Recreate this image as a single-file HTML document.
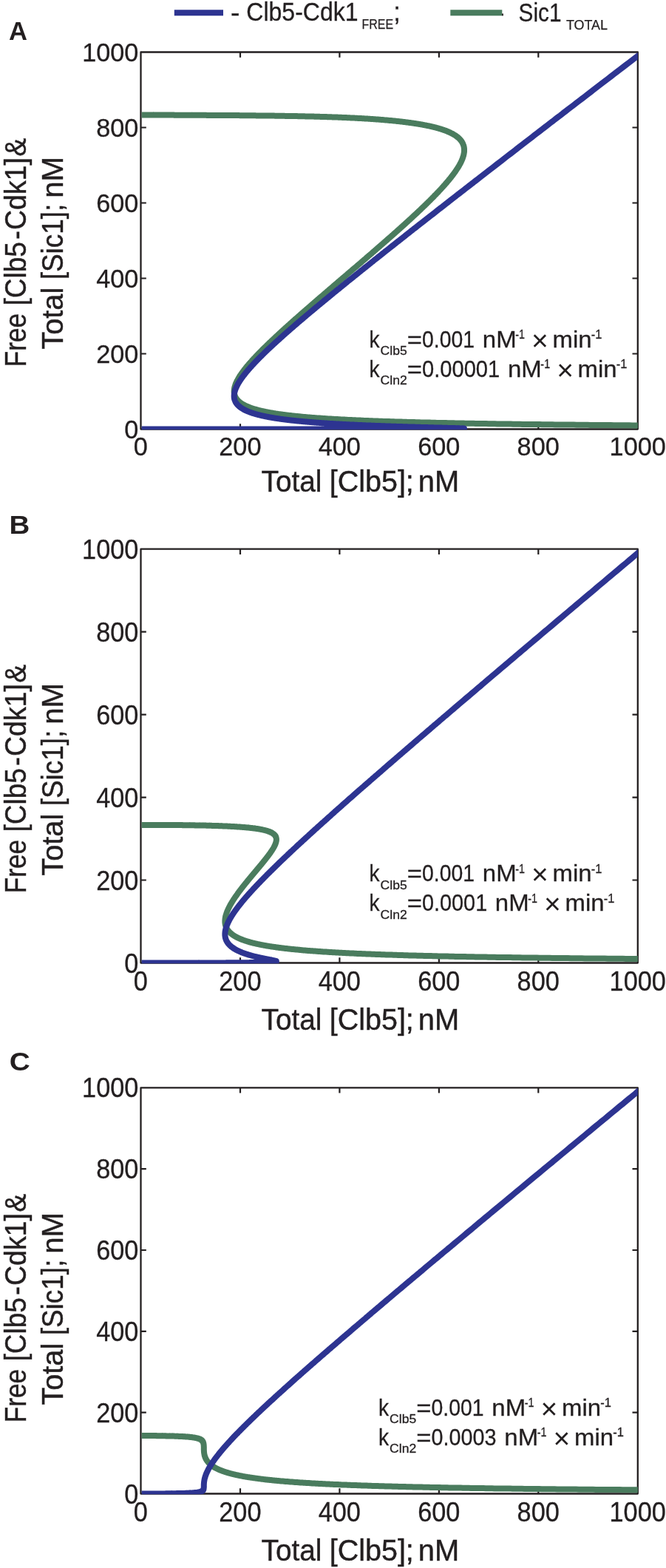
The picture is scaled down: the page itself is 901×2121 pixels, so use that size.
<!DOCTYPE html>
<html lang="en"><head><meta charset="utf-8"><title>Figure</title>
<style>html,body{margin:0;padding:0;background:#fff}svg{display:block}</style></head>
<body>
<svg width="901" height="2121" viewBox="0 0 901 2121">
<rect width="901" height="2121" fill="#fff"/>
<defs>
<clipPath id="cbA"><rect x="191.6" y="71.3" width="671.3" height="510.0"/></clipPath>
<clipPath id="cbB"><rect x="191.6" y="743.5" width="671.3" height="559.8"/></clipPath>
<clipPath id="cbC"><rect x="191.6" y="1472.1" width="671.3" height="549.2"/></clipPath>
</defs>
<line x1="235.8" y1="17.2" x2="302" y2="17.2" stroke="#2d3491" stroke-width="8"/>
<line x1="609.3" y1="17.2" x2="679.3" y2="17.2" stroke="#4a7c5e" stroke-width="8"/>
<rect x="679.1" y="18.4" width="1.8" height="2.9" fill="#231f20"/>
<g font-family="'Liberation Sans', sans-serif" fill="#231f20" stroke="#231f20" stroke-width="0.3">
<text x="311.94" y="29.4" font-size="34.3" textLength="12.41" lengthAdjust="spacingAndGlyphs">-</text>
<text x="333.27" y="28.0" font-size="34.3" textLength="151.29" lengthAdjust="spacingAndGlyphs">Clb5-Cdk1</text>
<text x="489.49" y="39.3" font-size="18.8" textLength="42.60" lengthAdjust="spacingAndGlyphs" stroke="#231f20" stroke-width="0.25">FREE</text>
<text x="532.3" y="28" font-size="34.3">;</text>
<text x="701.55" y="28.5" font-size="34.3" textLength="57.91" lengthAdjust="spacingAndGlyphs">Sic1</text>
<text x="765.91" y="39.5" font-size="18.8" textLength="56.07" lengthAdjust="spacingAndGlyphs" stroke="#231f20" stroke-width="0.25">TOTAL</text>
</g>
<rect x="190.5" y="70.5" width="672.3" height="510.0" fill="none" stroke="#231f20" stroke-width="2.3" stroke-linejoin="round"/>
<path d="M325.0,580.5 v-7.3 M325.0,70.5 v7.3 M190.5,478.5 h7.3 M862.8,478.5 h-7.3 M459.4,580.5 v-7.3 M459.4,70.5 v7.3 M190.5,376.5 h7.3 M862.8,376.5 h-7.3 M593.9,580.5 v-7.3 M593.9,70.5 v7.3 M190.5,274.5 h7.3 M862.8,274.5 h-7.3 M728.3,580.5 v-7.3 M728.3,70.5 v7.3 M190.5,172.5 h7.3 M862.8,172.5 h-7.3" stroke="#231f20" stroke-width="2.2" fill="none"/>
<g fill="none" stroke-width="8" stroke-linejoin="round">
<path clip-path="url(#cbA)" stroke="#4a7c5e" d="M190.5,155.5 L191.7,155.5 L191.8,155.5 L191.9,155.5 L192.0,155.5 L192.1,155.5 L192.2,155.5 L192.3,155.5 L192.4,155.5 L192.5,155.5 L192.6,155.5 L192.7,155.5 L192.8,155.5 L192.9,155.5 L193.0,155.5 L193.1,155.5 L193.2,155.5 L193.3,155.5 L193.4,155.5 L193.5,155.5 L193.6,155.5 L193.7,155.5 L193.8,155.5 L193.9,155.5 L194.0,155.5 L194.1,155.5 L194.2,155.5 L194.3,155.5 L194.4,155.5 L194.5,155.5 L194.6,155.5 L194.7,155.5 L194.8,155.5 L194.9,155.5 L195.0,155.5 L195.1,155.5 L195.2,155.5 L195.3,155.5 L195.4,155.5 L195.5,155.5 L195.6,155.5 L195.7,155.5 L195.8,155.5 L195.9,155.5 L196.0,155.5 L196.1,155.5 L196.2,155.5 L196.3,155.5 L196.4,155.5 L196.5,155.5 L196.6,155.5 L196.7,155.5 L196.8,155.5 L196.9,155.5 L197.0,155.5 L197.1,155.5 L197.2,155.5 L197.3,155.5 L197.4,155.5 L197.5,155.5 L197.6,155.5 L197.7,155.5 L197.8,155.5 L197.9,155.5 L198.0,155.5 L198.1,155.5 L198.2,155.5 L198.3,155.5 L198.4,155.5 L198.5,155.5 L198.6,155.5 L198.7,155.5 L198.8,155.5 L198.9,155.5 L199.0,155.5 L199.1,155.5 L199.2,155.5 L199.3,155.5 L199.4,155.5 L199.5,155.5 L199.6,155.5 L199.7,155.5 L199.8,155.5 L199.9,155.5 L200.0,155.5 L200.1,155.5 L200.2,155.5 L200.3,155.5 L200.4,155.5 L200.5,155.5 L200.6,155.5 L200.7,155.5 L200.8,155.5 L200.9,155.5 L201.0,155.5 L201.1,155.5 L201.2,155.5 L201.3,155.5 L201.4,155.5 L201.5,155.5 L201.6,155.5 L201.7,155.5 L201.8,155.5 L201.9,155.5 L202.0,155.5 L202.1,155.5 L202.2,155.5 L202.3,155.5 L202.4,155.5 L202.5,155.5 L202.6,155.5 L202.7,155.5 L202.8,155.5 L202.9,155.5 L203.0,155.5 L203.1,155.5 L203.2,155.5 L203.3,155.5 L203.4,155.5 L203.5,155.5 L203.6,155.5 L203.7,155.5 L203.8,155.5 L203.9,155.5 L204.0,155.5 L204.1,155.5 L204.2,155.5 L204.3,155.5 L204.4,155.5 L204.5,155.5 L204.6,155.5 L204.7,155.5 L204.8,155.5 L204.9,155.5 L205.0,155.5 L205.1,155.5 L205.2,155.5 L205.3,155.5 L205.4,155.5 L205.5,155.5 L205.6,155.5 L205.7,155.5 L205.8,155.5 L205.9,155.5 L206.0,155.5 L206.1,155.5 L206.2,155.5 L206.3,155.5 L206.4,155.5 L206.5,155.5 L206.6,155.5 L206.7,155.5 L206.8,155.5 L206.9,155.5 L207.0,155.5 L207.1,155.5 L207.2,155.6 L207.3,155.6 L207.4,155.6 L207.5,155.6 L207.7,155.6 L207.8,155.6 L207.9,155.6 L208.0,155.6 L208.1,155.6 L208.2,155.6 L208.3,155.6 L208.4,155.6 L208.5,155.6 L208.6,155.6 L208.7,155.6 L208.8,155.6 L209.0,155.6 L209.1,155.6 L209.2,155.6 L209.3,155.6 L209.4,155.6 L209.5,155.6 L209.6,155.6 L209.8,155.6 L209.9,155.6 L210.0,155.6 L210.1,155.6 L210.2,155.6 L210.4,155.6 L210.5,155.6 L210.6,155.6 L210.7,155.6 L210.8,155.6 L211.0,155.6 L211.1,155.6 L211.2,155.6 L211.3,155.6 L211.5,155.6 L211.6,155.6 L211.7,155.6 L211.9,155.6 L212.0,155.6 L212.1,155.6 L212.2,155.6 L212.4,155.6 L212.5,155.6 L212.6,155.6 L212.8,155.6 L212.9,155.6 L213.0,155.6 L213.2,155.6 L213.3,155.6 L213.5,155.6 L213.6,155.6 L213.7,155.6 L213.9,155.6 L214.0,155.6 L214.2,155.6 L214.3,155.6 L214.4,155.6 L214.6,155.6 L214.7,155.6 L214.9,155.6 L215.0,155.6 L215.2,155.6 L215.3,155.6 L215.5,155.6 L215.6,155.6 L215.8,155.6 L215.9,155.6 L216.1,155.6 L216.2,155.6 L216.4,155.6 L216.5,155.6 L216.7,155.6 L216.8,155.6 L217.0,155.6 L217.2,155.6 L217.3,155.6 L217.5,155.6 L217.6,155.6 L217.8,155.6 L218.0,155.6 L218.1,155.6 L218.3,155.6 L218.5,155.6 L218.6,155.6 L218.8,155.6 L219.0,155.6 L219.1,155.6 L219.3,155.6 L219.5,155.6 L219.6,155.6 L219.8,155.6 L220.0,155.6 L220.1,155.6 L220.3,155.6 L220.5,155.6 L220.7,155.6 L220.9,155.6 L221.0,155.6 L221.2,155.6 L221.4,155.6 L221.6,155.6 L221.8,155.6 L221.9,155.6 L222.1,155.6 L222.3,155.6 L222.5,155.6 L222.7,155.6 L222.9,155.6 L223.1,155.6 L223.2,155.6 L223.4,155.6 L223.6,155.6 L223.8,155.6 L224.0,155.6 L224.2,155.6 L224.4,155.6 L224.6,155.6 L224.8,155.6 L225.0,155.6 L225.2,155.6 L225.4,155.6 L225.6,155.6 L225.8,155.6 L226.0,155.6 L226.2,155.6 L226.4,155.6 L226.6,155.6 L226.8,155.6 L227.0,155.6 L227.2,155.6 L227.5,155.6 L227.7,155.6 L227.9,155.6 L228.1,155.6 L228.3,155.6 L228.5,155.6 L228.7,155.6 L229.0,155.6 L229.2,155.6 L229.4,155.6 L229.6,155.6 L229.9,155.6 L230.1,155.6 L230.3,155.6 L230.5,155.6 L230.8,155.6 L231.0,155.6 L231.2,155.6 L231.4,155.6 L231.7,155.6 L231.9,155.6 L232.1,155.6 L232.4,155.6 L232.6,155.6 L232.9,155.6 L233.1,155.6 L233.3,155.6 L233.6,155.6 L233.8,155.6 L234.1,155.6 L234.3,155.6 L234.5,155.6 L234.8,155.6 L235.0,155.6 L235.3,155.6 L235.5,155.6 L235.8,155.7 L236.0,155.7 L236.3,155.7 L236.5,155.7 L236.8,155.7 L237.1,155.7 L237.3,155.7 L237.6,155.7 L237.8,155.7 L238.1,155.7 L238.4,155.7 L238.6,155.7 L238.9,155.7 L239.2,155.7 L239.4,155.7 L239.7,155.7 L240.0,155.7 L240.2,155.7 L240.5,155.7 L240.8,155.7 L241.1,155.7 L241.3,155.7 L241.6,155.7 L241.9,155.7 L242.2,155.7 L242.4,155.7 L242.7,155.7 L243.0,155.7 L243.3,155.7 L243.6,155.7 L243.9,155.7 L244.2,155.7 L244.5,155.7 L244.7,155.7 L245.0,155.7 L245.3,155.7 L245.6,155.7 L245.9,155.7 L246.2,155.7 L246.5,155.7 L246.8,155.7 L247.1,155.7 L247.4,155.7 L247.7,155.7 L248.0,155.7 L248.3,155.7 L248.6,155.7 L248.9,155.7 L249.3,155.7 L249.6,155.7 L249.9,155.7 L250.2,155.7 L250.5,155.7 L250.8,155.7 L251.1,155.7 L251.5,155.7 L251.8,155.7 L252.1,155.7 L252.4,155.7 L252.8,155.7 L253.1,155.7 L253.4,155.7 L253.7,155.7 L254.1,155.7 L254.4,155.7 L254.7,155.7 L255.1,155.7 L255.4,155.7 L255.7,155.7 L256.1,155.7 L256.4,155.7 L256.7,155.7 L257.1,155.7 L257.4,155.7 L257.8,155.7 L258.1,155.7 L258.5,155.7 L258.8,155.7 L259.2,155.7 L259.5,155.8 L259.9,155.8 L260.2,155.8 L260.6,155.8 L260.9,155.8 L261.3,155.8 L261.6,155.8 L262.0,155.8 L262.4,155.8 L262.7,155.8 L263.1,155.8 L263.4,155.8 L263.8,155.8 L264.2,155.8 L264.5,155.8 L264.9,155.8 L265.3,155.8 L265.7,155.8 L266.0,155.8 L266.4,155.8 L266.8,155.8 L267.2,155.8 L267.5,155.8 L267.9,155.8 L268.3,155.8 L268.7,155.8 L269.1,155.8 L269.4,155.8 L269.8,155.8 L270.2,155.8 L270.6,155.8 L271.0,155.8 L271.4,155.8 L271.8,155.8 L272.2,155.8 L272.6,155.8 L273.0,155.8 L273.4,155.8 L273.8,155.8 L274.2,155.8 L274.6,155.8 L275.0,155.8 L275.4,155.8 L275.8,155.8 L276.2,155.8 L276.6,155.8 L277.0,155.8 L277.4,155.8 L277.8,155.8 L278.2,155.8 L278.7,155.8 L279.1,155.8 L279.5,155.9 L279.9,155.9 L280.3,155.9 L280.8,155.9 L281.2,155.9 L281.6,155.9 L282.0,155.9 L282.4,155.9 L282.9,155.9 L283.3,155.9 L283.7,155.9 L284.2,155.9 L284.6,155.9 L285.0,155.9 L285.5,155.9 L285.9,155.9 L286.3,155.9 L286.8,155.9 L287.2,155.9 L287.6,155.9 L288.1,155.9 L288.5,155.9 L289.0,155.9 L289.4,155.9 L289.9,155.9 L290.3,155.9 L290.8,155.9 L291.2,155.9 L291.7,155.9 L292.1,155.9 L292.6,155.9 L293.0,155.9 L293.5,155.9 L293.9,155.9 L294.4,155.9 L294.8,155.9 L295.3,155.9 L295.8,155.9 L296.2,156.0 L296.7,156.0 L297.2,156.0 L297.6,156.0 L298.1,156.0 L298.5,156.0 L299.0,156.0 L299.5,156.0 L300.0,156.0 L300.4,156.0 L300.9,156.0 L301.4,156.0 L301.8,156.0 L302.3,156.0 L302.8,156.0 L303.3,156.0 L303.8,156.0 L304.2,156.0 L304.7,156.0 L305.2,156.0 L305.7,156.0 L306.2,156.0 L306.7,156.0 L307.1,156.0 L307.6,156.0 L308.1,156.0 L308.6,156.0 L309.1,156.0 L309.6,156.0 L310.1,156.0 L310.6,156.0 L311.1,156.1 L311.6,156.1 L312.0,156.1 L312.5,156.1 L313.0,156.1 L313.5,156.1 L314.0,156.1 L314.5,156.1 L315.0,156.1 L315.5,156.1 L316.0,156.1 L316.5,156.1 L317.0,156.1 L317.6,156.1 L318.1,156.1 L318.6,156.1 L319.1,156.1 L319.6,156.1 L320.1,156.1 L320.6,156.1 L321.1,156.1 L321.6,156.1 L322.1,156.1 L322.6,156.1 L323.2,156.1 L323.7,156.1 L324.2,156.2 L324.7,156.2 L325.2,156.2 L325.7,156.2 L326.3,156.2 L326.8,156.2 L327.3,156.2 L327.8,156.2 L328.3,156.2 L328.9,156.2 L329.4,156.2 L329.9,156.2 L330.4,156.2 L331.0,156.2 L331.5,156.2 L332.0,156.2 L332.5,156.2 L333.1,156.2 L333.6,156.2 L334.1,156.2 L334.7,156.2 L335.2,156.2 L335.7,156.3 L336.2,156.3 L336.8,156.3 L337.3,156.3 L337.8,156.3 L338.4,156.3 L338.9,156.3 L339.4,156.3 L340.0,156.3 L340.5,156.3 L341.1,156.3 L341.6,156.3 L342.1,156.3 L342.7,156.3 L343.2,156.3 L343.7,156.3 L344.3,156.3 L344.8,156.3 L345.4,156.3 L345.9,156.3 L346.4,156.4 L347.0,156.4 L347.5,156.4 L348.1,156.4 L348.6,156.4 L349.2,156.4 L349.7,156.4 L350.2,156.4 L350.8,156.4 L351.3,156.4 L351.9,156.4 L352.4,156.4 L353.0,156.4 L353.5,156.4 L354.1,156.4 L354.6,156.4 L355.2,156.4 L355.7,156.5 L356.3,156.5 L356.8,156.5 L357.3,156.5 L357.9,156.5 L358.4,156.5 L359.0,156.5 L359.5,156.5 L360.1,156.5 L360.6,156.5 L361.2,156.5 L361.8,156.5 L362.3,156.5 L362.9,156.5 L363.4,156.5 L364.0,156.6 L364.5,156.6 L365.1,156.6 L365.6,156.6 L366.2,156.6 L366.7,156.6 L367.3,156.6 L367.8,156.6 L368.4,156.6 L368.9,156.6 L369.5,156.6 L370.0,156.6 L370.6,156.6 L371.2,156.6 L371.7,156.7 L372.3,156.7 L372.8,156.7 L373.4,156.7 L373.9,156.7 L374.5,156.7 L375.0,156.7 L375.6,156.7 L376.2,156.7 L376.7,156.7 L377.3,156.7 L377.8,156.7 L378.4,156.7 L378.9,156.8 L379.5,156.8 L380.0,156.8 L380.6,156.8 L381.2,156.8 L381.7,156.8 L382.3,156.8 L382.8,156.8 L383.4,156.8 L383.9,156.8 L384.5,156.8 L385.1,156.8 L385.6,156.9 L386.2,156.9 L386.7,156.9 L387.3,156.9 L387.8,156.9 L388.4,156.9 L389.0,156.9 L389.5,156.9 L390.1,156.9 L390.6,156.9 L391.2,156.9 L391.7,157.0 L392.3,157.0 L392.8,157.0 L393.4,157.0 L394.0,157.0 L394.5,157.0 L395.1,157.0 L395.6,157.0 L396.2,157.0 L396.7,157.0 L397.3,157.1 L397.9,157.1 L398.4,157.1 L399.0,157.1 L399.5,157.1 L400.1,157.1 L400.6,157.1 L401.2,157.1 L401.7,157.1 L402.3,157.1 L402.8,157.2 L403.4,157.2 L404.0,157.2 L404.5,157.2 L405.1,157.2 L405.6,157.2 L406.2,157.2 L406.7,157.2 L407.3,157.2 L407.8,157.3 L408.4,157.3 L408.9,157.3 L409.5,157.3 L410.0,157.3 L410.6,157.3 L411.2,157.3 L411.7,157.3 L412.3,157.3 L412.8,157.4 L413.4,157.4 L413.9,157.4 L414.5,157.4 L415.0,157.4 L415.6,157.4 L416.1,157.4 L416.7,157.4 L417.2,157.5 L417.8,157.5 L418.3,157.5 L418.9,157.5 L419.4,157.5 L420.0,157.5 L420.5,157.5 L421.1,157.5 L421.6,157.6 L422.2,157.6 L422.7,157.6 L423.3,157.6 L423.8,157.6 L424.4,157.6 L424.9,157.6 L425.5,157.7 L426.0,157.7 L426.6,157.7 L427.1,157.7 L427.6,157.7 L428.2,157.7 L428.7,157.7 L429.3,157.8 L429.8,157.8 L430.4,157.8 L430.9,157.8 L431.5,157.8 L432.0,157.8 L432.6,157.8 L433.1,157.9 L433.6,157.9 L434.2,157.9 L434.7,157.9 L435.3,157.9 L435.8,157.9 L436.4,158.0 L436.9,158.0 L437.5,158.0 L438.0,158.0 L438.5,158.0 L439.1,158.0 L439.6,158.1 L440.2,158.1 L440.7,158.1 L441.2,158.1 L441.8,158.1 L442.3,158.1 L442.9,158.2 L443.4,158.2 L444.0,158.2 L444.5,158.2 L445.0,158.2 L445.6,158.2 L446.1,158.3 L446.7,158.3 L447.2,158.3 L447.7,158.3 L448.3,158.3 L448.8,158.3 L449.3,158.4 L449.9,158.4 L450.4,158.4 L451.0,158.4 L451.5,158.4 L452.0,158.5 L452.6,158.5 L453.1,158.5 L453.6,158.5 L454.2,158.5 L454.7,158.6 L455.3,158.6 L455.8,158.6 L456.3,158.6 L456.9,158.6 L457.4,158.7 L457.9,158.7 L458.5,158.7 L459.0,158.7 L459.5,158.7 L460.1,158.8 L460.6,158.8 L461.1,158.8 L461.7,158.8 L462.2,158.8 L462.7,158.9 L463.3,158.9 L463.8,158.9 L464.3,158.9 L464.9,159.0 L465.4,159.0 L465.9,159.0 L466.5,159.0 L467.0,159.0 L467.5,159.1 L468.1,159.1 L468.6,159.1 L469.1,159.1 L469.7,159.2 L470.2,159.2 L470.7,159.2 L471.2,159.2 L471.8,159.3 L472.3,159.3 L472.8,159.3 L473.4,159.3 L473.9,159.4 L474.4,159.4 L475.0,159.4 L475.5,159.4 L476.0,159.5 L476.5,159.5 L477.1,159.5 L477.6,159.5 L478.1,159.6 L478.7,159.6 L479.2,159.6 L479.7,159.6 L480.2,159.7 L480.8,159.7 L481.3,159.7 L481.8,159.7 L482.3,159.8 L482.9,159.8 L483.4,159.8 L483.9,159.9 L484.5,159.9 L485.0,159.9 L485.5,159.9 L486.0,160.0 L486.6,160.0 L487.1,160.0 L487.6,160.1 L488.1,160.1 L488.7,160.1 L489.2,160.1 L489.7,160.2 L490.2,160.2 L490.8,160.2 L491.3,160.3 L491.8,160.3 L492.3,160.3 L492.9,160.4 L493.4,160.4 L493.9,160.4 L494.4,160.4 L495.0,160.5 L495.5,160.5 L496.0,160.5 L496.5,160.6 L497.0,160.6 L497.6,160.6 L498.1,160.7 L498.6,160.7 L499.1,160.7 L499.7,160.8 L500.2,160.8 L500.7,160.8 L501.2,160.9 L501.7,160.9 L502.3,160.9 L502.8,161.0 L503.3,161.0 L503.8,161.1 L504.3,161.1 L504.9,161.1 L505.4,161.2 L505.9,161.2 L506.4,161.2 L506.9,161.3 L507.5,161.3 L508.0,161.3 L508.5,161.4 L509.0,161.4 L509.5,161.5 L510.1,161.5 L510.6,161.5 L511.1,161.6 L511.6,161.6 L512.1,161.6 L512.6,161.7 L513.2,161.7 L513.7,161.8 L514.2,161.8 L514.7,161.8 L515.2,161.9 L515.7,161.9 L516.3,162.0 L516.8,162.0 L517.3,162.1 L517.8,162.1 L518.3,162.1 L518.8,162.2 L519.3,162.2 L519.9,162.3 L520.4,162.3 L520.9,162.4 L521.4,162.4 L521.9,162.4 L522.4,162.5 L522.9,162.5 L523.5,162.6 L524.0,162.6 L524.5,162.7 L525.0,162.7 L525.5,162.8 L526.0,162.8 L526.5,162.9 L527.0,162.9 L527.5,162.9 L528.1,163.0 L528.6,163.0 L529.1,163.1 L529.6,163.1 L530.1,163.2 L530.6,163.2 L531.1,163.3 L531.6,163.3 L532.1,163.4 L532.6,163.4 L533.1,163.5 L533.6,163.5 L534.1,163.6 L534.7,163.6 L535.2,163.7 L535.7,163.7 L536.2,163.8 L536.7,163.9 L537.2,163.9 L537.7,164.0 L538.2,164.0 L538.7,164.1 L539.2,164.1 L539.7,164.2 L540.2,164.2 L540.7,164.3 L541.2,164.3 L541.7,164.4 L542.2,164.5 L542.7,164.5 L543.2,164.6 L543.7,164.6 L544.2,164.7 L544.7,164.7 L545.2,164.8 L545.7,164.9 L546.2,164.9 L546.7,165.0 L547.2,165.0 L547.7,165.1 L548.1,165.2 L548.6,165.2 L549.1,165.3 L549.6,165.4 L550.1,165.4 L550.6,165.5 L551.1,165.5 L551.6,165.6 L552.1,165.7 L552.6,165.7 L553.1,165.8 L553.5,165.9 L554.0,165.9 L554.5,166.0 L555.0,166.1 L555.5,166.1 L556.0,166.2 L556.4,166.3 L556.9,166.3 L557.4,166.4 L557.9,166.5 L558.4,166.5 L558.9,166.6 L559.3,166.7 L559.8,166.8 L560.3,166.8 L560.8,166.9 L561.2,167.0 L561.7,167.0 L562.2,167.1 L562.7,167.2 L563.1,167.3 L563.6,167.3 L564.1,167.4 L564.6,167.5 L565.0,167.6 L565.5,167.6 L566.0,167.7 L566.4,167.8 L566.9,167.9 L567.4,167.9 L567.8,168.0 L568.3,168.1 L568.7,168.2 L569.2,168.3 L569.7,168.3 L570.1,168.4 L570.6,168.5 L571.0,168.6 L571.5,168.7 L572.0,168.8 L572.4,168.8 L572.9,168.9 L573.3,169.0 L573.8,169.1 L574.2,169.2 L574.7,169.3 L575.1,169.4 L575.6,169.4 L576.0,169.5 L576.5,169.6 L576.9,169.7 L577.3,169.8 L577.8,169.9 L578.2,170.0 L578.7,170.1 L579.1,170.2 L579.5,170.2 L580.0,170.3 L580.4,170.4 L580.9,170.5 L581.3,170.6 L581.7,170.7 L582.1,170.8 L582.6,170.9 L583.0,171.0 L583.4,171.1 L583.9,171.2 L584.3,171.3 L584.7,171.4 L585.1,171.5 L585.5,171.6 L586.0,171.7 L586.4,171.8 L586.8,171.9 L587.2,172.0 L587.6,172.1 L588.0,172.2 L588.4,172.3 L588.8,172.4 L589.3,172.5 L589.7,172.6 L590.1,172.7 L590.5,172.8 L590.9,173.0 L591.3,173.1 L591.7,173.2 L592.1,173.3 L592.5,173.4 L592.9,173.5 L593.2,173.6 L593.6,173.7 L594.0,173.8 L594.4,174.0 L594.8,174.1 L595.2,174.2 L595.6,174.3 L595.9,174.4 L596.3,174.5 L596.7,174.7 L597.1,174.8 L597.5,174.9 L597.8,175.0 L598.2,175.1 L598.6,175.3 L598.9,175.4 L599.3,175.5 L599.7,175.6 L600.0,175.8 L600.4,175.9 L600.7,176.0 L601.1,176.1 L601.5,176.3 L601.8,176.4 L602.2,176.5 L602.5,176.6 L602.9,176.8 L603.2,176.9 L603.6,177.0 L603.9,177.2 L604.2,177.3 L604.6,177.4 L604.9,177.6 L605.2,177.7 L605.6,177.9 L605.9,178.0 L606.2,178.1 L606.6,178.3 L606.9,178.4 L607.2,178.6 L607.5,178.7 L607.8,178.8 L608.2,179.0 L608.5,179.1 L608.8,179.3 L609.1,179.4 L609.4,179.6 L609.7,179.7 L610.0,179.9 L610.3,180.0 L610.6,180.2 L610.9,180.3 L611.2,180.5 L611.5,180.6 L611.8,180.8 L612.1,180.9 L612.4,181.1 L612.6,181.2 L612.9,181.4 L613.2,181.5 L613.5,181.7 L613.8,181.9 L614.0,182.0 L614.3,182.2 L614.6,182.4 L614.8,182.5 L615.1,182.7 L615.4,182.8 L615.6,183.0 L615.9,183.2 L616.1,183.3 L616.4,183.5 L616.6,183.7 L616.9,183.9 L617.1,184.0 L617.4,184.2 L617.6,184.4 L617.8,184.6 L618.1,184.7 L618.3,184.9 L618.5,185.1 L618.8,185.3 L619.0,185.4 L619.2,185.6 L619.4,185.8 L619.6,186.0 L619.9,186.2 L620.1,186.4 L620.3,186.5 L620.5,186.7 L620.7,186.9 L620.9,187.1 L621.1,187.3 L621.3,187.5 L621.5,187.7 L621.7,187.9 L621.9,188.1 L622.0,188.3 L622.2,188.5 L622.4,188.7 L622.6,188.9 L622.8,189.1 L622.9,189.3 L623.1,189.5 L623.3,189.7 L623.4,189.9 L623.6,190.1 L623.8,190.3 L623.9,190.5 L624.1,190.7 L624.2,190.9 L624.4,191.1 L624.5,191.3 L624.7,191.6 L624.8,191.8 L624.9,192.0 L625.1,192.2 L625.2,192.4 L625.3,192.6 L625.4,192.9 L625.6,193.1 L625.7,193.3 L625.8,193.5 L625.9,193.7 L626.0,194.0 L626.1,194.2 L626.2,194.4 L626.3,194.7 L626.4,194.9 L626.5,195.1 L626.6,195.4 L626.7,195.6 L626.8,195.8 L626.9,196.1 L627.0,196.3 L627.1,196.5 L627.1,196.8 L627.2,197.0 L627.3,197.3 L627.3,197.5 L627.4,197.8 L627.5,198.0 L627.5,198.3 L627.6,198.5 L627.6,198.8 L627.7,199.0 L627.7,199.3 L627.8,199.5 L627.8,199.8 L627.8,200.0 L627.9,200.3 L627.9,200.6 L627.9,200.8 L628.0,201.1 L628.0,201.4 L628.0,201.6 L628.0,201.9 L628.0,202.2 L628.0,202.4 L628.0,202.7 L628.0,203.0 L628.0,203.2 L628.0,203.5 L628.0,203.8 L628.0,204.1 L628.0,204.4 L628.0,204.6 L628.0,204.9 L627.9,205.2 L627.9,205.5 L627.9,205.8 L627.9,206.1 L627.8,206.4 L627.8,206.6 L627.7,206.9 L627.7,207.2 L627.6,207.5 L627.6,207.8 L627.5,208.1 L627.5,208.4 L627.4,208.7 L627.3,209.0 L627.3,209.3 L627.2,209.6 L627.1,209.9 L627.1,210.2 L627.0,210.6 L626.9,210.9 L626.8,211.2 L626.7,211.5 L626.6,211.8 L626.5,212.1 L626.4,212.5 L626.3,212.8 L626.2,213.1 L626.1,213.4 L626.0,213.7 L625.9,214.1 L625.7,214.4 L625.6,214.7 L625.5,215.1 L625.4,215.4 L625.2,215.7 L625.1,216.1 L624.9,216.4 L624.8,216.7 L624.6,217.1 L624.5,217.4 L624.3,217.8 L624.2,218.1 L624.0,218.5 L623.9,218.8 L623.7,219.2 L623.5,219.5 L623.3,219.9 L623.2,220.2 L623.0,220.6 L622.8,220.9 L622.6,221.3 L622.4,221.7 L622.2,222.0 L622.0,222.4 L621.8,222.8 L621.6,223.1 L621.4,223.5 L621.2,223.9 L621.0,224.2 L620.8,224.6 L620.5,225.0 L620.3,225.4 L620.1,225.7 L619.9,226.1 L619.6,226.5 L619.4,226.9 L619.1,227.3 L618.9,227.7 L618.6,228.1 L618.4,228.4 L618.1,228.8 L617.9,229.2 L617.6,229.6 L617.3,230.0 L617.1,230.4 L616.8,230.8 L616.5,231.2 L616.3,231.6 L616.0,232.0 L615.7,232.5 L615.4,232.9 L615.1,233.3 L614.8,233.7 L614.5,234.1 L614.2,234.5 L613.9,234.9 L613.6,235.4 L613.3,235.8 L613.0,236.2 L612.6,236.6 L612.3,237.1 L612.0,237.5 L611.7,237.9 L611.3,238.3 L611.0,238.8 L610.6,239.2 L610.3,239.6 L610.0,240.1 L609.6,240.5 L609.3,241.0 L608.9,241.4 L608.5,241.9 L608.2,242.3 L607.8,242.8 L607.4,243.2 L607.1,243.7 L606.7,244.1 L606.3,244.6 L605.9,245.0 L605.5,245.5 L605.1,245.9 L604.7,246.4 L604.4,246.9 L604.0,247.3 L603.5,247.8 L603.1,248.3 L602.7,248.7 L602.3,249.2 L601.9,249.7 L601.5,250.2 L601.1,250.7 L600.6,251.1 L600.2,251.6 L599.8,252.1 L599.3,252.6 L598.9,253.1 L598.5,253.6 L598.0,254.0 L597.6,254.5 L597.1,255.0 L596.7,255.5 L596.2,256.0 L595.7,256.5 L595.3,257.0 L594.8,257.5 L594.3,258.0 L593.9,258.5 L593.4,259.0 L592.9,259.6 L592.4,260.1 L591.9,260.6 L591.4,261.1 L590.9,261.6 L590.5,262.1 L590.0,262.6 L589.5,263.2 L588.9,263.7 L588.4,264.2 L587.9,264.7 L587.4,265.3 L586.9,265.8 L586.4,266.3 L585.9,266.9 L585.3,267.4 L584.8,267.9 L584.3,268.5 L583.7,269.0 L583.2,269.5 L582.6,270.1 L582.1,270.6 L581.6,271.2 L581.0,271.7 L580.5,272.3 L579.9,272.8 L579.3,273.4 L578.8,273.9 L578.2,274.5 L577.6,275.0 L577.1,275.6 L576.5,276.2 L575.9,276.7 L575.3,277.3 L574.8,277.8 L574.2,278.4 L573.6,279.0 L573.0,279.5 L572.4,280.1 L571.8,280.7 L571.2,281.3 L570.6,281.8 L570.0,282.4 L569.4,283.0 L568.8,283.6 L568.2,284.2 L567.6,284.7 L566.9,285.3 L566.3,285.9 L565.7,286.5 L565.1,287.1 L564.4,287.7 L563.8,288.3 L563.2,288.9 L562.6,289.5 L561.9,290.0 L561.3,290.6 L560.6,291.2 L560.0,291.8 L559.3,292.4 L558.7,293.0 L558.0,293.7 L557.4,294.3 L556.7,294.9 L556.1,295.5 L555.4,296.1 L554.7,296.7 L554.1,297.3 L553.4,297.9 L552.7,298.5 L552.0,299.2 L551.4,299.8 L550.7,300.4 L550.0,301.0 L549.3,301.6 L548.6,302.3 L548.0,302.9 L547.3,303.5 L546.6,304.1 L545.9,304.8 L545.2,305.4 L544.5,306.0 L543.8,306.6 L543.1,307.3 L542.4,307.9 L541.7,308.5 L541.0,309.2 L540.2,309.8 L539.5,310.5 L538.8,311.1 L538.1,311.7 L537.4,312.4 L536.7,313.0 L535.9,313.7 L535.2,314.3 L534.5,315.0 L533.8,315.6 L533.0,316.3 L532.3,316.9 L531.6,317.6 L530.8,318.2 L530.1,318.9 L529.4,319.5 L528.6,320.2 L527.9,320.8 L527.1,321.5 L526.4,322.1 L525.6,322.8 L524.9,323.4 L524.1,324.1 L523.4,324.8 L522.6,325.4 L521.9,326.1 L521.1,326.8 L520.4,327.4 L519.6,328.1 L518.8,328.7 L518.1,329.4 L517.3,330.1 L516.5,330.7 L515.8,331.4 L515.0,332.1 L514.2,332.8 L513.5,333.4 L512.7,334.1 L511.9,334.8 L511.2,335.4 L510.4,336.1 L509.6,336.8 L508.8,337.5 L508.0,338.1 L507.3,338.8 L506.5,339.5 L505.7,340.2 L504.9,340.8 L504.1,341.5 L503.4,342.2 L502.6,342.9 L501.8,343.6 L501.0,344.2 L500.2,344.9 L499.4,345.6 L498.6,346.3 L497.8,347.0 L497.0,347.7 L496.2,348.3 L495.5,349.0 L494.7,349.7 L493.9,350.4 L493.1,351.1 L492.3,351.8 L491.5,352.4 L490.7,353.1 L489.9,353.8 L489.1,354.5 L488.3,355.2 L487.5,355.9 L486.7,356.6 L485.9,357.2 L485.1,357.9 L484.3,358.6 L483.5,359.3 L482.7,360.0 L481.9,360.7 L481.1,361.4 L480.3,362.1 L479.5,362.8 L478.6,363.4 L477.8,364.1 L477.0,364.8 L476.2,365.5 L475.4,366.2 L474.6,366.9 L473.8,367.6 L473.0,368.3 L472.2,369.0 L471.4,369.6 L470.6,370.3 L469.8,371.0 L469.0,371.7 L468.2,372.4 L467.4,373.1 L466.6,373.8 L465.8,374.5 L465.0,375.2 L464.2,375.8 L463.4,376.5 L462.5,377.2 L461.7,377.9 L460.9,378.6 L460.1,379.3 L459.3,380.0 L458.5,380.7 L457.7,381.3 L456.9,382.0 L456.1,382.7 L455.3,383.4 L454.5,384.1 L453.7,384.8 L452.9,385.5 L452.1,386.1 L451.3,386.8 L450.5,387.5 L449.7,388.2 L448.9,388.9 L448.1,389.6 L447.3,390.2 L446.5,390.9 L445.7,391.6 L445.0,392.3 L444.2,393.0 L443.4,393.7 L442.6,394.3 L441.8,395.0 L441.0,395.7 L440.2,396.4 L439.4,397.0 L438.6,397.7 L437.8,398.4 L437.1,399.1 L436.3,399.7 L435.5,400.4 L434.7,401.1 L433.9,401.8 L433.2,402.4 L432.4,403.1 L431.6,403.8 L430.8,404.4 L430.0,405.1 L429.3,405.8 L428.5,406.4 L427.7,407.1 L427.0,407.8 L426.2,408.4 L425.4,409.1 L424.7,409.8 L423.9,410.4 L423.1,411.1 L422.4,411.8 L421.6,412.4 L420.8,413.1 L420.1,413.7 L419.3,414.4 L418.6,415.0 L417.8,415.7 L417.1,416.4 L416.3,417.0 L415.6,417.7 L414.8,418.3 L414.1,419.0 L413.3,419.6 L412.6,420.3 L411.8,420.9 L411.1,421.5 L410.4,422.2 L409.6,422.8 L408.9,423.5 L408.2,424.1 L407.4,424.8 L406.7,425.4 L406.0,426.0 L405.3,426.7 L404.5,427.3 L403.8,428.0 L403.1,428.6 L402.4,429.2 L401.7,429.8 L401.0,430.5 L400.2,431.1 L399.5,431.7 L398.8,432.4 L398.1,433.0 L397.4,433.6 L396.7,434.2 L396.0,434.9 L395.3,435.5 L394.6,436.1 L393.9,436.7 L393.2,437.3 L392.6,437.9 L391.9,438.6 L391.2,439.2 L390.5,439.8 L389.8,440.4 L389.1,441.0 L388.5,441.6 L387.8,442.2 L387.1,442.8 L386.5,443.4 L385.8,444.0 L385.1,444.6 L384.5,445.2 L383.8,445.8 L383.2,446.4 L382.5,447.0 L381.9,447.6 L381.2,448.2 L380.6,448.8 L379.9,449.4 L379.3,450.0 L378.6,450.6 L378.0,451.1 L377.4,451.7 L376.7,452.3 L376.1,452.9 L375.5,453.5 L374.9,454.0 L374.3,454.6 L373.6,455.2 L373.0,455.8 L372.4,456.3 L371.8,456.9 L371.2,457.5 L370.6,458.0 L370.0,458.6 L369.4,459.2 L368.8,459.7 L368.2,460.3 L367.6,460.8 L367.0,461.4 L366.4,462.0 L365.9,462.5 L365.3,463.1 L364.7,463.6 L364.1,464.2 L363.6,464.7 L363.0,465.3 L362.4,465.8 L361.9,466.3 L361.3,466.9 L360.8,467.4 L360.2,468.0 L359.7,468.5 L359.1,469.0 L358.6,469.6 L358.0,470.1 L357.5,470.6 L357.0,471.1 L356.4,471.7 L355.9,472.2 L355.4,472.7 L354.9,473.2 L354.3,473.8 L353.8,474.3 L353.3,474.8 L352.8,475.3 L352.3,475.8 L351.8,476.3 L351.3,476.8 L350.8,477.4 L350.3,477.9 L349.8,478.4 L349.3,478.9 L348.8,479.4 L348.4,479.9 L347.9,480.4 L347.4,480.9 L346.9,481.4 L346.5,481.8 L346.0,482.3 L345.5,482.8 L345.1,483.3 L344.6,483.8 L344.2,484.3 L343.7,484.8 L343.3,485.2 L342.8,485.7 L342.4,486.2 L342.0,486.7 L341.5,487.1 L341.1,487.6 L340.7,488.1 L340.3,488.6 L339.9,489.0 L339.4,489.5 L339.0,490.0 L338.6,490.4 L338.2,490.9 L337.8,491.3 L337.4,491.8 L337.0,492.2 L336.6,492.7 L336.3,493.1 L335.9,493.6 L335.5,494.0 L335.1,494.5 L334.7,494.9 L334.4,495.4 L334.0,495.8 L333.6,496.3 L333.3,496.7 L332.9,497.1 L332.6,497.6 L332.2,498.0 L331.9,498.4 L331.6,498.9 L331.2,499.3 L330.9,499.7 L330.6,500.1 L330.2,500.6 L329.9,501.0 L329.6,501.4 L329.3,501.8 L329.0,502.2 L328.7,502.6 L328.4,503.0 L328.1,503.5 L327.8,503.9 L327.5,504.3 L327.2,504.7 L326.9,505.1 L326.6,505.5 L326.3,505.9 L326.1,506.3 L325.8,506.7 L325.5,507.1 L325.3,507.5 L325.0,507.9 L324.7,508.2 L324.5,508.6 L324.3,509.0 L324.0,509.4 L323.8,509.8 L323.5,510.2 L323.3,510.6 L323.1,510.9 L322.8,511.3 L322.6,511.7 L322.4,512.1 L322.2,512.4 L322.0,512.8 L321.8,513.2 L321.6,513.5 L321.4,513.9 L321.2,514.3 L321.0,514.6 L320.8,515.0 L320.6,515.3 L320.5,515.7 L320.3,516.1 L320.1,516.4 L320.0,516.8 L319.8,517.1 L319.6,517.5 L319.5,517.8 L319.3,518.2 L319.2,518.5 L319.0,518.8 L318.9,519.2 L318.8,519.5 L318.6,519.9 L318.5,520.2 L318.4,520.5 L318.3,520.9 L318.2,521.2 L318.1,521.5 L318.0,521.9 L317.9,522.2 L317.8,522.5 L317.7,522.8 L317.6,523.2 L317.5,523.5 L317.4,523.8 L317.3,524.1 L317.3,524.4 L317.2,524.7 L317.1,525.1 L317.1,525.4 L317.0,525.7 L317.0,526.0 L316.9,526.3 L316.9,526.6 L316.9,526.9 L316.8,527.2 L316.8,527.5 L316.8,527.8 L316.7,528.1 L316.7,528.4 L316.7,528.7 L316.7,529.0 L316.7,529.3 L316.7,529.6 L316.7,529.9 L316.7,530.2 L316.7,530.5 L316.8,530.7 L316.8,531.0 L316.8,531.3 L316.8,531.6 L316.9,531.9 L316.9,532.1 L317.0,532.4 L317.0,532.7 L317.1,533.0 L317.1,533.2 L317.2,533.5 L317.3,533.8 L317.3,534.1 L317.4,534.3 L317.5,534.6 L317.6,534.9 L317.7,535.1 L317.8,535.4 L317.9,535.6 L318.0,535.9 L318.1,536.2 L318.2,536.4 L318.3,536.7 L318.4,536.9 L318.6,537.2 L318.7,537.4 L318.8,537.7 L319.0,537.9 L319.1,538.2 L319.3,538.4 L319.4,538.7 L319.6,538.9 L319.8,539.2 L319.9,539.4 L320.1,539.6 L320.3,539.9 L320.5,540.1 L320.7,540.4 L320.8,540.6 L321.0,540.8 L321.3,541.1 L321.5,541.3 L321.7,541.5 L321.9,541.7 L322.1,542.0 L322.3,542.2 L322.6,542.4 L322.8,542.7 L323.1,542.9 L323.3,543.1 L323.6,543.3 L323.8,543.5 L324.1,543.8 L324.4,544.0 L324.6,544.2 L324.9,544.4 L325.2,544.6 L325.5,544.8 L325.8,545.0 L326.1,545.3 L326.4,545.5 L326.7,545.7 L327.0,545.9 L327.3,546.1 L327.7,546.3 L328.0,546.5 L328.3,546.7 L328.7,546.9 L329.0,547.1 L329.4,547.3 L329.7,547.5 L330.1,547.7 L330.5,547.9 L330.9,548.1 L331.2,548.3 L331.6,548.5 L332.0,548.7 L332.4,548.8 L332.8,549.0 L333.2,549.2 L333.6,549.4 L334.1,549.6 L334.5,549.8 L334.9,550.0 L335.4,550.2 L335.8,550.3 L336.3,550.5 L336.7,550.7 L337.2,550.9 L337.6,551.1 L338.1,551.2 L338.6,551.4 L339.1,551.6 L339.6,551.8 L340.1,551.9 L340.6,552.1 L341.1,552.3 L341.6,552.4 L342.1,552.6 L342.6,552.8 L343.2,553.0 L343.7,553.1 L344.2,553.3 L344.8,553.4 L345.3,553.6 L345.9,553.8 L346.5,553.9 L347.1,554.1 L347.6,554.3 L348.2,554.4 L348.8,554.6 L349.4,554.7 L350.0,554.9 L350.6,555.0 L351.3,555.2 L351.9,555.4 L352.5,555.5 L353.2,555.7 L353.8,555.8 L354.5,556.0 L355.1,556.1 L355.8,556.3 L356.5,556.4 L357.1,556.6 L357.8,556.7 L358.5,556.8 L359.2,557.0 L359.9,557.1 L360.7,557.3 L361.4,557.4 L362.1,557.6 L362.8,557.7 L363.6,557.8 L364.3,558.0 L365.1,558.1 L365.9,558.3 L366.6,558.4 L367.4,558.5 L368.2,558.7 L369.0,558.8 L369.8,558.9 L370.6,559.1 L371.4,559.2 L372.2,559.3 L373.1,559.5 L373.9,559.6 L374.7,559.7 L375.6,559.8 L376.5,560.0 L377.3,560.1 L378.2,560.2 L379.1,560.3 L380.0,560.5 L380.9,560.6 L381.8,560.7 L382.7,560.8 L383.6,561.0 L384.5,561.1 L385.5,561.2 L386.4,561.3 L387.4,561.4 L388.4,561.6 L389.3,561.7 L390.3,561.8 L391.3,561.9 L392.3,562.0 L393.3,562.1 L394.3,562.2 L395.3,562.4 L396.4,562.5 L397.4,562.6 L398.4,562.7 L399.5,562.8 L400.6,562.9 L401.6,563.0 L402.7,563.1 L403.8,563.2 L404.9,563.3 L406.0,563.5 L407.1,563.6 L408.3,563.7 L409.4,563.8 L410.5,563.9 L411.7,564.0 L412.9,564.1 L414.0,564.2 L415.2,564.3 L416.4,564.4 L417.6,564.5 L418.8,564.6 L420.0,564.7 L421.3,564.8 L422.5,564.9 L423.7,565.0 L425.0,565.1 L426.3,565.2 L427.5,565.3 L428.8,565.4 L430.1,565.5 L431.4,565.5 L432.8,565.6 L434.1,565.7 L435.4,565.8 L436.8,565.9 L438.1,566.0 L439.5,566.1 L440.9,566.2 L442.3,566.3 L443.7,566.4 L445.1,566.5 L446.5,566.5 L447.9,566.6 L449.4,566.7 L450.8,566.8 L452.3,566.9 L453.8,567.0 L455.2,567.1 L456.7,567.1 L458.3,567.2 L459.8,567.3 L461.3,567.4 L462.8,567.5 L464.4,567.6 L466.0,567.6 L467.5,567.7 L469.1,567.8 L470.7,567.9 L472.3,568.0 L474.0,568.0 L475.6,568.1 L477.2,568.2 L478.9,568.3 L480.6,568.3 L482.3,568.4 L484.0,568.5 L485.7,568.6 L487.4,568.6 L489.1,568.7 L490.9,568.8 L492.6,568.9 L494.4,568.9 L496.2,569.0 L498.0,569.1 L499.8,569.2 L501.6,569.2 L503.4,569.3 L505.3,569.4 L507.1,569.4 L509.0,569.5 L510.9,569.6 L512.8,569.7 L514.7,569.7 L516.6,569.8 L518.6,569.9 L520.5,569.9 L522.5,570.0 L524.5,570.1 L526.5,570.1 L528.5,570.2 L530.5,570.3 L532.6,570.3 L534.6,570.4 L536.7,570.4 L538.8,570.5 L540.9,570.6 L543.0,570.6 L545.1,570.7 L547.3,570.8 L549.4,570.8 L551.6,570.9 L553.8,570.9 L556.0,571.0 L558.2,571.1 L560.4,571.1 L562.7,571.2 L565.0,571.2 L567.2,571.3 L569.5,571.4 L571.8,571.4 L574.2,571.5 L576.5,571.5 L578.9,571.6 L581.3,571.6 L583.6,571.7 L586.1,571.8 L588.5,571.8 L590.9,571.9 L593.4,571.9 L595.9,572.0 L598.4,572.0 L600.9,572.1 L603.4,572.1 L605.9,572.2 L608.5,572.2 L611.1,572.3 L613.7,572.3 L616.3,572.4 L618.9,572.4 L621.6,572.5 L624.3,572.6 L627.0,572.6 L629.7,572.7 L632.4,572.7 L635.1,572.8 L637.9,572.8 L640.7,572.8 L643.5,572.9 L646.3,572.9 L649.1,573.0 L652.0,573.0 L654.9,573.1 L657.8,573.1 L660.7,573.2 L663.6,573.2 L666.6,573.3 L669.5,573.3 L672.5,573.4 L675.6,573.4 L678.6,573.5 L681.7,573.5 L684.7,573.5 L687.8,573.6 L691.0,573.6 L694.1,573.7 L697.3,573.7 L700.4,573.8 L703.6,573.8 L706.9,573.9 L710.1,573.9 L713.4,573.9 L716.7,574.0 L720.0,574.0 L723.3,574.1 L726.7,574.1 L730.1,574.1 L733.5,574.2 L736.9,574.2 L740.4,574.3 L743.8,574.3 L747.3,574.3 L750.8,574.4 L754.4,574.4 L758.0,574.5 L761.5,574.5 L765.2,574.5 L768.8,574.6 L772.5,574.6 L776.2,574.6 L779.9,574.7 L783.6,574.7 L787.4,574.8 L791.2,574.8 L795.0,574.8 L798.8,574.9 L802.7,574.9 L806.6,574.9 L810.5,575.0 L814.4,575.0 L818.4,575.0 L822.4,575.1 L826.4,575.1 L830.4,575.2 L834.5,575.2 L838.6,575.2 L842.7,575.3 L846.9,575.3 L851.1,575.3 L855.3,575.4 L859.5,575.4 L863.8,575.4 L868.1,575.5 L872.4,575.5 L876.8,575.5 L881.2,575.5 L885.6,575.6 L890.0,575.6 L894.5,575.6 L899.0,575.7 L903.5,575.7 L908.1,575.7 L912.7,575.8 L917.3,575.8 L921.9,575.8 L926.6,575.9 L931.3,575.9 L936.1,575.9"/>
<path clip-path="url(#cbA)" stroke="#2d3491" d="M190.5,580.5 L191.7,580.5 L191.8,580.5 L191.9,580.5 L192.0,580.5 L192.1,580.5 L192.2,580.5 L192.3,580.5 L192.4,580.5 L192.5,580.5 L192.6,580.5 L192.7,580.5 L192.8,580.5 L192.9,580.5 L193.0,580.5 L193.1,580.5 L193.2,580.5 L193.3,580.5 L193.4,580.5 L193.5,580.5 L193.6,580.5 L193.7,580.5 L193.8,580.5 L193.9,580.5 L194.0,580.5 L194.1,580.5 L194.2,580.5 L194.3,580.5 L194.4,580.5 L194.5,580.5 L194.6,580.5 L194.7,580.5 L194.8,580.5 L194.9,580.5 L195.0,580.5 L195.1,580.5 L195.2,580.5 L195.3,580.5 L195.4,580.5 L195.5,580.5 L195.6,580.5 L195.7,580.5 L195.8,580.5 L195.9,580.5 L196.0,580.5 L196.1,580.5 L196.2,580.5 L196.3,580.5 L196.4,580.5 L196.5,580.5 L196.6,580.5 L196.7,580.5 L196.8,580.5 L196.9,580.5 L197.0,580.5 L197.1,580.5 L197.2,580.5 L197.3,580.5 L197.4,580.5 L197.5,580.5 L197.6,580.5 L197.7,580.5 L197.8,580.5 L197.9,580.5 L198.0,580.5 L198.1,580.5 L198.2,580.5 L198.3,580.5 L198.4,580.5 L198.5,580.5 L198.6,580.5 L198.7,580.5 L198.8,580.5 L198.9,580.5 L199.0,580.5 L199.1,580.5 L199.2,580.5 L199.3,580.5 L199.4,580.5 L199.5,580.5 L199.6,580.5 L199.7,580.5 L199.8,580.5 L199.9,580.5 L200.0,580.5 L200.1,580.5 L200.2,580.5 L200.3,580.5 L200.4,580.5 L200.5,580.5 L200.6,580.5 L200.7,580.5 L200.8,580.5 L200.9,580.5 L201.0,580.5 L201.1,580.5 L201.2,580.5 L201.3,580.5 L201.4,580.5 L201.5,580.5 L201.6,580.5 L201.7,580.5 L201.8,580.5 L201.9,580.5 L202.0,580.5 L202.1,580.5 L202.2,580.5 L202.3,580.5 L202.4,580.5 L202.5,580.5 L202.6,580.5 L202.7,580.5 L202.8,580.5 L202.9,580.5 L203.0,580.5 L203.1,580.5 L203.2,580.5 L203.3,580.5 L203.4,580.5 L203.5,580.5 L203.6,580.5 L203.7,580.5 L203.8,580.5 L203.9,580.5 L204.0,580.5 L204.1,580.5 L204.2,580.5 L204.3,580.5 L204.4,580.5 L204.5,580.5 L204.6,580.5 L204.7,580.5 L204.8,580.5 L204.9,580.5 L205.0,580.5 L205.1,580.5 L205.2,580.5 L205.3,580.5 L205.4,580.5 L205.5,580.5 L205.6,580.5 L205.7,580.5 L205.8,580.5 L205.9,580.5 L206.0,580.5 L206.1,580.5 L206.2,580.5 L206.3,580.5 L206.4,580.5 L206.5,580.5 L206.6,580.5 L206.7,580.5 L206.8,580.5 L206.9,580.5 L207.0,580.5 L207.1,580.5 L207.2,580.5 L207.3,580.5 L207.4,580.5 L207.5,580.5 L207.7,580.5 L207.8,580.5 L207.9,580.5 L208.0,580.5 L208.1,580.5 L208.2,580.5 L208.3,580.5 L208.4,580.5 L208.5,580.5 L208.6,580.5 L208.7,580.5 L208.8,580.5 L209.0,580.5 L209.1,580.5 L209.2,580.5 L209.3,580.5 L209.4,580.5 L209.5,580.5 L209.6,580.5 L209.8,580.5 L209.9,580.5 L210.0,580.5 L210.1,580.5 L210.2,580.5 L210.4,580.5 L210.5,580.5 L210.6,580.5 L210.7,580.5 L210.8,580.5 L211.0,580.5 L211.1,580.5 L211.2,580.5 L211.3,580.5 L211.5,580.5 L211.6,580.5 L211.7,580.5 L211.9,580.5 L212.0,580.5 L212.1,580.5 L212.2,580.5 L212.4,580.5 L212.5,580.5 L212.6,580.5 L212.8,580.5 L212.9,580.5 L213.0,580.5 L213.2,580.5 L213.3,580.5 L213.5,580.5 L213.6,580.5 L213.7,580.5 L213.9,580.5 L214.0,580.5 L214.2,580.5 L214.3,580.5 L214.4,580.5 L214.6,580.5 L214.7,580.5 L214.9,580.5 L215.0,580.5 L215.2,580.5 L215.3,580.5 L215.5,580.5 L215.6,580.5 L215.8,580.5 L215.9,580.5 L216.1,580.5 L216.2,580.5 L216.4,580.5 L216.5,580.5 L216.7,580.5 L216.8,580.5 L217.0,580.5 L217.2,580.5 L217.3,580.5 L217.5,580.5 L217.6,580.5 L217.8,580.5 L218.0,580.5 L218.1,580.5 L218.3,580.5 L218.5,580.5 L218.6,580.5 L218.8,580.5 L219.0,580.5 L219.1,580.5 L219.3,580.5 L219.5,580.5 L219.6,580.5 L219.8,580.5 L220.0,580.5 L220.1,580.5 L220.3,580.5 L220.5,580.5 L220.7,580.5 L220.9,580.5 L221.0,580.5 L221.2,580.5 L221.4,580.5 L221.6,580.5 L221.8,580.5 L221.9,580.5 L222.1,580.5 L222.3,580.5 L222.5,580.5 L222.7,580.5 L222.9,580.5 L223.1,580.5 L223.2,580.5 L223.4,580.5 L223.6,580.5 L223.8,580.5 L224.0,580.5 L224.2,580.5 L224.4,580.5 L224.6,580.5 L224.8,580.5 L225.0,580.5 L225.2,580.5 L225.4,580.5 L225.6,580.5 L225.8,580.5 L226.0,580.5 L226.2,580.5 L226.4,580.5 L226.6,580.5 L226.8,580.5 L227.0,580.5 L227.2,580.5 L227.5,580.5 L227.7,580.5 L227.9,580.5 L228.1,580.5 L228.3,580.5 L228.5,580.5 L228.7,580.5 L229.0,580.5 L229.2,580.5 L229.4,580.5 L229.6,580.5 L229.9,580.5 L230.1,580.5 L230.3,580.5 L230.5,580.5 L230.8,580.5 L231.0,580.5 L231.2,580.5 L231.4,580.5 L231.7,580.5 L231.9,580.5 L232.1,580.5 L232.4,580.5 L232.6,580.5 L232.9,580.5 L233.1,580.5 L233.3,580.5 L233.6,580.5 L233.8,580.5 L234.1,580.5 L234.3,580.5 L234.5,580.5 L234.8,580.5 L235.0,580.5 L235.3,580.5 L235.5,580.5 L235.8,580.5 L236.0,580.5 L236.3,580.5 L236.5,580.5 L236.8,580.5 L237.1,580.5 L237.3,580.5 L237.6,580.5 L237.8,580.5 L238.1,580.5 L238.4,580.5 L238.6,580.5 L238.9,580.5 L239.2,580.5 L239.4,580.5 L239.7,580.5 L240.0,580.5 L240.2,580.5 L240.5,580.5 L240.8,580.5 L241.1,580.5 L241.3,580.5 L241.6,580.5 L241.9,580.5 L242.2,580.5 L242.4,580.5 L242.7,580.5 L243.0,580.5 L243.3,580.5 L243.6,580.5 L243.9,580.5 L244.2,580.5 L244.5,580.5 L244.7,580.5 L245.0,580.5 L245.3,580.5 L245.6,580.5 L245.9,580.5 L246.2,580.5 L246.5,580.5 L246.8,580.5 L247.1,580.5 L247.4,580.5 L247.7,580.5 L248.0,580.5 L248.3,580.5 L248.6,580.5 L248.9,580.5 L249.3,580.5 L249.6,580.5 L249.9,580.5 L250.2,580.5 L250.5,580.5 L250.8,580.5 L251.1,580.5 L251.5,580.5 L251.8,580.5 L252.1,580.5 L252.4,580.5 L252.8,580.5 L253.1,580.5 L253.4,580.5 L253.7,580.5 L254.1,580.5 L254.4,580.5 L254.7,580.5 L255.1,580.5 L255.4,580.5 L255.7,580.5 L256.1,580.5 L256.4,580.5 L256.7,580.5 L257.1,580.5 L257.4,580.5 L257.8,580.5 L258.1,580.5 L258.5,580.5 L258.8,580.5 L259.2,580.5 L259.5,580.5 L259.9,580.5 L260.2,580.5 L260.6,580.5 L260.9,580.5 L261.3,580.5 L261.6,580.5 L262.0,580.5 L262.4,580.5 L262.7,580.5 L263.1,580.5 L263.4,580.5 L263.8,580.5 L264.2,580.5 L264.5,580.5 L264.9,580.5 L265.3,580.5 L265.7,580.5 L266.0,580.5 L266.4,580.5 L266.8,580.5 L267.2,580.5 L267.5,580.5 L267.9,580.5 L268.3,580.5 L268.7,580.5 L269.1,580.5 L269.4,580.5 L269.8,580.5 L270.2,580.5 L270.6,580.5 L271.0,580.5 L271.4,580.5 L271.8,580.5 L272.2,580.5 L272.6,580.5 L273.0,580.5 L273.4,580.5 L273.8,580.5 L274.2,580.5 L274.6,580.5 L275.0,580.5 L275.4,580.5 L275.8,580.5 L276.2,580.5 L276.6,580.5 L277.0,580.5 L277.4,580.5 L277.8,580.5 L278.2,580.5 L278.7,580.5 L279.1,580.5 L279.5,580.5 L279.9,580.5 L280.3,580.5 L280.8,580.5 L281.2,580.5 L281.6,580.5 L282.0,580.5 L282.4,580.5 L282.9,580.5 L283.3,580.5 L283.7,580.5 L284.2,580.5 L284.6,580.5 L285.0,580.5 L285.5,580.5 L285.9,580.5 L286.3,580.5 L286.8,580.5 L287.2,580.5 L287.6,580.5 L288.1,580.5 L288.5,580.5 L289.0,580.5 L289.4,580.5 L289.9,580.5 L290.3,580.5 L290.8,580.5 L291.2,580.5 L291.7,580.5 L292.1,580.5 L292.6,580.5 L293.0,580.5 L293.5,580.5 L293.9,580.5 L294.4,580.5 L294.8,580.5 L295.3,580.5 L295.8,580.5 L296.2,580.5 L296.7,580.5 L297.2,580.5 L297.6,580.5 L298.1,580.5 L298.5,580.5 L299.0,580.5 L299.5,580.5 L300.0,580.5 L300.4,580.5 L300.9,580.5 L301.4,580.5 L301.8,580.5 L302.3,580.5 L302.8,580.5 L303.3,580.5 L303.8,580.5 L304.2,580.5 L304.7,580.5 L305.2,580.5 L305.7,580.5 L306.2,580.5 L306.7,580.5 L307.1,580.5 L307.6,580.5 L308.1,580.5 L308.6,580.5 L309.1,580.5 L309.6,580.5 L310.1,580.5 L310.6,580.5 L311.1,580.5 L311.6,580.5 L312.0,580.5 L312.5,580.5 L313.0,580.5 L313.5,580.5 L314.0,580.5 L314.5,580.5 L315.0,580.5 L315.5,580.5 L316.0,580.5 L316.5,580.5 L317.0,580.5 L317.6,580.5 L318.1,580.5 L318.6,580.5 L319.1,580.5 L319.6,580.5 L320.1,580.5 L320.6,580.5 L321.1,580.5 L321.6,580.5 L322.1,580.5 L322.6,580.5 L323.2,580.5 L323.7,580.5 L324.2,580.5 L324.7,580.5 L325.2,580.5 L325.7,580.5 L326.3,580.5 L326.8,580.5 L327.3,580.5 L327.8,580.5 L328.3,580.5 L328.9,580.5 L329.4,580.5 L329.9,580.5 L330.4,580.5 L331.0,580.5 L331.5,580.5 L332.0,580.5 L332.5,580.5 L333.1,580.5 L333.6,580.5 L334.1,580.5 L334.7,580.5 L335.2,580.5 L335.7,580.5 L336.2,580.5 L336.8,580.5 L337.3,580.5 L337.8,580.5 L338.4,580.5 L338.9,580.5 L339.4,580.5 L340.0,580.5 L340.5,580.5 L341.1,580.5 L341.6,580.5 L342.1,580.5 L342.7,580.5 L343.2,580.5 L343.7,580.5 L344.3,580.5 L344.8,580.5 L345.4,580.5 L345.9,580.5 L346.4,580.5 L347.0,580.5 L347.5,580.5 L348.1,580.5 L348.6,580.5 L349.2,580.5 L349.7,580.5 L350.2,580.5 L350.8,580.5 L351.3,580.5 L351.9,580.5 L352.4,580.5 L353.0,580.5 L353.5,580.5 L354.1,580.5 L354.6,580.5 L355.2,580.5 L355.7,580.5 L356.3,580.5 L356.8,580.5 L357.3,580.5 L357.9,580.5 L358.4,580.5 L359.0,580.5 L359.5,580.5 L360.1,580.5 L360.6,580.5 L361.2,580.5 L361.8,580.5 L362.3,580.5 L362.9,580.5 L363.4,580.5 L364.0,580.5 L364.5,580.5 L365.1,580.5 L365.6,580.5 L366.2,580.5 L366.7,580.5 L367.3,580.5 L367.8,580.5 L368.4,580.5 L368.9,580.5 L369.5,580.5 L370.0,580.5 L370.6,580.5 L371.2,580.5 L371.7,580.5 L372.3,580.5 L372.8,580.5 L373.4,580.5 L373.9,580.5 L374.5,580.5 L375.0,580.5 L375.6,580.5 L376.2,580.5 L376.7,580.5 L377.3,580.5 L377.8,580.5 L378.4,580.5 L378.9,580.5 L379.5,580.5 L380.0,580.5 L380.6,580.5 L381.2,580.5 L381.7,580.5 L382.3,580.5 L382.8,580.5 L383.4,580.5 L383.9,580.5 L384.5,580.5 L385.1,580.5 L385.6,580.5 L386.2,580.5 L386.7,580.5 L387.3,580.5 L387.8,580.5 L388.4,580.5 L389.0,580.5 L389.5,580.5 L390.1,580.5 L390.6,580.5 L391.2,580.5 L391.7,580.5 L392.3,580.5 L392.8,580.5 L393.4,580.5 L394.0,580.5 L394.5,580.5 L395.1,580.5 L395.6,580.5 L396.2,580.5 L396.7,580.5 L397.3,580.5 L397.9,580.5 L398.4,580.5 L399.0,580.5 L399.5,580.5 L400.1,580.5 L400.6,580.5 L401.2,580.5 L401.7,580.5 L402.3,580.5 L402.8,580.5 L403.4,580.5 L404.0,580.5 L404.5,580.5 L405.1,580.5 L405.6,580.5 L406.2,580.5 L406.7,580.5 L407.3,580.5 L407.8,580.5 L408.4,580.5 L408.9,580.5 L409.5,580.5 L410.0,580.5 L410.6,580.5 L411.2,580.5 L411.7,580.5 L412.3,580.5 L412.8,580.5 L413.4,580.5 L413.9,580.5 L414.5,580.5 L415.0,580.5 L415.6,580.5 L416.1,580.5 L416.7,580.5 L417.2,580.5 L417.8,580.5 L418.3,580.5 L418.9,580.5 L419.4,580.5 L420.0,580.5 L420.5,580.5 L421.1,580.5 L421.6,580.5 L422.2,580.5 L422.7,580.5 L423.3,580.5 L423.8,580.5 L424.4,580.5 L424.9,580.5 L425.5,580.5 L426.0,580.5 L426.6,580.5 L427.1,580.5 L427.6,580.5 L428.2,580.5 L428.7,580.5 L429.3,580.5 L429.8,580.5 L430.4,580.5 L430.9,580.5 L431.5,580.5 L432.0,580.5 L432.6,580.5 L433.1,580.5 L433.6,580.5 L434.2,580.5 L434.7,580.5 L435.3,580.5 L435.8,580.5 L436.4,580.5 L436.9,580.5 L437.5,580.5 L438.0,580.5 L438.5,580.5 L439.1,580.5 L439.6,580.5 L440.2,580.5 L440.7,580.5 L441.2,580.5 L441.8,580.5 L442.3,580.5 L442.9,580.5 L443.4,580.5 L444.0,580.5 L444.5,580.5 L445.0,580.5 L445.6,580.5 L446.1,580.5 L446.7,580.5 L447.2,580.5 L447.7,580.5 L448.3,580.5 L448.8,580.5 L449.3,580.5 L449.9,580.5 L450.4,580.5 L451.0,580.5 L451.5,580.5 L452.0,580.5 L452.6,580.5 L453.1,580.5 L453.6,580.5 L454.2,580.5 L454.7,580.5 L455.3,580.5 L455.8,580.5 L456.3,580.5 L456.9,580.5 L457.4,580.5 L457.9,580.5 L458.5,580.5 L459.0,580.5 L459.5,580.5 L460.1,580.5 L460.6,580.5 L461.1,580.5 L461.7,580.5 L462.2,580.5 L462.7,580.5 L463.3,580.5 L463.8,580.5 L464.3,580.5 L464.9,580.4 L465.4,580.4 L465.9,580.4 L466.5,580.4 L467.0,580.4 L467.5,580.4 L468.1,580.4 L468.6,580.4 L469.1,580.4 L469.7,580.4 L470.2,580.4 L470.7,580.4 L471.2,580.4 L471.8,580.4 L472.3,580.4 L472.8,580.4 L473.4,580.4 L473.9,580.4 L474.4,580.4 L475.0,580.4 L475.5,580.4 L476.0,580.4 L476.5,580.4 L477.1,580.4 L477.6,580.4 L478.1,580.4 L478.7,580.4 L479.2,580.4 L479.7,580.4 L480.2,580.4 L480.8,580.4 L481.3,580.4 L481.8,580.4 L482.3,580.4 L482.9,580.4 L483.4,580.4 L483.9,580.4 L484.5,580.4 L485.0,580.4 L485.5,580.4 L486.0,580.4 L486.6,580.4 L487.1,580.4 L487.6,580.4 L488.1,580.4 L488.7,580.4 L489.2,580.4 L489.7,580.4 L490.2,580.4 L490.8,580.4 L491.3,580.4 L491.8,580.4 L492.3,580.4 L492.9,580.4 L493.4,580.4 L493.9,580.4 L494.4,580.4 L495.0,580.4 L495.5,580.4 L496.0,580.4 L496.5,580.4 L497.0,580.4 L497.6,580.4 L498.1,580.4 L498.6,580.4 L499.1,580.4 L499.7,580.4 L500.2,580.4 L500.7,580.4 L501.2,580.4 L501.7,580.4 L502.3,580.4 L502.8,580.4 L503.3,580.4 L503.8,580.4 L504.3,580.4 L504.9,580.4 L505.4,580.4 L505.9,580.4 L506.4,580.4 L506.9,580.4 L507.5,580.4 L508.0,580.4 L508.5,580.4 L509.0,580.4 L509.5,580.4 L510.1,580.4 L510.6,580.4 L511.1,580.4 L511.6,580.4 L512.1,580.4 L512.6,580.4 L513.2,580.4 L513.7,580.4 L514.2,580.4 L514.7,580.4 L515.2,580.4 L515.7,580.4 L516.3,580.4 L516.8,580.4 L517.3,580.4 L517.8,580.4 L518.3,580.4 L518.8,580.4 L519.3,580.4 L519.9,580.4 L520.4,580.4 L520.9,580.4 L521.4,580.4 L521.9,580.4 L522.4,580.4 L522.9,580.4 L523.5,580.4 L524.0,580.4 L524.5,580.4 L525.0,580.4 L525.5,580.4 L526.0,580.4 L526.5,580.4 L527.0,580.4 L527.5,580.4 L528.1,580.4 L528.6,580.4 L529.1,580.4 L529.6,580.4 L530.1,580.4 L530.6,580.4 L531.1,580.4 L531.6,580.4 L532.1,580.4 L532.6,580.4 L533.1,580.4 L533.6,580.4 L534.1,580.4 L534.7,580.4 L535.2,580.4 L535.7,580.4 L536.2,580.4 L536.7,580.4 L537.2,580.4 L537.7,580.4 L538.2,580.4 L538.7,580.4 L539.2,580.4 L539.7,580.4 L540.2,580.4 L540.7,580.4 L541.2,580.4 L541.7,580.4 L542.2,580.4 L542.7,580.4 L543.2,580.4 L543.7,580.4 L544.2,580.4 L544.7,580.4 L545.2,580.4 L545.7,580.4 L546.2,580.4 L546.7,580.4 L547.2,580.4 L547.7,580.4 L548.1,580.4 L548.6,580.4 L549.1,580.4 L549.6,580.4 L550.1,580.4 L550.6,580.4 L551.1,580.4 L551.6,580.4 L552.1,580.3 L552.6,580.3 L553.1,580.3 L553.5,580.3 L554.0,580.3 L554.5,580.3 L555.0,580.3 L555.5,580.3 L556.0,580.3 L556.4,580.3 L556.9,580.3 L557.4,580.3 L557.9,580.3 L558.4,580.3 L558.9,580.3 L559.3,580.3 L559.8,580.3 L560.3,580.3 L560.8,580.3 L561.2,580.3 L561.7,580.3 L562.2,580.3 L562.7,580.3 L563.1,580.3 L563.6,580.3 L564.1,580.3 L564.6,580.3 L565.0,580.3 L565.5,580.3 L566.0,580.3 L566.4,580.3 L566.9,580.3 L567.4,580.3 L567.8,580.3 L568.3,580.3 L568.7,580.3 L569.2,580.3 L569.7,580.3 L570.1,580.3 L570.6,580.3 L571.0,580.3 L571.5,580.3 L572.0,580.3 L572.4,580.3 L572.9,580.3 L573.3,580.3 L573.8,580.3 L574.2,580.3 L574.7,580.3 L575.1,580.3 L575.6,580.3 L576.0,580.3 L576.5,580.3 L576.9,580.3 L577.3,580.3 L577.8,580.3 L578.2,580.3 L578.7,580.3 L579.1,580.3 L579.5,580.3 L580.0,580.3 L580.4,580.3 L580.9,580.3 L581.3,580.3 L581.7,580.3 L582.1,580.3 L582.6,580.3 L583.0,580.3 L583.4,580.3 L583.9,580.3 L584.3,580.3 L584.7,580.3 L585.1,580.3 L585.5,580.3 L586.0,580.3 L586.4,580.3 L586.8,580.3 L587.2,580.3 L587.6,580.3 L588.0,580.2 L588.4,580.2 L588.8,580.2 L589.3,580.2 L589.7,580.2 L590.1,580.2 L590.5,580.2 L590.9,580.2 L591.3,580.2 L591.7,580.2 L592.1,580.2 L592.5,580.2 L592.9,580.2 L593.2,580.2 L593.6,580.2 L594.0,580.2 L594.4,580.2 L594.8,580.2 L595.2,580.2 L595.6,580.2 L595.9,580.2 L596.3,580.2 L596.7,580.2 L597.1,580.2 L597.5,580.2 L597.8,580.2 L598.2,580.2 L598.6,580.2 L598.9,580.2 L599.3,580.2 L599.7,580.2 L600.0,580.2 L600.4,580.2 L600.7,580.2 L601.1,580.2 L601.5,580.2 L601.8,580.2 L602.2,580.2 L602.5,580.2 L602.9,580.2 L603.2,580.2 L603.6,580.2 L603.9,580.2 L604.2,580.2 L604.6,580.2 L604.9,580.2 L605.2,580.2 L605.6,580.2 L605.9,580.2 L606.2,580.2 L606.6,580.2 L606.9,580.2 L607.2,580.1 L607.5,580.1 L607.8,580.1 L608.2,580.1 L608.5,580.1 L608.8,580.1 L609.1,580.1 L609.4,580.1 L609.7,580.1 L610.0,580.1 L610.3,580.1 L610.6,580.1 L610.9,580.1 L611.2,580.1 L611.5,580.1 L611.8,580.1 L612.1,580.1 L612.4,580.1 L612.6,580.1 L612.9,580.1 L613.2,580.1 L613.5,580.1 L613.8,580.1 L614.0,580.1 L614.3,580.1 L614.6,580.1 L614.8,580.1 L615.1,580.1 L615.4,580.1 L615.6,580.1 L615.9,580.1 L616.1,580.1 L616.4,580.1 L616.6,580.1 L616.9,580.1 L617.1,580.1 L617.4,580.1 L617.6,580.1 L617.8,580.1 L618.1,580.0 L618.3,580.0 L618.5,580.0 L618.8,580.0 L619.0,580.0 L619.2,580.0 L619.4,580.0 L619.6,580.0 L619.9,580.0 L620.1,580.0 L620.3,580.0 L620.5,580.0 L620.7,580.0 L620.9,580.0 L621.1,580.0 L621.3,580.0 L621.5,580.0 L621.7,580.0 L621.9,580.0 L622.0,580.0 L622.2,580.0 L622.4,580.0 L622.6,580.0 L622.8,580.0 L622.9,580.0 L623.1,580.0 L623.3,580.0 L623.4,580.0 L623.6,580.0 L623.8,580.0 L623.9,580.0 L624.1,579.9 L624.2,579.9 L624.4,579.9 L624.5,579.9 L624.7,579.9 L624.8,579.9 L624.9,579.9 L625.1,579.9 L625.2,579.9 L625.3,579.9 L625.4,579.9 L625.6,579.9 L625.7,579.9 L625.8,579.9 L625.9,579.9 L626.0,579.9 L626.1,579.9 L626.2,579.9 L626.3,579.9 L626.4,579.9 L626.5,579.9 L626.6,579.9 L626.7,579.9 L626.8,579.9 L626.9,579.9 L627.0,579.8 L627.1,579.8 L627.2,579.8 L627.3,579.8 L627.4,579.8 L627.5,579.8 L627.6,579.8 L627.7,579.8 L627.8,579.8 L627.9,579.8 L628.0,579.8 L628.0,579.7 L627.9,579.7 L627.8,579.7 L627.7,579.7 L627.6,579.6 L627.5,579.6 L627.4,579.6 L627.3,579.6 L627.2,579.6 L627.1,579.6 L627.0,579.6 L626.9,579.6 L626.8,579.6 L626.7,579.6 L626.6,579.6 L626.5,579.6 L626.4,579.6 L626.3,579.5 L626.2,579.5 L626.1,579.5 L626.0,579.5 L625.9,579.5 L625.7,579.5 L625.6,579.5 L625.5,579.5 L625.4,579.5 L625.2,579.5 L625.1,579.5 L624.9,579.5 L624.8,579.5 L624.6,579.5 L624.5,579.5 L624.3,579.4 L624.2,579.4 L624.0,579.4 L623.9,579.4 L623.7,579.4 L623.5,579.4 L623.3,579.4 L623.2,579.4 L623.0,579.4 L622.8,579.4 L622.6,579.4 L622.4,579.4 L622.2,579.4 L622.0,579.4 L621.8,579.3 L621.6,579.3 L621.4,579.3 L621.2,579.3 L621.0,579.3 L620.8,579.3 L620.5,579.3 L620.3,579.3 L620.1,579.3 L619.9,579.3 L619.6,579.3 L619.4,579.3 L619.1,579.3 L618.9,579.2 L618.6,579.2 L618.4,579.2 L618.1,579.2 L617.9,579.2 L617.6,579.2 L617.3,579.2 L617.1,579.2 L616.8,579.2 L616.5,579.2 L616.3,579.2 L616.0,579.2 L615.7,579.1 L615.4,579.1 L615.1,579.1 L614.8,579.1 L614.5,579.1 L614.2,579.1 L613.9,579.1 L613.6,579.1 L613.3,579.1 L613.0,579.1 L612.6,579.1 L612.3,579.0 L612.0,579.0 L611.7,579.0 L611.3,579.0 L611.0,579.0 L610.6,579.0 L610.3,579.0 L610.0,579.0 L609.6,579.0 L609.3,579.0 L608.9,578.9 L608.5,578.9 L608.2,578.9 L607.8,578.9 L607.4,578.9 L607.1,578.9 L606.7,578.9 L606.3,578.9 L605.9,578.9 L605.5,578.9 L605.1,578.8 L604.7,578.8 L604.4,578.8 L604.0,578.8 L603.5,578.8 L603.1,578.8 L602.7,578.8 L602.3,578.8 L601.9,578.8 L601.5,578.7 L601.1,578.7 L600.6,578.7 L600.2,578.7 L599.8,578.7 L599.3,578.7 L598.9,578.7 L598.5,578.7 L598.0,578.7 L597.6,578.6 L597.1,578.6 L596.7,578.6 L596.2,578.6 L595.7,578.6 L595.3,578.6 L594.8,578.6 L594.3,578.6 L593.9,578.5 L593.4,578.5 L592.9,578.5 L592.4,578.5 L591.9,578.5 L591.4,578.5 L590.9,578.5 L590.5,578.5 L590.0,578.4 L589.5,578.4 L588.9,578.4 L588.4,578.4 L587.9,578.4 L587.4,578.4 L586.9,578.4 L586.4,578.3 L585.9,578.3 L585.3,578.3 L584.8,578.3 L584.3,578.3 L583.7,578.3 L583.2,578.3 L582.6,578.2 L582.1,578.2 L581.6,578.2 L581.0,578.2 L580.5,578.2 L579.9,578.2 L579.3,578.2 L578.8,578.1 L578.2,578.1 L577.6,578.1 L577.1,578.1 L576.5,578.1 L575.9,578.1 L575.3,578.0 L574.8,578.0 L574.2,578.0 L573.6,578.0 L573.0,578.0 L572.4,578.0 L571.8,577.9 L571.2,577.9 L570.6,577.9 L570.0,577.9 L569.4,577.9 L568.8,577.9 L568.2,577.8 L567.6,577.8 L566.9,577.8 L566.3,577.8 L565.7,577.8 L565.1,577.8 L564.4,577.7 L563.8,577.7 L563.2,577.7 L562.6,577.7 L561.9,577.7 L561.3,577.6 L560.6,577.6 L560.0,577.6 L559.3,577.6 L558.7,577.6 L558.0,577.6 L557.4,577.5 L556.7,577.5 L556.1,577.5 L555.4,577.5 L554.7,577.5 L554.1,577.4 L553.4,577.4 L552.7,577.4 L552.0,577.4 L551.4,577.4 L550.7,577.3 L550.0,577.3 L549.3,577.3 L548.6,577.3 L548.0,577.3 L547.3,577.2 L546.6,577.2 L545.9,577.2 L545.2,577.2 L544.5,577.1 L543.8,577.1 L543.1,577.1 L542.4,577.1 L541.7,577.1 L541.0,577.0 L540.2,577.0 L539.5,577.0 L538.8,577.0 L538.1,576.9 L537.4,576.9 L536.7,576.9 L535.9,576.9 L535.2,576.8 L534.5,576.8 L533.8,576.8 L533.0,576.8 L532.3,576.8 L531.6,576.7 L530.8,576.7 L530.1,576.7 L529.4,576.7 L528.6,576.6 L527.9,576.6 L527.1,576.6 L526.4,576.6 L525.6,576.5 L524.9,576.5 L524.1,576.5 L523.4,576.4 L522.6,576.4 L521.9,576.4 L521.1,576.4 L520.4,576.3 L519.6,576.3 L518.8,576.3 L518.1,576.3 L517.3,576.2 L516.5,576.2 L515.8,576.2 L515.0,576.1 L514.2,576.1 L513.5,576.1 L512.7,576.1 L511.9,576.0 L511.2,576.0 L510.4,576.0 L509.6,575.9 L508.8,575.9 L508.0,575.9 L507.3,575.9 L506.5,575.8 L505.7,575.8 L504.9,575.8 L504.1,575.7 L503.4,575.7 L502.6,575.7 L501.8,575.6 L501.0,575.6 L500.2,575.6 L499.4,575.5 L498.6,575.5 L497.8,575.5 L497.0,575.4 L496.2,575.4 L495.5,575.4 L494.7,575.4 L493.9,575.3 L493.1,575.3 L492.3,575.2 L491.5,575.2 L490.7,575.2 L489.9,575.1 L489.1,575.1 L488.3,575.1 L487.5,575.0 L486.7,575.0 L485.9,575.0 L485.1,574.9 L484.3,574.9 L483.5,574.9 L482.7,574.8 L481.9,574.8 L481.1,574.7 L480.3,574.7 L479.5,574.7 L478.6,574.6 L477.8,574.6 L477.0,574.6 L476.2,574.5 L475.4,574.5 L474.6,574.4 L473.8,574.4 L473.0,574.4 L472.2,574.3 L471.4,574.3 L470.6,574.2 L469.8,574.2 L469.0,574.2 L468.2,574.1 L467.4,574.1 L466.6,574.0 L465.8,574.0 L465.0,574.0 L464.2,573.9 L463.4,573.9 L462.5,573.8 L461.7,573.8 L460.9,573.7 L460.1,573.7 L459.3,573.6 L458.5,573.6 L457.7,573.6 L456.9,573.5 L456.1,573.5 L455.3,573.4 L454.5,573.4 L453.7,573.3 L452.9,573.3 L452.1,573.2 L451.3,573.2 L450.5,573.1 L449.7,573.1 L448.9,573.0 L448.1,573.0 L447.3,572.9 L446.5,572.9 L445.7,572.9 L445.0,572.8 L444.2,572.8 L443.4,572.7 L442.6,572.6 L441.8,572.6 L441.0,572.5 L440.2,572.5 L439.4,572.4 L438.6,572.4 L437.8,572.3 L437.1,572.3 L436.3,572.2 L435.5,572.2 L434.7,572.1 L433.9,572.1 L433.2,572.0 L432.4,572.0 L431.6,571.9 L430.8,571.8 L430.0,571.8 L429.3,571.7 L428.5,571.7 L427.7,571.6 L427.0,571.6 L426.2,571.5 L425.4,571.4 L424.7,571.4 L423.9,571.3 L423.1,571.3 L422.4,571.2 L421.6,571.1 L420.8,571.1 L420.1,571.0 L419.3,571.0 L418.6,570.9 L417.8,570.8 L417.1,570.8 L416.3,570.7 L415.6,570.6 L414.8,570.6 L414.1,570.5 L413.3,570.5 L412.6,570.4 L411.8,570.3 L411.1,570.3 L410.4,570.2 L409.6,570.1 L408.9,570.1 L408.2,570.0 L407.4,569.9 L406.7,569.8 L406.0,569.8 L405.3,569.7 L404.5,569.6 L403.8,569.6 L403.1,569.5 L402.4,569.4 L401.7,569.4 L401.0,569.3 L400.2,569.2 L399.5,569.1 L398.8,569.1 L398.1,569.0 L397.4,568.9 L396.7,568.8 L396.0,568.8 L395.3,568.7 L394.6,568.6 L393.9,568.5 L393.2,568.5 L392.6,568.4 L391.9,568.3 L391.2,568.2 L390.5,568.1 L389.8,568.1 L389.1,568.0 L388.5,567.9 L387.8,567.8 L387.1,567.7 L386.5,567.6 L385.8,567.6 L385.1,567.5 L384.5,567.4 L383.8,567.3 L383.2,567.2 L382.5,567.1 L381.9,567.0 L381.2,567.0 L380.6,566.9 L379.9,566.8 L379.3,566.7 L378.6,566.6 L378.0,566.5 L377.4,566.4 L376.7,566.3 L376.1,566.2 L375.5,566.1 L374.9,566.1 L374.3,566.0 L373.6,565.9 L373.0,565.8 L372.4,565.7 L371.8,565.6 L371.2,565.5 L370.6,565.4 L370.0,565.3 L369.4,565.2 L368.8,565.1 L368.2,565.0 L367.6,564.9 L367.0,564.8 L366.4,564.7 L365.9,564.6 L365.3,564.5 L364.7,564.4 L364.1,564.3 L363.6,564.2 L363.0,564.1 L362.4,563.9 L361.9,563.8 L361.3,563.7 L360.8,563.6 L360.2,563.5 L359.7,563.4 L359.1,563.3 L358.6,563.2 L358.0,563.1 L357.5,562.9 L357.0,562.8 L356.4,562.7 L355.9,562.6 L355.4,562.5 L354.9,562.4 L354.3,562.3 L353.8,562.1 L353.3,562.0 L352.8,561.9 L352.3,561.8 L351.8,561.6 L351.3,561.5 L350.8,561.4 L350.3,561.3 L349.8,561.2 L349.3,561.0 L348.8,560.9 L348.4,560.8 L347.9,560.6 L347.4,560.5 L346.9,560.4 L346.5,560.3 L346.0,560.1 L345.5,560.0 L345.1,559.9 L344.6,559.7 L344.2,559.6 L343.7,559.5 L343.3,559.3 L342.8,559.2 L342.4,559.0 L342.0,558.9 L341.5,558.8 L341.1,558.6 L340.7,558.5 L340.3,558.3 L339.9,558.2 L339.4,558.0 L339.0,557.9 L338.6,557.7 L338.2,557.6 L337.8,557.5 L337.4,557.3 L337.0,557.1 L336.6,557.0 L336.3,556.8 L335.9,556.7 L335.5,556.5 L335.1,556.4 L334.7,556.2 L334.4,556.1 L334.0,555.9 L333.6,555.7 L333.3,555.6 L332.9,555.4 L332.6,555.3 L332.2,555.1 L331.9,554.9 L331.6,554.8 L331.2,554.6 L330.9,554.4 L330.6,554.3 L330.2,554.1 L329.9,553.9 L329.6,553.7 L329.3,553.6 L329.0,553.4 L328.7,553.2 L328.4,553.0 L328.1,552.9 L327.8,552.7 L327.5,552.5 L327.2,552.3 L326.9,552.1 L326.6,551.9 L326.3,551.8 L326.1,551.6 L325.8,551.4 L325.5,551.2 L325.3,551.0 L325.0,550.8 L324.7,550.6 L324.5,550.4 L324.3,550.2 L324.0,550.0 L323.8,549.8 L323.5,549.6 L323.3,549.4 L323.1,549.2 L322.8,549.0 L322.6,548.8 L322.4,548.6 L322.2,548.4 L322.0,548.2 L321.8,548.0 L321.6,547.8 L321.4,547.6 L321.2,547.4 L321.0,547.1 L320.8,546.9 L320.6,546.7 L320.5,546.5 L320.3,546.3 L320.1,546.0 L320.0,545.8 L319.8,545.6 L319.6,545.4 L319.5,545.1 L319.3,544.9 L319.2,544.7 L319.0,544.4 L318.9,544.2 L318.8,544.0 L318.6,543.7 L318.5,543.5 L318.4,543.2 L318.3,543.0 L318.2,542.8 L318.1,542.5 L318.0,542.3 L317.9,542.0 L317.8,541.8 L317.7,541.5 L317.6,541.3 L317.5,541.0 L317.4,540.7 L317.3,540.5 L317.3,540.2 L317.2,540.0 L317.1,539.7 L317.1,539.4 L317.0,539.2 L317.0,538.9 L316.9,538.6 L316.9,538.4 L316.9,538.1 L316.8,537.8 L316.8,537.5 L316.8,537.3 L316.7,537.0 L316.7,536.7 L316.7,536.4 L316.7,536.1 L316.7,535.8 L316.7,535.5 L316.7,535.2 L316.7,534.9 L316.7,534.7 L316.8,534.4 L316.8,534.1 L316.8,533.7 L316.8,533.4 L316.9,533.1 L316.9,532.8 L317.0,532.5 L317.0,532.2 L317.1,531.9 L317.1,531.6 L317.2,531.3 L317.3,530.9 L317.3,530.6 L317.4,530.3 L317.5,530.0 L317.6,529.6 L317.7,529.3 L317.8,529.0 L317.9,528.6 L318.0,528.3 L318.1,528.0 L318.2,527.6 L318.3,527.3 L318.4,526.9 L318.6,526.6 L318.7,526.2 L318.8,525.9 L319.0,525.5 L319.1,525.2 L319.3,524.8 L319.4,524.4 L319.6,524.1 L319.8,523.7 L319.9,523.3 L320.1,523.0 L320.3,522.6 L320.5,522.2 L320.7,521.8 L320.8,521.4 L321.0,521.1 L321.3,520.7 L321.5,520.3 L321.7,519.9 L321.9,519.5 L322.1,519.1 L322.3,518.7 L322.6,518.3 L322.8,517.9 L323.1,517.5 L323.3,517.1 L323.6,516.7 L323.8,516.3 L324.1,515.8 L324.4,515.4 L324.6,515.0 L324.9,514.6 L325.2,514.1 L325.5,513.7 L325.8,513.3 L326.1,512.8 L326.4,512.4 L326.7,511.9 L327.0,511.5 L327.3,511.1 L327.7,510.6 L328.0,510.1 L328.3,509.7 L328.7,509.2 L329.0,508.8 L329.4,508.3 L329.7,507.8 L330.1,507.4 L330.5,506.9 L330.9,506.4 L331.2,505.9 L331.6,505.4 L332.0,504.9 L332.4,504.4 L332.8,504.0 L333.2,503.5 L333.6,503.0 L334.1,502.4 L334.5,501.9 L334.9,501.4 L335.4,500.9 L335.8,500.4 L336.3,499.9 L336.7,499.3 L337.2,498.8 L337.6,498.3 L338.1,497.8 L338.6,497.2 L339.1,496.7 L339.6,496.1 L340.1,495.6 L340.6,495.0 L341.1,494.5 L341.6,493.9 L342.1,493.3 L342.6,492.8 L343.2,492.2 L343.7,491.6 L344.2,491.1 L344.8,490.5 L345.3,489.9 L345.9,489.3 L346.5,488.7 L347.1,488.1 L347.6,487.5 L348.2,486.9 L348.8,486.3 L349.4,485.7 L350.0,485.1 L350.6,484.4 L351.3,483.8 L351.9,483.2 L352.5,482.5 L353.2,481.9 L353.8,481.3 L354.5,480.6 L355.1,480.0 L355.8,479.3 L356.5,478.7 L357.1,478.0 L357.8,477.3 L358.5,476.7 L359.2,476.0 L359.9,475.3 L360.7,474.6 L361.4,473.9 L362.1,473.2 L362.8,472.5 L363.6,471.8 L364.3,471.1 L365.1,470.4 L365.9,469.7 L366.6,469.0 L367.4,468.3 L368.2,467.5 L369.0,466.8 L369.8,466.0 L370.6,465.3 L371.4,464.6 L372.2,463.8 L373.1,463.0 L373.9,462.3 L374.7,461.5 L375.6,460.7 L376.5,459.9 L377.3,459.2 L378.2,458.4 L379.1,457.6 L380.0,456.8 L380.9,456.0 L381.8,455.2 L382.7,454.3 L383.6,453.5 L384.5,452.7 L385.5,451.9 L386.4,451.0 L387.4,450.2 L388.4,449.3 L389.3,448.5 L390.3,447.6 L391.3,446.8 L392.3,445.9 L393.3,445.0 L394.3,444.1 L395.3,443.2 L396.4,442.4 L397.4,441.5 L398.4,440.5 L399.5,439.6 L400.6,438.7 L401.6,437.8 L402.7,436.9 L403.8,435.9 L404.9,435.0 L406.0,434.0 L407.1,433.1 L408.3,432.1 L409.4,431.2 L410.5,430.2 L411.7,429.2 L412.9,428.2 L414.0,427.2 L415.2,426.2 L416.4,425.2 L417.6,424.2 L418.8,423.2 L420.0,422.2 L421.3,421.2 L422.5,420.1 L423.7,419.1 L425.0,418.0 L426.3,417.0 L427.5,415.9 L428.8,414.8 L430.1,413.8 L431.4,412.7 L432.8,411.6 L434.1,410.5 L435.4,409.4 L436.8,408.3 L438.1,407.1 L439.5,406.0 L440.9,404.9 L442.3,403.7 L443.7,402.6 L445.1,401.4 L446.5,400.3 L447.9,399.1 L449.4,397.9 L450.8,396.7 L452.3,395.5 L453.8,394.3 L455.2,393.1 L456.7,391.9 L458.3,390.7 L459.8,389.4 L461.3,388.2 L462.8,386.9 L464.4,385.7 L466.0,384.4 L467.5,383.1 L469.1,381.8 L470.7,380.5 L472.3,379.2 L474.0,377.9 L475.6,376.6 L477.2,375.3 L478.9,373.9 L480.6,372.6 L482.3,371.2 L484.0,369.9 L485.7,368.5 L487.4,367.1 L489.1,365.7 L490.9,364.3 L492.6,362.9 L494.4,361.5 L496.2,360.1 L498.0,358.7 L499.8,357.2 L501.6,355.8 L503.4,354.3 L505.3,352.8 L507.1,351.3 L509.0,349.9 L510.9,348.4 L512.8,346.8 L514.7,345.3 L516.6,343.8 L518.6,342.3 L520.5,340.7 L522.5,339.1 L524.5,337.6 L526.5,336.0 L528.5,334.4 L530.5,332.8 L532.6,331.2 L534.6,329.6 L536.7,327.9 L538.8,326.3 L540.9,324.6 L543.0,323.0 L545.1,321.3 L547.3,319.6 L549.4,317.9 L551.6,316.2 L553.8,314.5 L556.0,312.7 L558.2,311.0 L560.4,309.2 L562.7,307.5 L565.0,305.7 L567.2,303.9 L569.5,302.1 L571.8,300.3 L574.2,298.5 L576.5,296.6 L578.9,294.8 L581.3,292.9 L583.6,291.1 L586.1,289.2 L588.5,287.3 L590.9,285.4 L593.4,283.4 L595.9,281.5 L598.4,279.6 L600.9,277.6 L603.4,275.6 L605.9,273.7 L608.5,271.7 L611.1,269.6 L613.7,267.6 L616.3,265.6 L618.9,263.5 L621.6,261.5 L624.3,259.4 L627.0,257.3 L629.7,255.2 L632.4,253.1 L635.1,251.0 L637.9,248.8 L640.7,246.7 L643.5,244.5 L646.3,242.3 L649.1,240.1 L652.0,237.9 L654.9,235.6 L657.8,233.4 L660.7,231.1 L663.6,228.9 L666.6,226.6 L669.5,224.3 L672.5,222.0 L675.6,219.6 L678.6,217.3 L681.7,214.9 L684.7,212.5 L687.8,210.1 L691.0,207.7 L694.1,205.3 L697.3,202.9 L700.4,200.4 L703.6,197.9 L706.9,195.4 L710.1,192.9 L713.4,190.4 L716.7,187.9 L720.0,185.3 L723.3,182.7 L726.7,180.1 L730.1,177.5 L733.5,174.9 L736.9,172.3 L740.4,169.6 L743.8,166.9 L747.3,164.3 L750.8,161.5 L754.4,158.8 L758.0,156.1 L761.5,153.3 L765.2,150.5 L768.8,147.7 L772.5,144.9 L776.2,142.1 L779.9,139.2 L783.6,136.4 L787.4,133.5 L791.2,130.6 L795.0,127.6 L798.8,124.7 L802.7,121.7 L806.6,118.7 L810.5,115.7 L814.4,112.7 L818.4,109.6 L822.4,106.6 L826.4,103.5 L830.4,100.4 L834.5,97.3 L838.6,94.1 L842.7,91.0 L846.9,87.8 L851.1,84.6 L855.3,81.3 L859.5,78.1 L863.8,74.8 L868.1,71.5 L872.4,68.2 L876.8,64.9 L881.2,61.5 L885.6,58.1 L890.0,54.7 L894.5,51.3 L899.0,47.9 L903.5,44.4 L908.1,40.9 L912.7,37.4 L917.3,33.9 L921.9,30.3 L926.6,26.7 L931.3,23.1 L936.1,19.5"/>
</g>
<g font-family="'Liberation Sans', sans-serif" font-size="34.3" fill="#231f20" stroke="#231f20" stroke-width="0.3">
<text transform="translate(187.4,592.8) scale(1,1.02)" text-anchor="end">0</text>
<text transform="translate(190.4,616.0) scale(1,1.02)" text-anchor="middle">0</text>
<text transform="translate(187.4,490.8) scale(1,1.02)" text-anchor="end">200</text>
<text transform="translate(324.9,616.0) scale(1,1.02)" text-anchor="middle">200</text>
<text transform="translate(187.4,388.8) scale(1,1.02)" text-anchor="end">400</text>
<text transform="translate(459.3,616.0) scale(1,1.02)" text-anchor="middle">400</text>
<text transform="translate(187.4,286.8) scale(1,1.02)" text-anchor="end">600</text>
<text transform="translate(593.8,616.0) scale(1,1.02)" text-anchor="middle">600</text>
<text transform="translate(187.4,184.8) scale(1,1.02)" text-anchor="end">800</text>
<text transform="translate(728.2,616.0) scale(1,1.02)" text-anchor="middle">800</text>
<text transform="translate(187.4,82.8) scale(1,1.02)" text-anchor="end">1000</text>
<text transform="translate(862.7,616.0) scale(1,1.02)" text-anchor="middle">1000</text>
</g>
<g font-family="'Liberation Sans', sans-serif" font-size="40.5" fill="#231f20" stroke="#231f20" stroke-width="0.45">
    <text x="353.47" y="665.0" font-size="40.5" textLength="82.00" lengthAdjust="spacingAndGlyphs">Total</text>
    <text x="445.79" y="665.0" font-size="40.5" textLength="114.06" lengthAdjust="spacingAndGlyphs">[Clb5];</text>
    <text x="565.85" y="665.0" font-size="40.5" textLength="55.42" lengthAdjust="spacingAndGlyphs">nM</text>
<g transform="translate(35.1,0) rotate(-90)">
    <text x="-496.40" y="0.0" font-size="40.5" textLength="72.67" lengthAdjust="spacingAndGlyphs">Free</text>
    <text x="-413.44" y="0.0" font-size="40.5" textLength="86.39" lengthAdjust="spacingAndGlyphs">[Clb5</text>
    <text x="-324.00" y="0.0" font-size="40.5" textLength="12.00" lengthAdjust="spacingAndGlyphs">-</text>
    <text x="-311.00" y="0.0" font-size="40.5" textLength="97.87" lengthAdjust="spacingAndGlyphs">Cdk1]</text>
    <text x="-211.50" y="0.0" font-size="40.5" textLength="24.57" lengthAdjust="spacingAndGlyphs">&amp;</text>
</g>
<g transform="translate(84.8,0) rotate(-90)">
    <text x="-472.65" y="0.0" font-size="40.5" textLength="83.87" lengthAdjust="spacingAndGlyphs">Total</text>
    <text x="-378.33" y="0.0" font-size="40.5" textLength="102.55" lengthAdjust="spacingAndGlyphs">[Sic1];</text>
    <text x="-267.87" y="0.0" font-size="40.5" textLength="55.87" lengthAdjust="spacingAndGlyphs">nM</text>
</g>
</g>
<text transform="translate(12.0,54.4) scale(1.0,1)" font-family="'Liberation Sans', sans-serif" font-weight="bold" font-size="34.6" fill="#231f20">A</text>
<g font-family="'Liberation Sans', sans-serif" fill="#231f20" stroke="#231f20" stroke-width="0.3">
<text x="499.51" y="469.7" font-size="31.5" textLength="14.05" lengthAdjust="spacingAndGlyphs">k</text>
<text x="514.61" y="480.2" font-size="17.3" textLength="36.03" lengthAdjust="spacingAndGlyphs">Clb5</text>
<text x="550.81" y="469.7" font-size="31" textLength="20.19" lengthAdjust="spacingAndGlyphs">=</text>
<text x="571.09" y="469.7" font-size="30.5" textLength="70.99" lengthAdjust="spacingAndGlyphs">0.001</text>
<text x="652.81" y="469.7" font-size="30.5" textLength="45.79" lengthAdjust="spacingAndGlyphs">nM</text>
<text x="697.26" y="458.2" font-size="16.5" textLength="12.74" lengthAdjust="spacingAndGlyphs">-1</text>
<text x="719.1" y="473.6" font-size="39" stroke="none">×</text>
<text x="747.51" y="469.7" font-size="30.5" textLength="53.02" lengthAdjust="spacingAndGlyphs">min</text>
<text x="799.77" y="458.2" font-size="16.5" textLength="14.64" lengthAdjust="spacingAndGlyphs">-1</text>
<text x="499.51" y="509.7" font-size="31.5" textLength="14.05" lengthAdjust="spacingAndGlyphs">k</text>
<text x="514.61" y="520.2" font-size="17.3" textLength="36.18" lengthAdjust="spacingAndGlyphs">Cln2</text>
<text x="550.81" y="509.7" font-size="31" textLength="20.19" lengthAdjust="spacingAndGlyphs">=</text>
<text x="571.06" y="509.7" font-size="30.5" textLength="105.16" lengthAdjust="spacingAndGlyphs">0.00001</text>
<text x="686.91" y="509.7" font-size="30.5" textLength="45.79" lengthAdjust="spacingAndGlyphs">nM</text>
<text x="731.36" y="498.2" font-size="16.5" textLength="12.74" lengthAdjust="spacingAndGlyphs">-1</text>
<text x="753.2" y="513.6" font-size="39" stroke="none">×</text>
<text x="781.61" y="509.7" font-size="30.5" textLength="53.02" lengthAdjust="spacingAndGlyphs">min</text>
<text x="833.87" y="498.2" font-size="16.5" textLength="14.64" lengthAdjust="spacingAndGlyphs">-1</text>
</g>
<rect x="190.5" y="742.7" width="672.3" height="559.8" fill="none" stroke="#231f20" stroke-width="2.3" stroke-linejoin="round"/>
<path d="M325.0,1302.5 v-7.3 M325.0,742.7 v7.3 M190.5,1190.5 h7.3 M862.8,1190.5 h-7.3 M459.4,1302.5 v-7.3 M459.4,742.7 v7.3 M190.5,1078.6 h7.3 M862.8,1078.6 h-7.3 M593.9,1302.5 v-7.3 M593.9,742.7 v7.3 M190.5,966.6 h7.3 M862.8,966.6 h-7.3 M728.3,1302.5 v-7.3 M728.3,742.7 v7.3 M190.5,854.7 h7.3 M862.8,854.7 h-7.3" stroke="#231f20" stroke-width="2.2" fill="none"/>
<g fill="none" stroke-width="8" stroke-linejoin="round">
<path clip-path="url(#cbB)" stroke="#4a7c5e" d="M190.5,1115.9 L190.8,1115.9 L190.9,1115.9 L191.0,1115.9 L191.1,1115.9 L191.2,1115.9 L191.3,1115.9 L191.4,1115.9 L191.5,1115.9 L191.6,1115.9 L191.7,1115.9 L191.8,1115.9 L191.9,1115.9 L192.0,1115.9 L192.1,1115.9 L192.2,1115.9 L192.3,1115.9 L192.4,1115.9 L192.5,1115.9 L192.6,1115.9 L192.7,1115.9 L192.8,1115.9 L192.9,1115.9 L193.0,1115.9 L193.1,1115.9 L193.2,1115.9 L193.3,1115.9 L193.4,1115.9 L193.5,1115.9 L193.6,1115.9 L193.7,1115.9 L193.8,1115.9 L193.9,1115.9 L194.0,1115.9 L194.1,1115.9 L194.2,1115.9 L194.3,1115.9 L194.4,1115.9 L194.5,1115.9 L194.6,1115.9 L194.7,1115.9 L194.8,1115.9 L194.9,1115.9 L195.0,1115.9 L195.1,1115.9 L195.2,1115.9 L195.3,1115.9 L195.4,1115.9 L195.5,1115.9 L195.6,1115.9 L195.7,1115.9 L195.8,1115.9 L195.9,1115.9 L196.0,1115.9 L196.1,1115.9 L196.2,1115.9 L196.3,1115.9 L196.4,1115.9 L196.5,1115.9 L196.6,1115.9 L196.7,1115.9 L196.8,1115.9 L196.9,1115.9 L197.0,1115.9 L197.1,1115.9 L197.2,1115.9 L197.3,1115.9 L197.4,1115.9 L197.5,1115.9 L197.6,1115.9 L197.7,1115.9 L197.8,1115.9 L197.9,1115.9 L198.0,1115.9 L198.1,1115.9 L198.2,1115.9 L198.3,1115.9 L198.4,1115.9 L198.5,1115.9 L198.6,1115.9 L198.7,1115.9 L198.8,1115.9 L198.9,1115.9 L199.0,1115.9 L199.1,1115.9 L199.2,1115.9 L199.3,1115.9 L199.4,1115.9 L199.5,1115.9 L199.6,1115.9 L199.7,1115.9 L199.8,1115.9 L199.9,1115.9 L200.0,1115.9 L200.1,1115.9 L200.2,1115.9 L200.3,1115.9 L200.4,1115.9 L200.5,1115.9 L200.6,1115.9 L200.7,1115.9 L200.8,1115.9 L200.9,1115.9 L201.0,1115.9 L201.1,1115.9 L201.2,1115.9 L201.3,1115.9 L201.4,1115.9 L201.5,1115.9 L201.6,1115.9 L201.7,1115.9 L201.8,1115.9 L201.9,1115.9 L202.0,1115.9 L202.1,1115.9 L202.2,1115.9 L202.3,1115.9 L202.4,1115.9 L202.5,1115.9 L202.6,1115.9 L202.7,1115.9 L202.8,1115.9 L202.9,1115.9 L203.0,1115.9 L203.1,1115.9 L203.2,1115.9 L203.3,1115.9 L203.4,1115.9 L203.5,1115.9 L203.6,1115.9 L203.7,1115.9 L203.8,1115.9 L203.9,1115.9 L204.0,1115.9 L204.1,1115.9 L204.2,1115.9 L204.3,1115.9 L204.4,1115.9 L204.5,1115.9 L204.6,1115.9 L204.7,1115.9 L204.8,1115.9 L204.9,1115.9 L205.0,1115.9 L205.1,1115.9 L205.2,1115.9 L205.3,1115.9 L205.4,1115.9 L205.5,1115.9 L205.6,1115.9 L205.7,1115.9 L205.8,1115.9 L205.9,1115.9 L206.0,1115.9 L206.1,1115.9 L206.2,1115.9 L206.3,1115.9 L206.4,1115.9 L206.5,1115.9 L206.6,1115.9 L206.7,1115.9 L206.8,1115.9 L206.9,1115.9 L207.0,1115.9 L207.1,1115.9 L207.2,1115.9 L207.3,1115.9 L207.4,1115.9 L207.5,1115.9 L207.6,1115.9 L207.7,1115.9 L207.8,1115.9 L207.9,1115.9 L208.0,1115.9 L208.1,1115.9 L208.2,1115.9 L208.3,1115.9 L208.4,1115.9 L208.5,1115.9 L208.6,1115.9 L208.7,1115.9 L208.8,1115.9 L208.9,1115.9 L209.0,1115.9 L209.1,1115.9 L209.2,1115.9 L209.3,1115.9 L209.4,1115.9 L209.5,1115.9 L209.6,1115.9 L209.7,1115.9 L209.8,1115.9 L209.9,1115.9 L210.0,1115.9 L210.1,1115.9 L210.2,1115.9 L210.3,1115.9 L210.4,1115.9 L210.5,1115.9 L210.6,1115.9 L210.7,1115.9 L210.8,1116.0 L210.9,1116.0 L211.0,1116.0 L211.1,1116.0 L211.2,1116.0 L211.3,1116.0 L211.5,1116.0 L211.6,1116.0 L211.7,1116.0 L211.8,1116.0 L211.9,1116.0 L212.0,1116.0 L212.1,1116.0 L212.2,1116.0 L212.3,1116.0 L212.4,1116.0 L212.5,1116.0 L212.6,1116.0 L212.7,1116.0 L212.9,1116.0 L213.0,1116.0 L213.1,1116.0 L213.2,1116.0 L213.3,1116.0 L213.4,1116.0 L213.5,1116.0 L213.6,1116.0 L213.8,1116.0 L213.9,1116.0 L214.0,1116.0 L214.1,1116.0 L214.2,1116.0 L214.3,1116.0 L214.5,1116.0 L214.6,1116.0 L214.7,1116.0 L214.8,1116.0 L214.9,1116.0 L215.0,1116.0 L215.2,1116.0 L215.3,1116.0 L215.4,1116.0 L215.5,1116.0 L215.6,1116.0 L215.8,1116.0 L215.9,1116.0 L216.0,1116.0 L216.1,1116.0 L216.2,1116.0 L216.4,1116.0 L216.5,1116.0 L216.6,1116.0 L216.7,1116.0 L216.9,1116.0 L217.0,1116.0 L217.1,1116.0 L217.2,1116.0 L217.4,1116.0 L217.5,1116.0 L217.6,1116.0 L217.7,1116.0 L217.9,1116.0 L218.0,1116.0 L218.1,1116.0 L218.2,1116.0 L218.4,1116.0 L218.5,1116.0 L218.6,1116.0 L218.8,1116.0 L218.9,1116.0 L219.0,1116.0 L219.2,1116.0 L219.3,1116.0 L219.4,1116.0 L219.5,1116.0 L219.7,1116.0 L219.8,1116.0 L219.9,1116.0 L220.1,1116.0 L220.2,1116.0 L220.3,1116.0 L220.5,1116.0 L220.6,1116.0 L220.7,1116.0 L220.9,1116.0 L221.0,1116.0 L221.2,1116.0 L221.3,1116.0 L221.4,1116.0 L221.6,1116.0 L221.7,1116.0 L221.8,1116.0 L222.0,1116.0 L222.1,1116.0 L222.3,1116.0 L222.4,1116.0 L222.5,1116.0 L222.7,1116.0 L222.8,1116.0 L223.0,1116.0 L223.1,1116.0 L223.2,1116.0 L223.4,1116.0 L223.5,1116.0 L223.7,1116.0 L223.8,1116.0 L223.9,1116.0 L224.1,1116.0 L224.2,1116.0 L224.4,1116.0 L224.5,1116.0 L224.7,1116.0 L224.8,1116.0 L225.0,1116.0 L225.1,1116.0 L225.2,1116.0 L225.4,1116.0 L225.5,1116.0 L225.7,1116.0 L225.8,1116.0 L226.0,1116.0 L226.1,1116.0 L226.3,1116.0 L226.4,1116.0 L226.6,1116.0 L226.7,1116.0 L226.9,1116.0 L227.0,1116.0 L227.2,1116.0 L227.3,1116.0 L227.5,1116.0 L227.6,1116.0 L227.8,1116.0 L227.9,1116.0 L228.1,1116.0 L228.2,1116.0 L228.4,1116.0 L228.5,1116.0 L228.7,1116.0 L228.8,1116.0 L229.0,1116.0 L229.2,1116.0 L229.3,1116.0 L229.5,1116.0 L229.6,1116.0 L229.8,1116.0 L229.9,1116.0 L230.1,1116.0 L230.2,1116.0 L230.4,1116.0 L230.5,1116.0 L230.7,1116.0 L230.9,1116.0 L231.0,1116.0 L231.2,1116.0 L231.3,1116.0 L231.5,1116.0 L231.6,1116.0 L231.8,1116.0 L232.0,1116.0 L232.1,1116.0 L232.3,1116.0 L232.4,1116.0 L232.6,1116.0 L232.8,1116.0 L232.9,1116.0 L233.1,1116.0 L233.2,1116.0 L233.4,1116.0 L233.6,1116.1 L233.7,1116.1 L233.9,1116.1 L234.1,1116.1 L234.2,1116.1 L234.4,1116.1 L234.5,1116.1 L234.7,1116.1 L234.9,1116.1 L235.0,1116.1 L235.2,1116.1 L235.4,1116.1 L235.5,1116.1 L235.7,1116.1 L235.8,1116.1 L236.0,1116.1 L236.2,1116.1 L236.3,1116.1 L236.5,1116.1 L236.7,1116.1 L236.8,1116.1 L237.0,1116.1 L237.2,1116.1 L237.3,1116.1 L237.5,1116.1 L237.7,1116.1 L237.8,1116.1 L238.0,1116.1 L238.2,1116.1 L238.3,1116.1 L238.5,1116.1 L238.7,1116.1 L238.8,1116.1 L239.0,1116.1 L239.2,1116.1 L239.3,1116.1 L239.5,1116.1 L239.7,1116.1 L239.9,1116.1 L240.0,1116.1 L240.2,1116.1 L240.4,1116.1 L240.5,1116.1 L240.7,1116.1 L240.9,1116.1 L241.0,1116.1 L241.2,1116.1 L241.4,1116.1 L241.6,1116.1 L241.7,1116.1 L241.9,1116.1 L242.1,1116.1 L242.2,1116.1 L242.4,1116.1 L242.6,1116.1 L242.8,1116.1 L242.9,1116.1 L243.1,1116.1 L243.3,1116.1 L243.5,1116.1 L243.6,1116.1 L243.8,1116.1 L244.0,1116.1 L244.1,1116.1 L244.3,1116.1 L244.5,1116.1 L244.7,1116.1 L244.8,1116.1 L245.0,1116.1 L245.2,1116.1 L245.4,1116.1 L245.5,1116.1 L245.7,1116.1 L245.9,1116.1 L246.1,1116.1 L246.2,1116.1 L246.4,1116.1 L246.6,1116.1 L246.8,1116.1 L246.9,1116.2 L247.1,1116.2 L247.3,1116.2 L247.5,1116.2 L247.6,1116.2 L247.8,1116.2 L248.0,1116.2 L248.2,1116.2 L248.4,1116.2 L248.5,1116.2 L248.7,1116.2 L248.9,1116.2 L249.1,1116.2 L249.2,1116.2 L249.4,1116.2 L249.6,1116.2 L249.8,1116.2 L250.0,1116.2 L250.1,1116.2 L250.3,1116.2 L250.5,1116.2 L250.7,1116.2 L250.9,1116.2 L251.0,1116.2 L251.2,1116.2 L251.4,1116.2 L251.6,1116.2 L251.8,1116.2 L251.9,1116.2 L252.1,1116.2 L252.3,1116.2 L252.5,1116.2 L252.7,1116.2 L252.8,1116.2 L253.0,1116.2 L253.2,1116.2 L253.4,1116.2 L253.6,1116.2 L253.7,1116.2 L253.9,1116.2 L254.1,1116.2 L254.3,1116.2 L254.5,1116.2 L254.6,1116.2 L254.8,1116.2 L255.0,1116.2 L255.2,1116.2 L255.4,1116.2 L255.6,1116.2 L255.7,1116.2 L255.9,1116.2 L256.1,1116.2 L256.3,1116.3 L256.5,1116.3 L256.7,1116.3 L256.8,1116.3 L257.0,1116.3 L257.2,1116.3 L257.4,1116.3 L257.6,1116.3 L257.8,1116.3 L257.9,1116.3 L258.1,1116.3 L258.3,1116.3 L258.5,1116.3 L258.7,1116.3 L258.9,1116.3 L259.1,1116.3 L259.2,1116.3 L259.4,1116.3 L259.6,1116.3 L259.8,1116.3 L260.0,1116.3 L260.2,1116.3 L260.4,1116.3 L260.5,1116.3 L260.7,1116.3 L260.9,1116.3 L261.1,1116.3 L261.3,1116.3 L261.5,1116.3 L261.7,1116.3 L261.8,1116.3 L262.0,1116.3 L262.2,1116.3 L262.4,1116.3 L262.6,1116.3 L262.8,1116.3 L263.0,1116.3 L263.2,1116.3 L263.4,1116.3 L263.5,1116.4 L263.7,1116.4 L263.9,1116.4 L264.1,1116.4 L264.3,1116.4 L264.5,1116.4 L264.7,1116.4 L264.9,1116.4 L265.1,1116.4 L265.2,1116.4 L265.4,1116.4 L265.6,1116.4 L265.8,1116.4 L266.0,1116.4 L266.2,1116.4 L266.4,1116.4 L266.6,1116.4 L266.8,1116.4 L267.0,1116.4 L267.2,1116.4 L267.3,1116.4 L267.5,1116.4 L267.7,1116.4 L267.9,1116.4 L268.1,1116.4 L268.3,1116.4 L268.5,1116.4 L268.7,1116.4 L268.9,1116.4 L269.1,1116.4 L269.3,1116.4 L269.5,1116.5 L269.7,1116.5 L269.9,1116.5 L270.1,1116.5 L270.2,1116.5 L270.4,1116.5 L270.6,1116.5 L270.8,1116.5 L271.0,1116.5 L271.2,1116.5 L271.4,1116.5 L271.6,1116.5 L271.8,1116.5 L272.0,1116.5 L272.2,1116.5 L272.4,1116.5 L272.6,1116.5 L272.8,1116.5 L273.0,1116.5 L273.2,1116.5 L273.4,1116.5 L273.6,1116.5 L273.8,1116.5 L274.0,1116.5 L274.2,1116.5 L274.4,1116.5 L274.6,1116.6 L274.8,1116.6 L275.0,1116.6 L275.2,1116.6 L275.4,1116.6 L275.6,1116.6 L275.8,1116.6 L276.0,1116.6 L276.2,1116.6 L276.4,1116.6 L276.6,1116.6 L276.8,1116.6 L277.0,1116.6 L277.2,1116.6 L277.4,1116.6 L277.6,1116.6 L277.8,1116.6 L278.0,1116.6 L278.2,1116.6 L278.4,1116.6 L278.6,1116.6 L278.8,1116.6 L279.0,1116.7 L279.2,1116.7 L279.4,1116.7 L279.6,1116.7 L279.8,1116.7 L280.0,1116.7 L280.2,1116.7 L280.5,1116.7 L280.7,1116.7 L280.9,1116.7 L281.1,1116.7 L281.3,1116.7 L281.5,1116.7 L281.7,1116.7 L281.9,1116.7 L282.1,1116.7 L282.3,1116.7 L282.5,1116.7 L282.7,1116.7 L282.9,1116.8 L283.2,1116.8 L283.4,1116.8 L283.6,1116.8 L283.8,1116.8 L284.0,1116.8 L284.2,1116.8 L284.4,1116.8 L284.6,1116.8 L284.8,1116.8 L285.0,1116.8 L285.3,1116.8 L285.5,1116.8 L285.7,1116.8 L285.9,1116.8 L286.1,1116.8 L286.3,1116.8 L286.5,1116.9 L286.7,1116.9 L287.0,1116.9 L287.2,1116.9 L287.4,1116.9 L287.6,1116.9 L287.8,1116.9 L288.0,1116.9 L288.3,1116.9 L288.5,1116.9 L288.7,1116.9 L288.9,1116.9 L289.1,1116.9 L289.3,1116.9 L289.6,1116.9 L289.8,1116.9 L290.0,1117.0 L290.2,1117.0 L290.4,1117.0 L290.6,1117.0 L290.9,1117.0 L291.1,1117.0 L291.3,1117.0 L291.5,1117.0 L291.7,1117.0 L292.0,1117.0 L292.2,1117.0 L292.4,1117.0 L292.6,1117.0 L292.8,1117.0 L293.1,1117.1 L293.3,1117.1 L293.5,1117.1 L293.7,1117.1 L294.0,1117.1 L294.2,1117.1 L294.4,1117.1 L294.6,1117.1 L294.8,1117.1 L295.1,1117.1 L295.3,1117.1 L295.5,1117.1 L295.7,1117.1 L296.0,1117.2 L296.2,1117.2 L296.4,1117.2 L296.6,1117.2 L296.9,1117.2 L297.1,1117.2 L297.3,1117.2 L297.6,1117.2 L297.8,1117.2 L298.0,1117.2 L298.2,1117.2 L298.5,1117.2 L298.7,1117.3 L298.9,1117.3 L299.2,1117.3 L299.4,1117.3 L299.6,1117.3 L299.8,1117.3 L300.1,1117.3 L300.3,1117.3 L300.5,1117.3 L300.8,1117.3 L301.0,1117.3 L301.2,1117.4 L301.5,1117.4 L301.7,1117.4 L301.9,1117.4 L302.2,1117.4 L302.4,1117.4 L302.6,1117.4 L302.9,1117.4 L303.1,1117.4 L303.3,1117.4 L303.6,1117.5 L303.8,1117.5 L304.0,1117.5 L304.3,1117.5 L304.5,1117.5 L304.7,1117.5 L305.0,1117.5 L305.2,1117.5 L305.4,1117.5 L305.7,1117.5 L305.9,1117.6 L306.1,1117.6 L306.4,1117.6 L306.6,1117.6 L306.9,1117.6 L307.1,1117.6 L307.3,1117.6 L307.6,1117.6 L307.8,1117.6 L308.0,1117.7 L308.3,1117.7 L308.5,1117.7 L308.8,1117.7 L309.0,1117.7 L309.2,1117.7 L309.5,1117.7 L309.7,1117.7 L309.9,1117.7 L310.2,1117.8 L310.4,1117.8 L310.7,1117.8 L310.9,1117.8 L311.1,1117.8 L311.4,1117.8 L311.6,1117.8 L311.9,1117.8 L312.1,1117.9 L312.4,1117.9 L312.6,1117.9 L312.8,1117.9 L313.1,1117.9 L313.3,1117.9 L313.6,1117.9 L313.8,1117.9 L314.0,1118.0 L314.3,1118.0 L314.5,1118.0 L314.8,1118.0 L315.0,1118.0 L315.3,1118.0 L315.5,1118.0 L315.7,1118.1 L316.0,1118.1 L316.2,1118.1 L316.5,1118.1 L316.7,1118.1 L317.0,1118.1 L317.2,1118.1 L317.4,1118.2 L317.7,1118.2 L317.9,1118.2 L318.2,1118.2 L318.4,1118.2 L318.7,1118.2 L318.9,1118.2 L319.2,1118.3 L319.4,1118.3 L319.6,1118.3 L319.9,1118.3 L320.1,1118.3 L320.4,1118.3 L320.6,1118.3 L320.9,1118.4 L321.1,1118.4 L321.4,1118.4 L321.6,1118.4 L321.8,1118.4 L322.1,1118.4 L322.3,1118.5 L322.6,1118.5 L322.8,1118.5 L323.1,1118.5 L323.3,1118.5 L323.6,1118.5 L323.8,1118.6 L324.0,1118.6 L324.3,1118.6 L324.5,1118.6 L324.8,1118.6 L325.0,1118.6 L325.3,1118.7 L325.5,1118.7 L325.7,1118.7 L326.0,1118.7 L326.2,1118.7 L326.5,1118.8 L326.7,1118.8 L327.0,1118.8 L327.2,1118.8 L327.5,1118.8 L327.7,1118.8 L327.9,1118.9 L328.2,1118.9 L328.4,1118.9 L328.7,1118.9 L328.9,1118.9 L329.2,1119.0 L329.4,1119.0 L329.6,1119.0 L329.9,1119.0 L330.1,1119.0 L330.4,1119.1 L330.6,1119.1 L330.8,1119.1 L331.1,1119.1 L331.3,1119.1 L331.6,1119.2 L331.8,1119.2 L332.1,1119.2 L332.3,1119.2 L332.5,1119.2 L332.8,1119.3 L333.0,1119.3 L333.2,1119.3 L333.5,1119.3 L333.7,1119.4 L334.0,1119.4 L334.2,1119.4 L334.4,1119.4 L334.7,1119.4 L334.9,1119.5 L335.2,1119.5 L335.4,1119.5 L335.6,1119.5 L335.9,1119.6 L336.1,1119.6 L336.3,1119.6 L336.6,1119.6 L336.8,1119.7 L337.0,1119.7 L337.3,1119.7 L337.5,1119.7 L337.8,1119.8 L338.0,1119.8 L338.2,1119.8 L338.5,1119.8 L338.7,1119.9 L338.9,1119.9 L339.1,1119.9 L339.4,1119.9 L339.6,1120.0 L339.8,1120.0 L340.1,1120.0 L340.3,1120.0 L340.5,1120.1 L340.8,1120.1 L341.0,1120.1 L341.2,1120.1 L341.5,1120.2 L341.7,1120.2 L341.9,1120.2 L342.1,1120.2 L342.4,1120.3 L342.6,1120.3 L342.8,1120.3 L343.0,1120.4 L343.3,1120.4 L343.5,1120.4 L343.7,1120.4 L343.9,1120.5 L344.2,1120.5 L344.4,1120.5 L344.6,1120.6 L344.8,1120.6 L345.0,1120.6 L345.3,1120.6 L345.5,1120.7 L345.7,1120.7 L345.9,1120.7 L346.1,1120.8 L346.4,1120.8 L346.6,1120.8 L346.8,1120.9 L347.0,1120.9 L347.2,1120.9 L347.4,1121.0 L347.7,1121.0 L347.9,1121.0 L348.1,1121.1 L348.3,1121.1 L348.5,1121.1 L348.7,1121.2 L348.9,1121.2 L349.1,1121.2 L349.4,1121.3 L349.6,1121.3 L349.8,1121.3 L350.0,1121.4 L350.2,1121.4 L350.4,1121.4 L350.6,1121.5 L350.8,1121.5 L351.0,1121.5 L351.2,1121.6 L351.4,1121.6 L351.6,1121.6 L351.8,1121.7 L352.0,1121.7 L352.2,1121.7 L352.4,1121.8 L352.6,1121.8 L352.8,1121.9 L353.0,1121.9 L353.2,1121.9 L353.4,1122.0 L353.6,1122.0 L353.8,1122.0 L354.0,1122.1 L354.2,1122.1 L354.4,1122.2 L354.6,1122.2 L354.8,1122.2 L355.0,1122.3 L355.2,1122.3 L355.4,1122.4 L355.5,1122.4 L355.7,1122.4 L355.9,1122.5 L356.1,1122.5 L356.3,1122.6 L356.5,1122.6 L356.7,1122.7 L356.8,1122.7 L357.0,1122.7 L357.2,1122.8 L357.4,1122.8 L357.6,1122.9 L357.8,1122.9 L357.9,1123.0 L358.1,1123.0 L358.3,1123.0 L358.5,1123.1 L358.6,1123.1 L358.8,1123.2 L359.0,1123.2 L359.2,1123.3 L359.3,1123.3 L359.5,1123.4 L359.7,1123.4 L359.8,1123.5 L360.0,1123.5 L360.2,1123.6 L360.3,1123.6 L360.5,1123.6 L360.7,1123.7 L360.8,1123.7 L361.0,1123.8 L361.2,1123.8 L361.3,1123.9 L361.5,1123.9 L361.7,1124.0 L361.8,1124.0 L362.0,1124.1 L362.1,1124.1 L362.3,1124.2 L362.4,1124.2 L362.6,1124.3 L362.7,1124.4 L362.9,1124.4 L363.1,1124.5 L363.2,1124.5 L363.4,1124.6 L363.5,1124.6 L363.7,1124.7 L363.8,1124.7 L363.9,1124.8 L364.1,1124.8 L364.2,1124.9 L364.4,1124.9 L364.5,1125.0 L364.7,1125.1 L364.8,1125.1 L364.9,1125.2 L365.1,1125.2 L365.2,1125.3 L365.4,1125.3 L365.5,1125.4 L365.6,1125.5 L365.8,1125.5 L365.9,1125.6 L366.0,1125.6 L366.2,1125.7 L366.3,1125.8 L366.4,1125.8 L366.5,1125.9 L366.7,1125.9 L366.8,1126.0 L366.9,1126.1 L367.0,1126.1 L367.2,1126.2 L367.3,1126.3 L367.4,1126.3 L367.5,1126.4 L367.6,1126.4 L367.8,1126.5 L367.9,1126.6 L368.0,1126.6 L368.1,1126.7 L368.2,1126.8 L368.3,1126.8 L368.4,1126.9 L368.5,1127.0 L368.7,1127.0 L368.8,1127.1 L368.9,1127.2 L369.0,1127.3 L369.1,1127.3 L369.2,1127.4 L369.3,1127.5 L369.4,1127.5 L369.5,1127.6 L369.6,1127.7 L369.7,1127.7 L369.8,1127.8 L369.9,1127.9 L370.0,1128.0 L370.1,1128.0 L370.2,1128.1 L370.3,1128.2 L370.3,1128.3 L370.4,1128.3 L370.5,1128.4 L370.6,1128.5 L370.7,1128.6 L370.8,1128.6 L370.9,1128.7 L370.9,1128.8 L371.0,1128.9 L371.1,1129.0 L371.2,1129.0 L371.3,1129.1 L371.3,1129.2 L371.4,1129.3 L371.5,1129.3 L371.6,1129.4 L371.6,1129.5 L371.7,1129.6 L371.8,1129.7 L371.9,1129.8 L372.0,1129.9 L372.1,1130.0 L372.1,1130.1 L372.2,1130.2 L372.2,1130.3 L372.3,1130.4 L372.4,1130.4 L372.4,1130.5 L372.5,1130.6 L372.5,1130.7 L372.6,1130.8 L372.7,1130.9 L372.7,1131.0 L372.8,1131.1 L372.8,1131.2 L372.9,1131.2 L372.9,1131.3 L373.0,1131.4 L373.0,1131.5 L373.0,1131.6 L373.1,1131.7 L373.1,1131.8 L373.2,1131.9 L373.2,1132.0 L373.3,1132.1 L373.3,1132.2 L373.3,1132.3 L373.4,1132.4 L373.4,1132.5 L373.4,1132.6 L373.5,1132.7 L373.5,1132.8 L373.5,1132.9 L373.6,1133.0 L373.6,1133.1 L373.6,1133.2 L373.6,1133.3 L373.7,1133.4 L373.7,1133.5 L373.7,1133.6 L373.7,1133.7 L373.8,1133.8 L373.8,1133.9 L373.8,1134.0 L373.8,1134.1 L373.8,1134.2 L373.8,1134.3 L373.8,1134.4 L373.9,1134.5 L373.9,1134.6 L373.9,1134.8 L373.9,1134.9 L373.9,1135.0 L373.9,1135.1 L373.9,1135.2 L373.9,1135.3 L373.9,1135.4 L373.9,1135.5 L373.9,1135.7 L373.9,1135.8 L373.9,1135.9 L373.9,1136.0 L373.9,1136.1 L373.9,1136.2 L373.9,1136.4 L373.9,1136.5 L373.9,1136.6 L373.9,1136.7 L373.8,1136.8 L373.8,1137.0 L373.8,1137.1 L373.8,1137.2 L373.8,1137.3 L373.8,1137.4 L373.7,1137.6 L373.7,1137.7 L373.7,1137.8 L373.7,1137.9 L373.7,1138.1 L373.6,1138.2 L373.6,1138.3 L373.6,1138.5 L373.5,1138.6 L373.5,1138.7 L373.5,1138.8 L373.4,1139.0 L373.4,1139.1 L373.4,1139.2 L373.3,1139.4 L373.3,1139.5 L373.3,1139.6 L373.2,1139.8 L373.2,1139.9 L373.1,1140.0 L373.1,1140.2 L373.1,1140.3 L373.0,1140.5 L373.0,1140.6 L372.9,1140.7 L372.9,1140.9 L372.8,1141.0 L372.8,1141.2 L372.7,1141.3 L372.7,1141.4 L372.6,1141.6 L372.5,1141.7 L372.5,1141.9 L372.4,1142.0 L372.4,1142.2 L372.3,1142.3 L372.2,1142.5 L372.2,1142.6 L372.1,1142.8 L372.1,1142.9 L372.0,1143.1 L371.9,1143.2 L371.9,1143.4 L371.8,1143.5 L371.7,1143.7 L371.6,1143.8 L371.6,1144.0 L371.5,1144.1 L371.4,1144.3 L371.3,1144.4 L371.3,1144.6 L371.2,1144.8 L371.1,1144.9 L371.0,1145.1 L370.9,1145.2 L370.8,1145.4 L370.8,1145.6 L370.7,1145.7 L370.6,1145.9 L370.5,1146.0 L370.4,1146.2 L370.3,1146.4 L370.2,1146.5 L370.1,1146.7 L370.0,1146.9 L369.9,1147.0 L369.8,1147.2 L369.7,1147.4 L369.6,1147.5 L369.5,1147.7 L369.4,1147.9 L369.3,1148.1 L369.2,1148.2 L369.1,1148.4 L369.0,1148.6 L368.9,1148.8 L368.8,1148.9 L368.7,1149.1 L368.6,1149.3 L368.5,1149.5 L368.4,1149.6 L368.2,1149.8 L368.1,1150.0 L368.0,1150.2 L367.9,1150.4 L367.8,1150.6 L367.6,1150.7 L367.5,1150.9 L367.4,1151.1 L367.3,1151.3 L367.2,1151.5 L367.0,1151.7 L366.9,1151.9 L366.8,1152.0 L366.6,1152.2 L366.5,1152.4 L366.4,1152.6 L366.3,1152.8 L366.1,1153.0 L366.0,1153.2 L365.9,1153.4 L365.7,1153.6 L365.6,1153.8 L365.4,1154.0 L365.3,1154.2 L365.2,1154.4 L365.0,1154.6 L364.9,1154.8 L364.7,1155.0 L364.6,1155.2 L364.4,1155.4 L364.3,1155.6 L364.1,1155.8 L364.0,1156.0 L363.8,1156.2 L363.7,1156.4 L363.5,1156.6 L363.4,1156.8 L363.2,1157.0 L363.1,1157.2 L362.9,1157.4 L362.8,1157.6 L362.6,1157.8 L362.4,1158.1 L362.3,1158.3 L362.1,1158.5 L362.0,1158.7 L361.8,1158.9 L361.6,1159.1 L361.5,1159.3 L361.3,1159.6 L361.1,1159.8 L361.0,1160.0 L360.8,1160.2 L360.6,1160.4 L360.5,1160.6 L360.3,1160.9 L360.1,1161.1 L359.9,1161.3 L359.8,1161.5 L359.6,1161.8 L359.4,1162.0 L359.2,1162.2 L359.0,1162.4 L358.9,1162.7 L358.7,1162.9 L358.5,1163.1 L358.3,1163.3 L358.1,1163.6 L358.0,1163.8 L357.8,1164.0 L357.6,1164.3 L357.4,1164.5 L357.2,1164.7 L357.0,1165.0 L356.8,1165.2 L356.6,1165.4 L356.4,1165.7 L356.3,1165.9 L356.1,1166.2 L355.9,1166.4 L355.7,1166.6 L355.5,1166.9 L355.3,1167.1 L355.1,1167.4 L354.9,1167.6 L354.7,1167.8 L354.5,1168.1 L354.3,1168.3 L354.1,1168.6 L353.9,1168.8 L353.7,1169.1 L353.5,1169.3 L353.3,1169.6 L353.1,1169.8 L352.9,1170.1 L352.7,1170.3 L352.5,1170.6 L352.2,1170.8 L352.0,1171.1 L351.8,1171.3 L351.6,1171.6 L351.4,1171.8 L351.2,1172.1 L351.0,1172.3 L350.8,1172.6 L350.6,1172.8 L350.3,1173.1 L350.1,1173.4 L349.9,1173.6 L349.7,1173.9 L349.5,1174.1 L349.3,1174.4 L349.0,1174.7 L348.8,1174.9 L348.6,1175.2 L348.4,1175.4 L348.2,1175.7 L347.9,1176.0 L347.7,1176.2 L347.5,1176.5 L347.3,1176.8 L347.1,1177.0 L346.8,1177.3 L346.6,1177.6 L346.4,1177.8 L346.2,1178.1 L345.9,1178.4 L345.7,1178.6 L345.5,1178.9 L345.3,1179.2 L345.0,1179.5 L344.8,1179.7 L344.6,1180.0 L344.3,1180.3 L344.1,1180.5 L343.9,1180.8 L343.6,1181.1 L343.4,1181.4 L343.2,1181.6 L343.0,1181.9 L342.7,1182.2 L342.5,1182.5 L342.3,1182.8 L342.0,1183.0 L341.8,1183.3 L341.6,1183.6 L341.3,1183.9 L341.1,1184.2 L340.9,1184.4 L340.6,1184.7 L340.4,1185.0 L340.1,1185.3 L339.9,1185.6 L339.7,1185.8 L339.4,1186.1 L339.2,1186.4 L339.0,1186.7 L338.7,1187.0 L338.5,1187.3 L338.3,1187.6 L338.0,1187.8 L337.8,1188.1 L337.5,1188.4 L337.3,1188.7 L337.1,1189.0 L336.8,1189.3 L336.6,1189.6 L336.4,1189.9 L336.1,1190.2 L335.9,1190.4 L335.6,1190.7 L335.4,1191.0 L335.2,1191.3 L334.9,1191.6 L334.7,1191.9 L334.4,1192.2 L334.2,1192.5 L334.0,1192.8 L333.7,1193.1 L333.5,1193.4 L333.3,1193.7 L333.0,1194.0 L332.8,1194.2 L332.5,1194.5 L332.3,1194.8 L332.1,1195.1 L331.8,1195.4 L331.6,1195.7 L331.3,1196.0 L331.1,1196.3 L330.9,1196.6 L330.6,1196.9 L330.4,1197.2 L330.2,1197.5 L329.9,1197.8 L329.7,1198.1 L329.5,1198.4 L329.2,1198.7 L329.0,1199.0 L328.7,1199.3 L328.5,1199.6 L328.3,1199.9 L328.0,1200.2 L327.8,1200.5 L327.6,1200.8 L327.3,1201.1 L327.1,1201.4 L326.9,1201.7 L326.6,1202.0 L326.4,1202.3 L326.2,1202.6 L325.9,1202.9 L325.7,1203.2 L325.5,1203.5 L325.3,1203.8 L325.0,1204.1 L324.8,1204.4 L324.6,1204.7 L324.3,1205.0 L324.1,1205.3 L323.9,1205.6 L323.7,1205.9 L323.4,1206.2 L323.2,1206.5 L323.0,1206.8 L322.8,1207.1 L322.5,1207.4 L322.3,1207.7 L322.1,1208.0 L321.9,1208.3 L321.7,1208.6 L321.4,1208.9 L321.2,1209.2 L321.0,1209.6 L320.8,1209.9 L320.6,1210.2 L320.4,1210.5 L320.1,1210.8 L319.9,1211.1 L319.7,1211.4 L319.5,1211.7 L319.3,1212.0 L319.1,1212.3 L318.9,1212.6 L318.7,1212.9 L318.4,1213.2 L318.2,1213.5 L318.0,1213.8 L317.8,1214.1 L317.6,1214.4 L317.4,1214.7 L317.2,1215.0 L317.0,1215.3 L316.8,1215.6 L316.6,1215.9 L316.4,1216.2 L316.2,1216.5 L316.0,1216.8 L315.8,1217.1 L315.6,1217.4 L315.4,1217.7 L315.3,1218.0 L315.1,1218.3 L314.9,1218.6 L314.7,1218.9 L314.5,1219.2 L314.3,1219.5 L314.1,1219.8 L313.9,1220.1 L313.8,1220.4 L313.6,1220.7 L313.4,1221.0 L313.2,1221.3 L313.0,1221.6 L312.9,1221.9 L312.7,1222.2 L312.5,1222.5 L312.3,1222.8 L312.2,1223.1 L312.0,1223.4 L311.8,1223.7 L311.7,1224.0 L311.5,1224.2 L311.3,1224.5 L311.2,1224.8 L311.0,1225.1 L310.9,1225.4 L310.7,1225.7 L310.6,1226.0 L310.4,1226.3 L310.2,1226.6 L310.1,1226.9 L309.9,1227.2 L309.8,1227.5 L309.7,1227.8 L309.5,1228.1 L309.4,1228.3 L309.2,1228.6 L309.1,1228.9 L309.0,1229.2 L308.8,1229.5 L308.7,1229.8 L308.5,1230.1 L308.4,1230.4 L308.3,1230.7 L308.2,1230.9 L308.0,1231.2 L307.9,1231.5 L307.8,1231.8 L307.7,1232.1 L307.6,1232.4 L307.4,1232.6 L307.3,1232.9 L307.2,1233.2 L307.1,1233.5 L307.0,1233.8 L306.9,1234.1 L306.8,1234.3 L306.7,1234.6 L306.6,1234.9 L306.5,1235.2 L306.4,1235.5 L306.3,1235.7 L306.2,1236.0 L306.1,1236.3 L306.0,1236.6 L305.9,1236.8 L305.9,1237.1 L305.8,1237.4 L305.7,1237.7 L305.6,1237.9 L305.5,1238.2 L305.5,1238.5 L305.4,1238.8 L305.3,1239.0 L305.3,1239.3 L305.2,1239.6 L305.1,1239.8 L305.1,1240.1 L305.0,1240.4 L305.0,1240.7 L304.9,1240.9 L304.9,1241.2 L304.8,1241.5 L304.8,1241.7 L304.7,1242.0 L304.7,1242.3 L304.7,1242.5 L304.6,1242.8 L304.6,1243.0 L304.6,1243.3 L304.5,1243.6 L304.5,1243.8 L304.5,1244.1 L304.5,1244.4 L304.5,1244.6 L304.4,1244.9 L304.4,1245.1 L304.4,1245.4 L304.4,1245.6 L304.4,1245.9 L304.4,1246.2 L304.4,1246.4 L304.4,1246.7 L304.4,1246.9 L304.4,1247.2 L304.4,1247.4 L304.5,1247.7 L304.5,1247.9 L304.5,1248.2 L304.5,1248.4 L304.5,1248.7 L304.6,1248.9 L304.6,1249.2 L304.6,1249.4 L304.7,1249.7 L304.7,1249.9 L304.8,1250.2 L304.8,1250.4 L304.9,1250.6 L304.9,1250.9 L305.0,1251.1 L305.0,1251.4 L305.1,1251.6 L305.2,1251.8 L305.2,1252.1 L305.3,1252.3 L305.4,1252.6 L305.5,1252.8 L305.5,1253.0 L305.6,1253.3 L305.7,1253.5 L305.8,1253.7 L305.9,1254.0 L306.0,1254.2 L306.1,1254.4 L306.2,1254.7 L306.3,1254.9 L306.4,1255.1 L306.5,1255.4 L306.6,1255.6 L306.8,1255.8 L306.9,1256.0 L307.0,1256.3 L307.1,1256.5 L307.3,1256.7 L307.4,1256.9 L307.6,1257.2 L307.7,1257.4 L307.9,1257.6 L308.0,1257.8 L308.2,1258.0 L308.3,1258.3 L308.5,1258.5 L308.6,1258.7 L308.8,1258.9 L309.0,1259.1 L309.2,1259.4 L309.3,1259.6 L309.5,1259.8 L309.7,1260.0 L309.9,1260.2 L310.1,1260.4 L310.3,1260.6 L310.5,1260.8 L310.7,1261.0 L310.9,1261.3 L311.1,1261.5 L311.4,1261.7 L311.6,1261.9 L311.8,1262.1 L312.0,1262.3 L312.3,1262.5 L312.5,1262.7 L312.8,1262.9 L313.0,1263.1 L313.3,1263.3 L313.5,1263.5 L313.8,1263.7 L314.0,1263.9 L314.3,1264.1 L314.6,1264.3 L314.8,1264.5 L315.1,1264.7 L315.4,1264.9 L315.7,1265.1 L316.0,1265.3 L316.3,1265.5 L316.6,1265.7 L316.9,1265.9 L317.2,1266.0 L317.5,1266.2 L317.8,1266.4 L318.2,1266.6 L318.5,1266.8 L318.8,1267.0 L319.2,1267.2 L319.5,1267.4 L319.8,1267.5 L320.2,1267.7 L320.5,1267.9 L320.9,1268.1 L321.3,1268.3 L321.6,1268.5 L322.0,1268.6 L322.4,1268.8 L322.8,1269.0 L323.2,1269.2 L323.6,1269.3 L323.9,1269.5 L324.4,1269.7 L324.8,1269.9 L325.2,1270.0 L325.6,1270.2 L326.0,1270.4 L326.4,1270.6 L326.9,1270.7 L327.3,1270.9 L327.7,1271.1 L328.2,1271.2 L328.6,1271.4 L329.1,1271.6 L329.6,1271.8 L330.0,1271.9 L330.5,1272.1 L331.0,1272.2 L331.5,1272.4 L331.9,1272.6 L332.4,1272.7 L332.9,1272.9 L333.4,1273.1 L333.9,1273.2 L334.5,1273.4 L335.0,1273.5 L335.5,1273.7 L336.0,1273.9 L336.6,1274.0 L337.1,1274.2 L337.7,1274.3 L338.2,1274.5 L338.8,1274.6 L339.3,1274.8 L339.9,1274.9 L340.5,1275.1 L341.1,1275.2 L341.7,1275.4 L342.3,1275.5 L342.8,1275.7 L343.5,1275.8 L344.1,1276.0 L344.7,1276.1 L345.3,1276.3 L345.9,1276.4 L346.6,1276.6 L347.2,1276.7 L347.9,1276.9 L348.5,1277.0 L349.2,1277.1 L349.8,1277.3 L350.5,1277.4 L351.2,1277.6 L351.9,1277.7 L352.6,1277.9 L353.3,1278.0 L354.0,1278.1 L354.7,1278.3 L355.4,1278.4 L356.1,1278.5 L356.8,1278.7 L357.6,1278.8 L358.3,1278.9 L359.1,1279.1 L359.8,1279.2 L360.6,1279.3 L361.4,1279.5 L362.1,1279.6 L362.9,1279.7 L363.7,1279.9 L364.5,1280.0 L365.3,1280.1 L366.1,1280.2 L366.9,1280.4 L367.8,1280.5 L368.6,1280.6 L369.4,1280.7 L370.3,1280.9 L371.1,1281.0 L372.0,1281.1 L372.9,1281.2 L373.7,1281.4 L374.6,1281.5 L375.5,1281.6 L376.4,1281.7 L377.3,1281.8 L378.2,1282.0 L379.1,1282.1 L380.1,1282.2 L381.0,1282.3 L381.9,1282.4 L382.9,1282.5 L383.9,1282.7 L384.8,1282.8 L385.8,1282.9 L386.8,1283.0 L387.8,1283.1 L388.8,1283.2 L389.8,1283.3 L390.8,1283.5 L391.8,1283.6 L392.8,1283.7 L393.9,1283.8 L394.9,1283.9 L396.0,1284.0 L397.0,1284.1 L398.1,1284.2 L399.2,1284.3 L400.3,1284.4 L401.4,1284.5 L402.5,1284.6 L403.6,1284.7 L404.7,1284.8 L405.9,1285.0 L407.0,1285.1 L408.2,1285.2 L409.3,1285.3 L410.5,1285.4 L411.7,1285.5 L412.8,1285.6 L414.0,1285.7 L415.2,1285.8 L416.5,1285.9 L417.7,1286.0 L418.9,1286.1 L420.2,1286.2 L421.4,1286.2 L422.7,1286.3 L423.9,1286.4 L425.2,1286.5 L426.5,1286.6 L427.8,1286.7 L429.1,1286.8 L430.4,1286.9 L431.8,1287.0 L433.1,1287.1 L434.5,1287.2 L435.8,1287.3 L437.2,1287.4 L438.6,1287.5 L440.0,1287.5 L441.4,1287.6 L442.8,1287.7 L444.2,1287.8 L445.6,1287.9 L447.1,1288.0 L448.5,1288.1 L450.0,1288.2 L451.5,1288.2 L452.9,1288.3 L454.4,1288.4 L455.9,1288.5 L457.5,1288.6 L459.0,1288.7 L460.5,1288.7 L462.1,1288.8 L463.6,1288.9 L465.2,1289.0 L466.8,1289.1 L468.4,1289.2 L470.0,1289.2 L471.6,1289.3 L473.3,1289.4 L474.9,1289.5 L476.6,1289.6 L478.2,1289.6 L479.9,1289.7 L481.6,1289.8 L483.3,1289.9 L485.0,1289.9 L486.7,1290.0 L488.5,1290.1 L490.2,1290.2 L492.0,1290.2 L493.8,1290.3 L495.6,1290.4 L497.4,1290.5 L499.2,1290.5 L501.0,1290.6 L502.9,1290.7 L504.7,1290.7 L506.6,1290.8 L508.5,1290.9 L510.4,1291.0 L512.3,1291.0 L514.2,1291.1 L516.1,1291.2 L518.1,1291.2 L520.0,1291.3 L522.0,1291.4 L524.0,1291.4 L526.0,1291.5 L528.0,1291.6 L530.1,1291.6 L532.1,1291.7 L534.2,1291.8 L536.2,1291.8 L538.3,1291.9 L540.4,1292.0 L542.6,1292.0 L544.7,1292.1 L546.8,1292.2 L549.0,1292.2 L551.2,1292.3 L553.4,1292.4 L555.6,1292.4 L557.8,1292.5 L560.0,1292.5 L562.3,1292.6 L564.6,1292.7 L566.8,1292.7 L569.1,1292.8 L571.5,1292.8 L573.8,1292.9 L576.1,1293.0 L578.5,1293.0 L580.9,1293.1 L583.3,1293.1 L585.7,1293.2 L588.1,1293.2 L590.6,1293.3 L593.1,1293.4 L595.5,1293.4 L598.0,1293.5 L600.5,1293.5 L603.1,1293.6 L605.6,1293.6 L608.2,1293.7 L610.8,1293.7 L613.4,1293.8 L616.0,1293.9 L618.6,1293.9 L621.3,1294.0 L624.0,1294.0 L626.7,1294.1 L629.4,1294.1 L632.1,1294.2 L634.9,1294.2 L637.6,1294.3 L640.4,1294.3 L643.2,1294.4 L646.0,1294.4 L648.9,1294.5 L651.7,1294.5 L654.6,1294.6 L657.5,1294.6 L660.4,1294.7 L663.4,1294.7 L666.3,1294.8 L669.3,1294.8 L672.3,1294.9 L675.3,1294.9 L678.4,1295.0 L681.4,1295.0 L684.5,1295.1 L687.6,1295.1 L690.7,1295.1 L693.9,1295.2 L697.0,1295.2 L700.2,1295.3 L703.4,1295.3 L706.7,1295.4 L709.9,1295.4 L713.2,1295.5 L716.5,1295.5 L719.8,1295.5 L723.1,1295.6 L726.5,1295.6 L729.9,1295.7 L733.3,1295.7 L736.7,1295.8 L740.2,1295.8 L743.7,1295.8 L747.2,1295.9 L750.7,1295.9 L754.2,1296.0 L757.8,1296.0 L761.4,1296.0 L765.0,1296.1 L768.6,1296.1 L772.3,1296.2 L776.0,1296.2 L779.7,1296.2 L783.4,1296.3 L787.2,1296.3 L791.0,1296.4 L794.8,1296.4 L798.7,1296.4 L802.5,1296.5 L806.4,1296.5 L810.3,1296.6 L814.3,1296.6 L818.2,1296.6 L822.2,1296.7 L826.3,1296.7 L830.3,1296.7 L834.4,1296.8 L838.5,1296.8 L842.6,1296.8 L846.8,1296.9 L851.0,1296.9 L855.2,1297.0 L859.4,1297.0 L863.7,1297.0 L868.0,1297.1 L872.3,1297.1 L876.7,1297.1 L881.1,1297.2 L885.5,1297.2 L889.9,1297.2 L894.4,1297.3 L898.9,1297.3 L903.4,1297.3 L908.0,1297.4 L912.6,1297.4 L917.2,1297.4 L921.8,1297.5 L926.5,1297.5 L931.2,1297.5 L936.0,1297.5"/>
<path clip-path="url(#cbB)" stroke="#2d3491" d="M190.5,1302.5 L190.8,1302.5 L190.9,1302.5 L191.0,1302.5 L191.1,1302.5 L191.2,1302.5 L191.3,1302.5 L191.4,1302.5 L191.5,1302.5 L191.6,1302.5 L191.7,1302.5 L191.8,1302.5 L191.9,1302.5 L192.0,1302.5 L192.1,1302.5 L192.2,1302.5 L192.3,1302.5 L192.4,1302.5 L192.5,1302.5 L192.6,1302.5 L192.7,1302.5 L192.8,1302.5 L192.9,1302.5 L193.0,1302.5 L193.1,1302.5 L193.2,1302.5 L193.3,1302.5 L193.4,1302.5 L193.5,1302.5 L193.6,1302.5 L193.7,1302.5 L193.8,1302.5 L193.9,1302.5 L194.0,1302.5 L194.1,1302.5 L194.2,1302.5 L194.3,1302.5 L194.4,1302.5 L194.5,1302.5 L194.6,1302.5 L194.7,1302.5 L194.8,1302.5 L194.9,1302.5 L195.0,1302.5 L195.1,1302.5 L195.2,1302.5 L195.3,1302.5 L195.4,1302.5 L195.5,1302.5 L195.6,1302.5 L195.7,1302.5 L195.8,1302.5 L195.9,1302.5 L196.0,1302.5 L196.1,1302.5 L196.2,1302.5 L196.3,1302.5 L196.4,1302.5 L196.5,1302.5 L196.6,1302.5 L196.7,1302.5 L196.8,1302.5 L196.9,1302.5 L197.0,1302.5 L197.1,1302.5 L197.2,1302.5 L197.3,1302.5 L197.4,1302.5 L197.5,1302.5 L197.6,1302.5 L197.7,1302.5 L197.8,1302.5 L197.9,1302.5 L198.0,1302.5 L198.1,1302.5 L198.2,1302.5 L198.3,1302.5 L198.4,1302.5 L198.5,1302.5 L198.6,1302.5 L198.7,1302.5 L198.8,1302.5 L198.9,1302.5 L199.0,1302.5 L199.1,1302.5 L199.2,1302.5 L199.3,1302.5 L199.4,1302.5 L199.5,1302.5 L199.6,1302.5 L199.7,1302.5 L199.8,1302.5 L199.9,1302.5 L200.0,1302.5 L200.1,1302.5 L200.2,1302.5 L200.3,1302.5 L200.4,1302.5 L200.5,1302.5 L200.6,1302.5 L200.7,1302.5 L200.8,1302.5 L200.9,1302.5 L201.0,1302.5 L201.1,1302.5 L201.2,1302.5 L201.3,1302.5 L201.4,1302.5 L201.5,1302.5 L201.6,1302.5 L201.7,1302.5 L201.8,1302.5 L201.9,1302.5 L202.0,1302.5 L202.1,1302.5 L202.2,1302.5 L202.3,1302.5 L202.4,1302.5 L202.5,1302.5 L202.6,1302.5 L202.7,1302.5 L202.8,1302.5 L202.9,1302.5 L203.0,1302.5 L203.1,1302.5 L203.2,1302.5 L203.3,1302.5 L203.4,1302.5 L203.5,1302.5 L203.6,1302.5 L203.7,1302.5 L203.8,1302.5 L203.9,1302.5 L204.0,1302.5 L204.1,1302.5 L204.2,1302.5 L204.3,1302.5 L204.4,1302.5 L204.5,1302.5 L204.6,1302.5 L204.7,1302.5 L204.8,1302.5 L204.9,1302.5 L205.0,1302.5 L205.1,1302.5 L205.2,1302.5 L205.3,1302.5 L205.4,1302.5 L205.5,1302.5 L205.6,1302.5 L205.7,1302.5 L205.8,1302.5 L205.9,1302.5 L206.0,1302.5 L206.1,1302.5 L206.2,1302.5 L206.3,1302.5 L206.4,1302.5 L206.5,1302.5 L206.6,1302.5 L206.7,1302.5 L206.8,1302.5 L206.9,1302.5 L207.0,1302.5 L207.1,1302.5 L207.2,1302.5 L207.3,1302.5 L207.4,1302.5 L207.5,1302.5 L207.6,1302.5 L207.7,1302.5 L207.8,1302.5 L207.9,1302.5 L208.0,1302.5 L208.1,1302.5 L208.2,1302.5 L208.3,1302.5 L208.4,1302.5 L208.5,1302.5 L208.6,1302.5 L208.7,1302.5 L208.8,1302.5 L208.9,1302.5 L209.0,1302.5 L209.1,1302.5 L209.2,1302.5 L209.3,1302.5 L209.4,1302.5 L209.5,1302.5 L209.6,1302.5 L209.7,1302.5 L209.8,1302.5 L209.9,1302.5 L210.0,1302.5 L210.1,1302.5 L210.2,1302.5 L210.3,1302.5 L210.4,1302.5 L210.5,1302.5 L210.6,1302.5 L210.7,1302.5 L210.8,1302.5 L210.9,1302.5 L211.0,1302.5 L211.1,1302.5 L211.2,1302.5 L211.3,1302.5 L211.5,1302.5 L211.6,1302.5 L211.7,1302.5 L211.8,1302.5 L211.9,1302.5 L212.0,1302.5 L212.1,1302.5 L212.2,1302.5 L212.3,1302.5 L212.4,1302.5 L212.5,1302.5 L212.6,1302.5 L212.7,1302.5 L212.9,1302.5 L213.0,1302.5 L213.1,1302.5 L213.2,1302.5 L213.3,1302.5 L213.4,1302.5 L213.5,1302.5 L213.6,1302.5 L213.8,1302.5 L213.9,1302.5 L214.0,1302.5 L214.1,1302.5 L214.2,1302.5 L214.3,1302.5 L214.5,1302.5 L214.6,1302.5 L214.7,1302.5 L214.8,1302.5 L214.9,1302.5 L215.0,1302.5 L215.2,1302.5 L215.3,1302.5 L215.4,1302.5 L215.5,1302.5 L215.6,1302.5 L215.8,1302.5 L215.9,1302.5 L216.0,1302.5 L216.1,1302.5 L216.2,1302.5 L216.4,1302.5 L216.5,1302.5 L216.6,1302.5 L216.7,1302.5 L216.9,1302.5 L217.0,1302.5 L217.1,1302.5 L217.2,1302.5 L217.4,1302.5 L217.5,1302.5 L217.6,1302.5 L217.7,1302.5 L217.9,1302.5 L218.0,1302.5 L218.1,1302.5 L218.2,1302.5 L218.4,1302.5 L218.5,1302.5 L218.6,1302.5 L218.8,1302.5 L218.9,1302.5 L219.0,1302.5 L219.2,1302.5 L219.3,1302.5 L219.4,1302.5 L219.5,1302.5 L219.7,1302.5 L219.8,1302.5 L219.9,1302.5 L220.1,1302.5 L220.2,1302.5 L220.3,1302.5 L220.5,1302.5 L220.6,1302.5 L220.7,1302.5 L220.9,1302.5 L221.0,1302.5 L221.2,1302.5 L221.3,1302.5 L221.4,1302.5 L221.6,1302.5 L221.7,1302.5 L221.8,1302.5 L222.0,1302.5 L222.1,1302.5 L222.3,1302.5 L222.4,1302.5 L222.5,1302.5 L222.7,1302.5 L222.8,1302.5 L223.0,1302.5 L223.1,1302.5 L223.2,1302.5 L223.4,1302.5 L223.5,1302.5 L223.7,1302.5 L223.8,1302.5 L223.9,1302.5 L224.1,1302.5 L224.2,1302.5 L224.4,1302.5 L224.5,1302.5 L224.7,1302.5 L224.8,1302.5 L225.0,1302.5 L225.1,1302.5 L225.2,1302.5 L225.4,1302.5 L225.5,1302.5 L225.7,1302.5 L225.8,1302.5 L226.0,1302.5 L226.1,1302.5 L226.3,1302.5 L226.4,1302.5 L226.6,1302.5 L226.7,1302.5 L226.9,1302.5 L227.0,1302.5 L227.2,1302.5 L227.3,1302.5 L227.5,1302.5 L227.6,1302.5 L227.8,1302.5 L227.9,1302.5 L228.1,1302.5 L228.2,1302.5 L228.4,1302.5 L228.5,1302.5 L228.7,1302.5 L228.8,1302.5 L229.0,1302.5 L229.2,1302.5 L229.3,1302.5 L229.5,1302.5 L229.6,1302.5 L229.8,1302.5 L229.9,1302.5 L230.1,1302.5 L230.2,1302.5 L230.4,1302.5 L230.5,1302.5 L230.7,1302.5 L230.9,1302.5 L231.0,1302.5 L231.2,1302.5 L231.3,1302.5 L231.5,1302.5 L231.6,1302.5 L231.8,1302.5 L232.0,1302.5 L232.1,1302.5 L232.3,1302.5 L232.4,1302.5 L232.6,1302.5 L232.8,1302.5 L232.9,1302.5 L233.1,1302.5 L233.2,1302.5 L233.4,1302.5 L233.6,1302.5 L233.7,1302.5 L233.9,1302.5 L234.1,1302.5 L234.2,1302.5 L234.4,1302.5 L234.5,1302.5 L234.7,1302.5 L234.9,1302.5 L235.0,1302.5 L235.2,1302.5 L235.4,1302.5 L235.5,1302.5 L235.7,1302.5 L235.8,1302.5 L236.0,1302.5 L236.2,1302.5 L236.3,1302.5 L236.5,1302.5 L236.7,1302.5 L236.8,1302.5 L237.0,1302.5 L237.2,1302.5 L237.3,1302.5 L237.5,1302.5 L237.7,1302.5 L237.8,1302.5 L238.0,1302.5 L238.2,1302.5 L238.3,1302.5 L238.5,1302.5 L238.7,1302.5 L238.8,1302.5 L239.0,1302.5 L239.2,1302.5 L239.3,1302.5 L239.5,1302.5 L239.7,1302.5 L239.9,1302.5 L240.0,1302.5 L240.2,1302.5 L240.4,1302.5 L240.5,1302.5 L240.7,1302.5 L240.9,1302.5 L241.0,1302.5 L241.2,1302.5 L241.4,1302.5 L241.6,1302.5 L241.7,1302.5 L241.9,1302.5 L242.1,1302.5 L242.2,1302.5 L242.4,1302.5 L242.6,1302.5 L242.8,1302.5 L242.9,1302.5 L243.1,1302.5 L243.3,1302.5 L243.5,1302.5 L243.6,1302.5 L243.8,1302.5 L244.0,1302.5 L244.1,1302.5 L244.3,1302.5 L244.5,1302.5 L244.7,1302.5 L244.8,1302.5 L245.0,1302.5 L245.2,1302.5 L245.4,1302.5 L245.5,1302.5 L245.7,1302.5 L245.9,1302.5 L246.1,1302.5 L246.2,1302.5 L246.4,1302.5 L246.6,1302.5 L246.8,1302.5 L246.9,1302.5 L247.1,1302.5 L247.3,1302.5 L247.5,1302.5 L247.6,1302.5 L247.8,1302.5 L248.0,1302.5 L248.2,1302.5 L248.4,1302.5 L248.5,1302.5 L248.7,1302.5 L248.9,1302.5 L249.1,1302.5 L249.2,1302.5 L249.4,1302.5 L249.6,1302.5 L249.8,1302.5 L250.0,1302.5 L250.1,1302.5 L250.3,1302.5 L250.5,1302.5 L250.7,1302.5 L250.9,1302.5 L251.0,1302.5 L251.2,1302.5 L251.4,1302.5 L251.6,1302.5 L251.8,1302.5 L251.9,1302.5 L252.1,1302.5 L252.3,1302.5 L252.5,1302.5 L252.7,1302.5 L252.8,1302.5 L253.0,1302.5 L253.2,1302.5 L253.4,1302.5 L253.6,1302.5 L253.7,1302.5 L253.9,1302.5 L254.1,1302.5 L254.3,1302.5 L254.5,1302.5 L254.6,1302.5 L254.8,1302.5 L255.0,1302.5 L255.2,1302.5 L255.4,1302.5 L255.6,1302.5 L255.7,1302.5 L255.9,1302.5 L256.1,1302.5 L256.3,1302.5 L256.5,1302.5 L256.7,1302.5 L256.8,1302.5 L257.0,1302.5 L257.2,1302.5 L257.4,1302.5 L257.6,1302.5 L257.8,1302.5 L257.9,1302.5 L258.1,1302.5 L258.3,1302.5 L258.5,1302.5 L258.7,1302.5 L258.9,1302.5 L259.1,1302.5 L259.2,1302.5 L259.4,1302.5 L259.6,1302.5 L259.8,1302.5 L260.0,1302.5 L260.2,1302.5 L260.4,1302.5 L260.5,1302.5 L260.7,1302.5 L260.9,1302.5 L261.1,1302.5 L261.3,1302.5 L261.5,1302.5 L261.7,1302.5 L261.8,1302.5 L262.0,1302.5 L262.2,1302.5 L262.4,1302.5 L262.6,1302.5 L262.8,1302.5 L263.0,1302.5 L263.2,1302.5 L263.4,1302.5 L263.5,1302.5 L263.7,1302.5 L263.9,1302.5 L264.1,1302.5 L264.3,1302.5 L264.5,1302.5 L264.7,1302.5 L264.9,1302.5 L265.1,1302.5 L265.2,1302.5 L265.4,1302.5 L265.6,1302.5 L265.8,1302.5 L266.0,1302.5 L266.2,1302.5 L266.4,1302.5 L266.6,1302.5 L266.8,1302.5 L267.0,1302.5 L267.2,1302.5 L267.3,1302.5 L267.5,1302.5 L267.7,1302.5 L267.9,1302.5 L268.1,1302.5 L268.3,1302.5 L268.5,1302.5 L268.7,1302.5 L268.9,1302.5 L269.1,1302.5 L269.3,1302.5 L269.5,1302.5 L269.7,1302.4 L269.9,1302.4 L270.1,1302.4 L270.2,1302.4 L270.4,1302.4 L270.6,1302.4 L270.8,1302.4 L271.0,1302.4 L271.2,1302.4 L271.4,1302.4 L271.6,1302.4 L271.8,1302.4 L272.0,1302.4 L272.2,1302.4 L272.4,1302.4 L272.6,1302.4 L272.8,1302.4 L273.0,1302.4 L273.2,1302.4 L273.4,1302.4 L273.6,1302.4 L273.8,1302.4 L274.0,1302.4 L274.2,1302.4 L274.4,1302.4 L274.6,1302.4 L274.8,1302.4 L275.0,1302.4 L275.2,1302.4 L275.4,1302.4 L275.6,1302.4 L275.8,1302.4 L276.0,1302.4 L276.2,1302.4 L276.4,1302.4 L276.6,1302.4 L276.8,1302.4 L277.0,1302.4 L277.2,1302.4 L277.4,1302.4 L277.6,1302.4 L277.8,1302.4 L278.0,1302.4 L278.2,1302.4 L278.4,1302.4 L278.6,1302.4 L278.8,1302.4 L279.0,1302.4 L279.2,1302.4 L279.4,1302.4 L279.6,1302.4 L279.8,1302.4 L280.0,1302.4 L280.2,1302.4 L280.5,1302.4 L280.7,1302.4 L280.9,1302.4 L281.1,1302.4 L281.3,1302.4 L281.5,1302.4 L281.7,1302.4 L281.9,1302.4 L282.1,1302.4 L282.3,1302.4 L282.5,1302.4 L282.7,1302.4 L282.9,1302.4 L283.2,1302.4 L283.4,1302.4 L283.6,1302.4 L283.8,1302.4 L284.0,1302.4 L284.2,1302.4 L284.4,1302.4 L284.6,1302.4 L284.8,1302.4 L285.0,1302.4 L285.3,1302.4 L285.5,1302.4 L285.7,1302.4 L285.9,1302.4 L286.1,1302.4 L286.3,1302.4 L286.5,1302.4 L286.7,1302.4 L287.0,1302.4 L287.2,1302.4 L287.4,1302.4 L287.6,1302.4 L287.8,1302.4 L288.0,1302.4 L288.3,1302.4 L288.5,1302.4 L288.7,1302.4 L288.9,1302.4 L289.1,1302.4 L289.3,1302.4 L289.6,1302.4 L289.8,1302.4 L290.0,1302.4 L290.2,1302.4 L290.4,1302.4 L290.6,1302.4 L290.9,1302.4 L291.1,1302.4 L291.3,1302.4 L291.5,1302.4 L291.7,1302.4 L292.0,1302.4 L292.2,1302.4 L292.4,1302.4 L292.6,1302.4 L292.8,1302.4 L293.1,1302.4 L293.3,1302.4 L293.5,1302.4 L293.7,1302.4 L294.0,1302.4 L294.2,1302.4 L294.4,1302.4 L294.6,1302.4 L294.8,1302.4 L295.1,1302.4 L295.3,1302.4 L295.5,1302.4 L295.7,1302.4 L296.0,1302.4 L296.2,1302.4 L296.4,1302.4 L296.6,1302.4 L296.9,1302.4 L297.1,1302.4 L297.3,1302.4 L297.6,1302.4 L297.8,1302.4 L298.0,1302.4 L298.2,1302.4 L298.5,1302.4 L298.7,1302.4 L298.9,1302.4 L299.2,1302.4 L299.4,1302.4 L299.6,1302.4 L299.8,1302.4 L300.1,1302.4 L300.3,1302.4 L300.5,1302.4 L300.8,1302.4 L301.0,1302.4 L301.2,1302.4 L301.5,1302.4 L301.7,1302.4 L301.9,1302.4 L302.2,1302.4 L302.4,1302.4 L302.6,1302.4 L302.9,1302.4 L303.1,1302.4 L303.3,1302.4 L303.6,1302.4 L303.8,1302.4 L304.0,1302.4 L304.3,1302.4 L304.5,1302.4 L304.7,1302.4 L305.0,1302.4 L305.2,1302.4 L305.4,1302.4 L305.7,1302.4 L305.9,1302.3 L306.1,1302.3 L306.4,1302.3 L306.6,1302.3 L306.9,1302.3 L307.1,1302.3 L307.3,1302.3 L307.6,1302.3 L307.8,1302.3 L308.0,1302.3 L308.3,1302.3 L308.5,1302.3 L308.8,1302.3 L309.0,1302.3 L309.2,1302.3 L309.5,1302.3 L309.7,1302.3 L309.9,1302.3 L310.2,1302.3 L310.4,1302.3 L310.7,1302.3 L310.9,1302.3 L311.1,1302.3 L311.4,1302.3 L311.6,1302.3 L311.9,1302.3 L312.1,1302.3 L312.4,1302.3 L312.6,1302.3 L312.8,1302.3 L313.1,1302.3 L313.3,1302.3 L313.6,1302.3 L313.8,1302.3 L314.0,1302.3 L314.3,1302.3 L314.5,1302.3 L314.8,1302.3 L315.0,1302.3 L315.3,1302.3 L315.5,1302.3 L315.7,1302.3 L316.0,1302.3 L316.2,1302.3 L316.5,1302.3 L316.7,1302.3 L317.0,1302.3 L317.2,1302.3 L317.4,1302.3 L317.7,1302.3 L317.9,1302.3 L318.2,1302.3 L318.4,1302.3 L318.7,1302.3 L318.9,1302.3 L319.2,1302.3 L319.4,1302.3 L319.6,1302.3 L319.9,1302.3 L320.1,1302.3 L320.4,1302.3 L320.6,1302.3 L320.9,1302.3 L321.1,1302.3 L321.4,1302.3 L321.6,1302.3 L321.8,1302.3 L322.1,1302.3 L322.3,1302.3 L322.6,1302.3 L322.8,1302.3 L323.1,1302.3 L323.3,1302.3 L323.6,1302.3 L323.8,1302.3 L324.0,1302.3 L324.3,1302.3 L324.5,1302.3 L324.8,1302.3 L325.0,1302.2 L325.3,1302.2 L325.5,1302.2 L325.7,1302.2 L326.0,1302.2 L326.2,1302.2 L326.5,1302.2 L326.7,1302.2 L327.0,1302.2 L327.2,1302.2 L327.5,1302.2 L327.7,1302.2 L327.9,1302.2 L328.2,1302.2 L328.4,1302.2 L328.7,1302.2 L328.9,1302.2 L329.2,1302.2 L329.4,1302.2 L329.6,1302.2 L329.9,1302.2 L330.1,1302.2 L330.4,1302.2 L330.6,1302.2 L330.8,1302.2 L331.1,1302.2 L331.3,1302.2 L331.6,1302.2 L331.8,1302.2 L332.1,1302.2 L332.3,1302.2 L332.5,1302.2 L332.8,1302.2 L333.0,1302.2 L333.2,1302.2 L333.5,1302.2 L333.7,1302.2 L334.0,1302.2 L334.2,1302.2 L334.4,1302.2 L334.7,1302.2 L334.9,1302.2 L335.2,1302.2 L335.4,1302.2 L335.6,1302.2 L335.9,1302.2 L336.1,1302.2 L336.3,1302.2 L336.6,1302.2 L336.8,1302.2 L337.0,1302.2 L337.3,1302.2 L337.5,1302.1 L337.8,1302.1 L338.0,1302.1 L338.2,1302.1 L338.5,1302.1 L338.7,1302.1 L338.9,1302.1 L339.1,1302.1 L339.4,1302.1 L339.6,1302.1 L339.8,1302.1 L340.1,1302.1 L340.3,1302.1 L340.5,1302.1 L340.8,1302.1 L341.0,1302.1 L341.2,1302.1 L341.5,1302.1 L341.7,1302.1 L341.9,1302.1 L342.1,1302.1 L342.4,1302.1 L342.6,1302.1 L342.8,1302.1 L343.0,1302.1 L343.3,1302.1 L343.5,1302.1 L343.7,1302.1 L343.9,1302.1 L344.2,1302.1 L344.4,1302.1 L344.6,1302.1 L344.8,1302.1 L345.0,1302.1 L345.3,1302.1 L345.5,1302.1 L345.7,1302.1 L345.9,1302.1 L346.1,1302.0 L346.4,1302.0 L346.6,1302.0 L346.8,1302.0 L347.0,1302.0 L347.2,1302.0 L347.4,1302.0 L347.7,1302.0 L347.9,1302.0 L348.1,1302.0 L348.3,1302.0 L348.5,1302.0 L348.7,1302.0 L348.9,1302.0 L349.1,1302.0 L349.4,1302.0 L349.6,1302.0 L349.8,1302.0 L350.0,1302.0 L350.2,1302.0 L350.4,1302.0 L350.6,1302.0 L350.8,1302.0 L351.0,1302.0 L351.2,1302.0 L351.4,1302.0 L351.6,1302.0 L351.8,1302.0 L352.0,1302.0 L352.2,1302.0 L352.4,1302.0 L352.6,1301.9 L352.8,1301.9 L353.0,1301.9 L353.2,1301.9 L353.4,1301.9 L353.6,1301.9 L353.8,1301.9 L354.0,1301.9 L354.2,1301.9 L354.4,1301.9 L354.6,1301.9 L354.8,1301.9 L355.0,1301.9 L355.2,1301.9 L355.4,1301.9 L355.5,1301.9 L355.7,1301.9 L355.9,1301.9 L356.1,1301.9 L356.3,1301.9 L356.5,1301.9 L356.7,1301.9 L356.8,1301.9 L357.0,1301.9 L357.2,1301.9 L357.4,1301.9 L357.6,1301.8 L357.8,1301.8 L357.9,1301.8 L358.1,1301.8 L358.3,1301.8 L358.5,1301.8 L358.6,1301.8 L358.8,1301.8 L359.0,1301.8 L359.2,1301.8 L359.3,1301.8 L359.5,1301.8 L359.7,1301.8 L359.8,1301.8 L360.0,1301.8 L360.2,1301.8 L360.3,1301.8 L360.5,1301.8 L360.7,1301.8 L360.8,1301.8 L361.0,1301.8 L361.2,1301.8 L361.3,1301.7 L361.5,1301.7 L361.7,1301.7 L361.8,1301.7 L362.0,1301.7 L362.1,1301.7 L362.3,1301.7 L362.4,1301.7 L362.6,1301.7 L362.7,1301.7 L362.9,1301.7 L363.1,1301.7 L363.2,1301.7 L363.4,1301.7 L363.5,1301.7 L363.7,1301.7 L363.8,1301.7 L363.9,1301.7 L364.1,1301.7 L364.2,1301.6 L364.4,1301.6 L364.5,1301.6 L364.7,1301.6 L364.8,1301.6 L364.9,1301.6 L365.1,1301.6 L365.2,1301.6 L365.4,1301.6 L365.5,1301.6 L365.6,1301.6 L365.8,1301.6 L365.9,1301.6 L366.0,1301.6 L366.2,1301.6 L366.3,1301.6 L366.4,1301.6 L366.5,1301.6 L366.7,1301.5 L366.8,1301.5 L366.9,1301.5 L367.0,1301.5 L367.2,1301.5 L367.3,1301.5 L367.4,1301.5 L367.5,1301.5 L367.6,1301.5 L367.8,1301.5 L367.9,1301.5 L368.0,1301.5 L368.1,1301.5 L368.2,1301.5 L368.3,1301.5 L368.4,1301.4 L368.5,1301.4 L368.7,1301.4 L368.8,1301.4 L368.9,1301.4 L369.0,1301.4 L369.1,1301.4 L369.2,1301.4 L369.3,1301.4 L369.4,1301.4 L369.5,1301.4 L369.6,1301.4 L369.7,1301.4 L369.8,1301.4 L369.9,1301.3 L370.0,1301.3 L370.1,1301.3 L370.2,1301.3 L370.3,1301.3 L370.4,1301.3 L370.5,1301.3 L370.6,1301.3 L370.7,1301.3 L370.8,1301.3 L370.9,1301.3 L371.0,1301.2 L371.1,1301.2 L371.2,1301.2 L371.3,1301.2 L371.4,1301.2 L371.5,1301.2 L371.6,1301.2 L371.7,1301.2 L371.8,1301.2 L371.9,1301.2 L371.9,1301.1 L372.0,1301.1 L372.1,1301.1 L372.2,1301.1 L372.3,1301.1 L372.4,1301.1 L372.5,1301.1 L372.6,1301.0 L372.7,1301.0 L372.8,1301.0 L372.9,1301.0 L373.0,1301.0 L373.1,1300.9 L373.2,1300.9 L373.3,1300.9 L373.4,1300.9 L373.5,1300.8 L373.6,1300.8 L373.7,1300.8 L373.7,1300.7 L373.8,1300.7 L373.8,1300.6 L373.9,1300.6 L373.9,1300.5 L373.9,1300.4 L373.8,1300.4 L373.8,1300.3 L373.7,1300.3 L373.7,1300.2 L373.6,1300.2 L373.5,1300.2 L373.5,1300.1 L373.4,1300.1 L373.3,1300.1 L373.2,1300.0 L373.1,1300.0 L373.0,1300.0 L373.0,1299.9 L372.9,1299.9 L372.8,1299.9 L372.7,1299.9 L372.7,1299.8 L372.6,1299.8 L372.5,1299.8 L372.4,1299.8 L372.4,1299.7 L372.3,1299.7 L372.2,1299.7 L372.1,1299.7 L372.0,1299.6 L371.9,1299.6 L371.8,1299.6 L371.7,1299.6 L371.6,1299.5 L371.5,1299.5 L371.4,1299.5 L371.3,1299.5 L371.3,1299.4 L371.2,1299.4 L371.1,1299.4 L371.0,1299.4 L370.9,1299.4 L370.8,1299.3 L370.7,1299.3 L370.6,1299.3 L370.5,1299.3 L370.4,1299.2 L370.3,1299.2 L370.2,1299.2 L370.1,1299.2 L370.0,1299.2 L369.9,1299.1 L369.8,1299.1 L369.7,1299.1 L369.6,1299.1 L369.5,1299.0 L369.4,1299.0 L369.3,1299.0 L369.2,1299.0 L369.1,1299.0 L369.0,1298.9 L368.9,1298.9 L368.8,1298.9 L368.7,1298.9 L368.6,1298.8 L368.5,1298.8 L368.4,1298.8 L368.2,1298.8 L368.1,1298.7 L368.0,1298.7 L367.9,1298.7 L367.8,1298.7 L367.6,1298.6 L367.5,1298.6 L367.4,1298.6 L367.3,1298.6 L367.2,1298.5 L367.0,1298.5 L366.9,1298.5 L366.8,1298.5 L366.6,1298.4 L366.5,1298.4 L366.4,1298.4 L366.3,1298.4 L366.1,1298.3 L366.0,1298.3 L365.9,1298.3 L365.7,1298.3 L365.6,1298.2 L365.4,1298.2 L365.3,1298.2 L365.2,1298.1 L365.0,1298.1 L364.9,1298.1 L364.7,1298.1 L364.6,1298.0 L364.4,1298.0 L364.3,1298.0 L364.1,1297.9 L364.0,1297.9 L363.8,1297.9 L363.7,1297.8 L363.5,1297.8 L363.4,1297.8 L363.2,1297.8 L363.1,1297.7 L362.9,1297.7 L362.8,1297.7 L362.6,1297.6 L362.4,1297.6 L362.3,1297.6 L362.1,1297.5 L362.0,1297.5 L361.8,1297.5 L361.6,1297.4 L361.5,1297.4 L361.3,1297.4 L361.1,1297.3 L361.0,1297.3 L360.8,1297.3 L360.6,1297.2 L360.5,1297.2 L360.3,1297.2 L360.1,1297.1 L359.9,1297.1 L359.8,1297.1 L359.6,1297.0 L359.4,1297.0 L359.2,1297.0 L359.0,1296.9 L358.9,1296.9 L358.7,1296.8 L358.5,1296.8 L358.3,1296.8 L358.1,1296.7 L358.0,1296.7 L357.8,1296.7 L357.6,1296.6 L357.4,1296.6 L357.2,1296.5 L357.0,1296.5 L356.8,1296.5 L356.6,1296.4 L356.4,1296.4 L356.3,1296.4 L356.1,1296.3 L355.9,1296.3 L355.7,1296.2 L355.5,1296.2 L355.3,1296.1 L355.1,1296.1 L354.9,1296.1 L354.7,1296.0 L354.5,1296.0 L354.3,1295.9 L354.1,1295.9 L353.9,1295.9 L353.7,1295.8 L353.5,1295.8 L353.3,1295.7 L353.1,1295.7 L352.9,1295.6 L352.7,1295.6 L352.5,1295.5 L352.2,1295.5 L352.0,1295.5 L351.8,1295.4 L351.6,1295.4 L351.4,1295.3 L351.2,1295.3 L351.0,1295.2 L350.8,1295.2 L350.6,1295.1 L350.3,1295.1 L350.1,1295.0 L349.9,1295.0 L349.7,1294.9 L349.5,1294.9 L349.3,1294.8 L349.0,1294.8 L348.8,1294.7 L348.6,1294.7 L348.4,1294.6 L348.2,1294.6 L347.9,1294.5 L347.7,1294.5 L347.5,1294.4 L347.3,1294.4 L347.1,1294.3 L346.8,1294.3 L346.6,1294.2 L346.4,1294.2 L346.2,1294.1 L345.9,1294.0 L345.7,1294.0 L345.5,1293.9 L345.3,1293.9 L345.0,1293.8 L344.8,1293.8 L344.6,1293.7 L344.3,1293.7 L344.1,1293.6 L343.9,1293.5 L343.6,1293.5 L343.4,1293.4 L343.2,1293.4 L343.0,1293.3 L342.7,1293.2 L342.5,1293.2 L342.3,1293.1 L342.0,1293.1 L341.8,1293.0 L341.6,1292.9 L341.3,1292.9 L341.1,1292.8 L340.9,1292.8 L340.6,1292.7 L340.4,1292.6 L340.1,1292.6 L339.9,1292.5 L339.7,1292.4 L339.4,1292.4 L339.2,1292.3 L339.0,1292.2 L338.7,1292.2 L338.5,1292.1 L338.3,1292.0 L338.0,1292.0 L337.8,1291.9 L337.5,1291.8 L337.3,1291.8 L337.1,1291.7 L336.8,1291.6 L336.6,1291.5 L336.4,1291.5 L336.1,1291.4 L335.9,1291.3 L335.6,1291.3 L335.4,1291.2 L335.2,1291.1 L334.9,1291.0 L334.7,1291.0 L334.4,1290.9 L334.2,1290.8 L334.0,1290.7 L333.7,1290.7 L333.5,1290.6 L333.3,1290.5 L333.0,1290.4 L332.8,1290.3 L332.5,1290.3 L332.3,1290.2 L332.1,1290.1 L331.8,1290.0 L331.6,1289.9 L331.3,1289.9 L331.1,1289.8 L330.9,1289.7 L330.6,1289.6 L330.4,1289.5 L330.2,1289.4 L329.9,1289.4 L329.7,1289.3 L329.5,1289.2 L329.2,1289.1 L329.0,1289.0 L328.7,1288.9 L328.5,1288.8 L328.3,1288.8 L328.0,1288.7 L327.8,1288.6 L327.6,1288.5 L327.3,1288.4 L327.1,1288.3 L326.9,1288.2 L326.6,1288.1 L326.4,1288.0 L326.2,1287.9 L325.9,1287.8 L325.7,1287.7 L325.5,1287.6 L325.3,1287.5 L325.0,1287.4 L324.8,1287.3 L324.6,1287.2 L324.3,1287.1 L324.1,1287.0 L323.9,1286.9 L323.7,1286.8 L323.4,1286.7 L323.2,1286.6 L323.0,1286.5 L322.8,1286.4 L322.5,1286.3 L322.3,1286.2 L322.1,1286.1 L321.9,1286.0 L321.7,1285.9 L321.4,1285.8 L321.2,1285.7 L321.0,1285.6 L320.8,1285.5 L320.6,1285.4 L320.4,1285.2 L320.1,1285.1 L319.9,1285.0 L319.7,1284.9 L319.5,1284.8 L319.3,1284.7 L319.1,1284.6 L318.9,1284.4 L318.7,1284.3 L318.4,1284.2 L318.2,1284.1 L318.0,1284.0 L317.8,1283.8 L317.6,1283.7 L317.4,1283.6 L317.2,1283.5 L317.0,1283.4 L316.8,1283.2 L316.6,1283.1 L316.4,1283.0 L316.2,1282.9 L316.0,1282.7 L315.8,1282.6 L315.6,1282.5 L315.4,1282.3 L315.3,1282.2 L315.1,1282.1 L314.9,1281.9 L314.7,1281.8 L314.5,1281.7 L314.3,1281.5 L314.1,1281.4 L313.9,1281.3 L313.8,1281.1 L313.6,1281.0 L313.4,1280.8 L313.2,1280.7 L313.0,1280.6 L312.9,1280.4 L312.7,1280.3 L312.5,1280.1 L312.3,1280.0 L312.2,1279.8 L312.0,1279.7 L311.8,1279.5 L311.7,1279.4 L311.5,1279.2 L311.3,1279.1 L311.2,1278.9 L311.0,1278.8 L310.9,1278.6 L310.7,1278.5 L310.6,1278.3 L310.4,1278.2 L310.2,1278.0 L310.1,1277.8 L309.9,1277.7 L309.8,1277.5 L309.7,1277.4 L309.5,1277.2 L309.4,1277.0 L309.2,1276.9 L309.1,1276.7 L309.0,1276.5 L308.8,1276.4 L308.7,1276.2 L308.5,1276.0 L308.4,1275.9 L308.3,1275.7 L308.2,1275.5 L308.0,1275.3 L307.9,1275.2 L307.8,1275.0 L307.7,1274.8 L307.6,1274.6 L307.4,1274.4 L307.3,1274.2 L307.2,1274.1 L307.1,1273.9 L307.0,1273.7 L306.9,1273.5 L306.8,1273.3 L306.7,1273.1 L306.6,1272.9 L306.5,1272.7 L306.4,1272.6 L306.3,1272.4 L306.2,1272.2 L306.1,1272.0 L306.0,1271.8 L305.9,1271.6 L305.9,1271.4 L305.8,1271.2 L305.7,1271.0 L305.6,1270.7 L305.5,1270.5 L305.5,1270.3 L305.4,1270.1 L305.3,1269.9 L305.3,1269.7 L305.2,1269.5 L305.1,1269.3 L305.1,1269.1 L305.0,1268.8 L305.0,1268.6 L304.9,1268.4 L304.9,1268.2 L304.8,1268.0 L304.8,1267.7 L304.7,1267.5 L304.7,1267.3 L304.7,1267.0 L304.6,1266.8 L304.6,1266.6 L304.6,1266.4 L304.5,1266.1 L304.5,1265.9 L304.5,1265.6 L304.5,1265.4 L304.5,1265.2 L304.4,1264.9 L304.4,1264.7 L304.4,1264.4 L304.4,1264.2 L304.4,1263.9 L304.4,1263.7 L304.4,1263.4 L304.4,1263.2 L304.4,1262.9 L304.4,1262.7 L304.4,1262.4 L304.5,1262.1 L304.5,1261.9 L304.5,1261.6 L304.5,1261.3 L304.5,1261.1 L304.6,1260.8 L304.6,1260.5 L304.6,1260.3 L304.7,1260.0 L304.7,1259.7 L304.8,1259.4 L304.8,1259.1 L304.9,1258.9 L304.9,1258.6 L305.0,1258.3 L305.0,1258.0 L305.1,1257.7 L305.2,1257.4 L305.2,1257.1 L305.3,1256.8 L305.4,1256.5 L305.5,1256.2 L305.5,1255.9 L305.6,1255.6 L305.7,1255.3 L305.8,1255.0 L305.9,1254.7 L306.0,1254.4 L306.1,1254.1 L306.2,1253.8 L306.3,1253.5 L306.4,1253.1 L306.5,1252.8 L306.6,1252.5 L306.8,1252.2 L306.9,1251.8 L307.0,1251.5 L307.1,1251.2 L307.3,1250.9 L307.4,1250.5 L307.6,1250.2 L307.7,1249.8 L307.9,1249.5 L308.0,1249.1 L308.2,1248.8 L308.3,1248.5 L308.5,1248.1 L308.6,1247.7 L308.8,1247.4 L309.0,1247.0 L309.2,1246.7 L309.3,1246.3 L309.5,1245.9 L309.7,1245.6 L309.9,1245.2 L310.1,1244.8 L310.3,1244.5 L310.5,1244.1 L310.7,1243.7 L310.9,1243.3 L311.1,1242.9 L311.4,1242.5 L311.6,1242.1 L311.8,1241.8 L312.0,1241.4 L312.3,1241.0 L312.5,1240.6 L312.8,1240.2 L313.0,1239.8 L313.3,1239.3 L313.5,1238.9 L313.8,1238.5 L314.0,1238.1 L314.3,1237.7 L314.6,1237.3 L314.8,1236.8 L315.1,1236.4 L315.4,1236.0 L315.7,1235.5 L316.0,1235.1 L316.3,1234.7 L316.6,1234.2 L316.9,1233.8 L317.2,1233.3 L317.5,1232.9 L317.8,1232.4 L318.2,1232.0 L318.5,1231.5 L318.8,1231.1 L319.2,1230.6 L319.5,1230.1 L319.8,1229.7 L320.2,1229.2 L320.5,1228.7 L320.9,1228.2 L321.3,1227.7 L321.6,1227.3 L322.0,1226.8 L322.4,1226.3 L322.8,1225.8 L323.2,1225.3 L323.6,1224.8 L323.9,1224.3 L324.4,1223.8 L324.8,1223.2 L325.2,1222.7 L325.6,1222.2 L326.0,1221.7 L326.4,1221.2 L326.9,1220.6 L327.3,1220.1 L327.7,1219.6 L328.2,1219.0 L328.6,1218.5 L329.1,1217.9 L329.6,1217.4 L330.0,1216.8 L330.5,1216.3 L331.0,1215.7 L331.5,1215.1 L331.9,1214.6 L332.4,1214.0 L332.9,1213.4 L333.4,1212.8 L333.9,1212.3 L334.5,1211.7 L335.0,1211.1 L335.5,1210.5 L336.0,1209.9 L336.6,1209.3 L337.1,1208.7 L337.7,1208.1 L338.2,1207.5 L338.8,1206.8 L339.3,1206.2 L339.9,1205.6 L340.5,1205.0 L341.1,1204.3 L341.7,1203.7 L342.3,1203.0 L342.8,1202.4 L343.5,1201.7 L344.1,1201.1 L344.7,1200.4 L345.3,1199.8 L345.9,1199.1 L346.6,1198.4 L347.2,1197.7 L347.9,1197.1 L348.5,1196.4 L349.2,1195.7 L349.8,1195.0 L350.5,1194.3 L351.2,1193.6 L351.9,1192.9 L352.6,1192.2 L353.3,1191.4 L354.0,1190.7 L354.7,1190.0 L355.4,1189.3 L356.1,1188.5 L356.8,1187.8 L357.6,1187.0 L358.3,1186.3 L359.1,1185.5 L359.8,1184.8 L360.6,1184.0 L361.4,1183.2 L362.1,1182.4 L362.9,1181.7 L363.7,1180.9 L364.5,1180.1 L365.3,1179.3 L366.1,1178.5 L366.9,1177.7 L367.8,1176.9 L368.6,1176.1 L369.4,1175.2 L370.3,1174.4 L371.1,1173.6 L372.0,1172.7 L372.9,1171.9 L373.7,1171.0 L374.6,1170.2 L375.5,1169.3 L376.4,1168.4 L377.3,1167.6 L378.2,1166.7 L379.1,1165.8 L380.1,1164.9 L381.0,1164.0 L381.9,1163.1 L382.9,1162.2 L383.9,1161.3 L384.8,1160.4 L385.8,1159.5 L386.8,1158.5 L387.8,1157.6 L388.8,1156.7 L389.8,1155.7 L390.8,1154.7 L391.8,1153.8 L392.8,1152.8 L393.9,1151.8 L394.9,1150.9 L396.0,1149.9 L397.0,1148.9 L398.1,1147.9 L399.2,1146.9 L400.3,1145.9 L401.4,1144.8 L402.5,1143.8 L403.6,1142.8 L404.7,1141.7 L405.9,1140.7 L407.0,1139.6 L408.2,1138.6 L409.3,1137.5 L410.5,1136.4 L411.7,1135.4 L412.8,1134.3 L414.0,1133.2 L415.2,1132.1 L416.5,1131.0 L417.7,1129.9 L418.9,1128.7 L420.2,1127.6 L421.4,1126.5 L422.7,1125.3 L423.9,1124.2 L425.2,1123.0 L426.5,1121.8 L427.8,1120.7 L429.1,1119.5 L430.4,1118.3 L431.8,1117.1 L433.1,1115.9 L434.5,1114.7 L435.8,1113.4 L437.2,1112.2 L438.6,1111.0 L440.0,1109.7 L441.4,1108.5 L442.8,1107.2 L444.2,1105.9 L445.6,1104.7 L447.1,1103.4 L448.5,1102.1 L450.0,1100.8 L451.5,1099.5 L452.9,1098.1 L454.4,1096.8 L455.9,1095.5 L457.5,1094.1 L459.0,1092.8 L460.5,1091.4 L462.1,1090.0 L463.6,1088.6 L465.2,1087.2 L466.8,1085.8 L468.4,1084.4 L470.0,1083.0 L471.6,1081.6 L473.3,1080.1 L474.9,1078.7 L476.6,1077.2 L478.2,1075.8 L479.9,1074.3 L481.6,1072.8 L483.3,1071.3 L485.0,1069.8 L486.7,1068.3 L488.5,1066.8 L490.2,1065.2 L492.0,1063.7 L493.8,1062.1 L495.6,1060.6 L497.4,1059.0 L499.2,1057.4 L501.0,1055.8 L502.9,1054.2 L504.7,1052.6 L506.6,1051.0 L508.5,1049.3 L510.4,1047.7 L512.3,1046.0 L514.2,1044.4 L516.1,1042.7 L518.1,1041.0 L520.0,1039.3 L522.0,1037.6 L524.0,1035.8 L526.0,1034.1 L528.0,1032.4 L530.1,1030.6 L532.1,1028.8 L534.2,1027.1 L536.2,1025.3 L538.3,1023.5 L540.4,1021.6 L542.6,1019.8 L544.7,1018.0 L546.8,1016.1 L549.0,1014.3 L551.2,1012.4 L553.4,1010.5 L555.6,1008.6 L557.8,1006.7 L560.0,1004.8 L562.3,1002.8 L564.6,1000.9 L566.8,998.9 L569.1,996.9 L571.5,994.9 L573.8,992.9 L576.1,990.9 L578.5,988.9 L580.9,986.9 L583.3,984.8 L585.7,982.7 L588.1,980.6 L590.6,978.6 L593.1,976.4 L595.5,974.3 L598.0,972.2 L600.5,970.0 L603.1,967.9 L605.6,965.7 L608.2,963.5 L610.8,961.3 L613.4,959.1 L616.0,956.8 L618.6,954.6 L621.3,952.3 L624.0,950.0 L626.7,947.7 L629.4,945.4 L632.1,943.1 L634.9,940.8 L637.6,938.4 L640.4,936.1 L643.2,933.7 L646.0,931.3 L648.9,928.9 L651.7,926.4 L654.6,924.0 L657.5,921.5 L660.4,919.0 L663.4,916.5 L666.3,914.0 L669.3,911.5 L672.3,908.9 L675.3,906.4 L678.4,903.8 L681.4,901.2 L684.5,898.6 L687.6,896.0 L690.7,893.3 L693.9,890.7 L697.0,888.0 L700.2,885.3 L703.4,882.6 L706.7,879.8 L709.9,877.1 L713.2,874.3 L716.5,871.5 L719.8,868.7 L723.1,865.9 L726.5,863.1 L729.9,860.2 L733.3,857.3 L736.7,854.4 L740.2,851.5 L743.7,848.6 L747.2,845.6 L750.7,842.6 L754.2,839.6 L757.8,836.6 L761.4,833.6 L765.0,830.5 L768.6,827.5 L772.3,824.4 L776.0,821.3 L779.7,818.1 L783.4,815.0 L787.2,811.8 L791.0,808.6 L794.8,805.4 L798.7,802.2 L802.5,798.9 L806.4,795.6 L810.3,792.3 L814.3,789.0 L818.2,785.7 L822.2,782.3 L826.3,778.9 L830.3,775.5 L834.4,772.1 L838.5,768.6 L842.6,765.2 L846.8,761.7 L851.0,758.1 L855.2,754.6 L859.4,751.0 L863.7,747.4 L868.0,743.8 L872.3,740.2 L876.7,736.5 L881.1,732.8 L885.5,729.1 L889.9,725.4 L894.4,721.6 L898.9,717.9 L903.4,714.1 L908.0,710.2 L912.6,706.4 L917.2,702.5 L921.8,698.6 L926.5,694.7 L931.2,690.7 L936.0,686.7"/>
</g>
<g font-family="'Liberation Sans', sans-serif" font-size="34.3" fill="#231f20" stroke="#231f20" stroke-width="0.3">
<text transform="translate(187.4,1315.8) scale(1,1.0812000000000002)" text-anchor="end">0</text>
<text transform="translate(190.4,1340.4) scale(1,1.0812000000000002)" text-anchor="middle">0</text>
<text transform="translate(187.4,1203.8) scale(1,1.0812000000000002)" text-anchor="end">200</text>
<text transform="translate(324.9,1340.4) scale(1,1.0812000000000002)" text-anchor="middle">200</text>
<text transform="translate(187.4,1091.8) scale(1,1.0812000000000002)" text-anchor="end">400</text>
<text transform="translate(459.3,1340.4) scale(1,1.0812000000000002)" text-anchor="middle">400</text>
<text transform="translate(187.4,979.9) scale(1,1.0812000000000002)" text-anchor="end">600</text>
<text transform="translate(593.8,1340.4) scale(1,1.0812000000000002)" text-anchor="middle">600</text>
<text transform="translate(187.4,867.9) scale(1,1.0812000000000002)" text-anchor="end">800</text>
<text transform="translate(728.2,1340.4) scale(1,1.0812000000000002)" text-anchor="middle">800</text>
<text transform="translate(187.4,756.0) scale(1,1.0812000000000002)" text-anchor="end">1000</text>
<text transform="translate(862.7,1340.4) scale(1,1.0812000000000002)" text-anchor="middle">1000</text>
</g>
<g font-family="'Liberation Sans', sans-serif" font-size="40.5" fill="#231f20" stroke="#231f20" stroke-width="0.45">
    <text x="353.47" y="1393.3" font-size="40.5" textLength="82.00" lengthAdjust="spacingAndGlyphs">Total</text>
    <text x="445.79" y="1393.3" font-size="40.5" textLength="114.06" lengthAdjust="spacingAndGlyphs">[Clb5];</text>
    <text x="565.85" y="1393.3" font-size="40.5" textLength="55.42" lengthAdjust="spacingAndGlyphs">nM</text>
<g transform="translate(35.1,712) rotate(-90)">
    <text x="-496.40" y="0.0" font-size="40.5" textLength="72.67" lengthAdjust="spacingAndGlyphs">Free</text>
    <text x="-413.44" y="0.0" font-size="40.5" textLength="86.39" lengthAdjust="spacingAndGlyphs">[Clb5</text>
    <text x="-324.00" y="0.0" font-size="40.5" textLength="12.00" lengthAdjust="spacingAndGlyphs">-</text>
    <text x="-311.00" y="0.0" font-size="40.5" textLength="97.87" lengthAdjust="spacingAndGlyphs">Cdk1]</text>
    <text x="-211.50" y="0.0" font-size="40.5" textLength="24.57" lengthAdjust="spacingAndGlyphs">&amp;</text>
</g>
<g transform="translate(84.8,712) rotate(-90)">
    <text x="-472.65" y="0.0" font-size="40.5" textLength="83.87" lengthAdjust="spacingAndGlyphs">Total</text>
    <text x="-378.33" y="0.0" font-size="40.5" textLength="102.55" lengthAdjust="spacingAndGlyphs">[Sic1];</text>
    <text x="-267.87" y="0.0" font-size="40.5" textLength="55.87" lengthAdjust="spacingAndGlyphs">nM</text>
</g>
</g>
<text transform="translate(12.6,721.8) scale(1.113,1)" font-family="'Liberation Sans', sans-serif" font-weight="bold" font-size="34.6" fill="#231f20">B</text>
<g font-family="'Liberation Sans', sans-serif" fill="#231f20" stroke="#231f20" stroke-width="0.3">
<text x="499.51" y="1192.2" font-size="31.5" textLength="14.05" lengthAdjust="spacingAndGlyphs">k</text>
<text x="514.61" y="1202.7" font-size="17.3" textLength="36.03" lengthAdjust="spacingAndGlyphs">Clb5</text>
<text x="550.81" y="1192.2" font-size="31" textLength="20.19" lengthAdjust="spacingAndGlyphs">=</text>
<text x="571.09" y="1192.2" font-size="30.5" textLength="70.99" lengthAdjust="spacingAndGlyphs">0.001</text>
<text x="652.81" y="1192.2" font-size="30.5" textLength="45.79" lengthAdjust="spacingAndGlyphs">nM</text>
<text x="697.26" y="1180.7" font-size="16.5" textLength="12.74" lengthAdjust="spacingAndGlyphs">-1</text>
<text x="719.1" y="1196.1" font-size="39" stroke="none">×</text>
<text x="747.51" y="1192.2" font-size="30.5" textLength="53.02" lengthAdjust="spacingAndGlyphs">min</text>
<text x="799.77" y="1180.7" font-size="16.5" textLength="14.64" lengthAdjust="spacingAndGlyphs">-1</text>
<text x="499.51" y="1232.2" font-size="31.5" textLength="14.05" lengthAdjust="spacingAndGlyphs">k</text>
<text x="514.61" y="1242.7" font-size="17.3" textLength="36.18" lengthAdjust="spacingAndGlyphs">Cln2</text>
<text x="550.81" y="1232.2" font-size="31" textLength="20.19" lengthAdjust="spacingAndGlyphs">=</text>
<text x="571.08" y="1232.2" font-size="30.5" textLength="88.08" lengthAdjust="spacingAndGlyphs">0.0001</text>
<text x="669.86" y="1232.2" font-size="30.5" textLength="45.79" lengthAdjust="spacingAndGlyphs">nM</text>
<text x="714.31" y="1220.7" font-size="16.5" textLength="12.74" lengthAdjust="spacingAndGlyphs">-1</text>
<text x="736.1" y="1236.1" font-size="39" stroke="none">×</text>
<text x="764.56" y="1232.2" font-size="30.5" textLength="53.02" lengthAdjust="spacingAndGlyphs">min</text>
<text x="816.82" y="1220.7" font-size="16.5" textLength="14.64" lengthAdjust="spacingAndGlyphs">-1</text>
</g>
<rect x="190.5" y="1471.3" width="672.3" height="549.2" fill="none" stroke="#231f20" stroke-width="2.3" stroke-linejoin="round"/>
<path d="M325.0,2020.5 v-7.3 M325.0,1471.3 v7.3 M190.5,1910.7 h7.3 M862.8,1910.7 h-7.3 M459.4,2020.5 v-7.3 M459.4,1471.3 v7.3 M190.5,1800.8 h7.3 M862.8,1800.8 h-7.3 M593.9,2020.5 v-7.3 M593.9,1471.3 v7.3 M190.5,1691.0 h7.3 M862.8,1691.0 h-7.3 M728.3,2020.5 v-7.3 M728.3,1471.3 v7.3 M190.5,1581.1 h7.3 M862.8,1581.1 h-7.3" stroke="#231f20" stroke-width="2.2" fill="none"/>
<g fill="none" stroke-width="8" stroke-linejoin="round">
<path clip-path="url(#cbC)" stroke="#4a7c5e" d="M190.5,1942.0 L190.6,1942.0 L190.7,1942.0 L190.8,1942.0 L190.9,1942.0 L191.0,1942.0 L191.1,1942.0 L191.2,1942.0 L191.3,1942.0 L191.4,1942.0 L191.5,1942.0 L191.6,1942.0 L191.7,1942.0 L191.8,1942.0 L191.9,1942.0 L192.0,1942.0 L192.1,1942.0 L192.2,1942.0 L192.3,1942.0 L192.4,1942.0 L192.5,1942.0 L192.6,1942.0 L192.7,1942.0 L192.8,1942.0 L192.9,1942.0 L193.0,1942.0 L193.1,1942.0 L193.2,1942.0 L193.3,1942.0 L193.4,1942.0 L193.5,1942.0 L193.6,1942.0 L193.7,1942.0 L193.8,1942.0 L193.9,1942.0 L194.0,1942.0 L194.0,1942.1 L194.1,1942.1 L194.2,1942.1 L194.3,1942.1 L194.4,1942.1 L194.5,1942.1 L194.6,1942.1 L194.7,1942.1 L194.8,1942.1 L194.9,1942.1 L195.0,1942.1 L195.1,1942.1 L195.2,1942.1 L195.3,1942.1 L195.4,1942.1 L195.5,1942.1 L195.6,1942.1 L195.7,1942.1 L195.8,1942.1 L195.9,1942.1 L196.0,1942.1 L196.1,1942.1 L196.2,1942.1 L196.3,1942.1 L196.4,1942.1 L196.5,1942.1 L196.6,1942.1 L196.7,1942.1 L196.8,1942.1 L196.9,1942.1 L197.0,1942.1 L197.1,1942.1 L197.2,1942.1 L197.3,1942.1 L197.4,1942.1 L197.5,1942.1 L197.6,1942.1 L197.7,1942.1 L197.8,1942.1 L197.9,1942.1 L198.0,1942.1 L198.1,1942.1 L198.2,1942.1 L198.3,1942.1 L198.4,1942.1 L198.5,1942.1 L198.6,1942.1 L198.7,1942.1 L198.8,1942.1 L198.9,1942.1 L199.0,1942.1 L199.1,1942.1 L199.2,1942.1 L199.3,1942.1 L199.4,1942.1 L199.5,1942.1 L199.6,1942.1 L199.7,1942.1 L199.8,1942.1 L199.9,1942.1 L200.0,1942.1 L200.1,1942.1 L200.2,1942.1 L200.3,1942.1 L200.4,1942.1 L200.5,1942.1 L200.6,1942.1 L200.7,1942.1 L200.8,1942.1 L200.9,1942.1 L201.0,1942.1 L201.1,1942.1 L201.2,1942.1 L201.3,1942.1 L201.4,1942.1 L201.5,1942.1 L201.6,1942.1 L201.7,1942.1 L201.8,1942.1 L201.9,1942.1 L202.0,1942.1 L202.1,1942.1 L202.2,1942.1 L202.3,1942.1 L202.4,1942.1 L202.5,1942.1 L202.6,1942.1 L202.7,1942.1 L202.8,1942.1 L202.9,1942.1 L203.0,1942.1 L203.1,1942.1 L203.2,1942.1 L203.3,1942.1 L203.4,1942.1 L203.5,1942.1 L203.6,1942.1 L203.7,1942.1 L203.8,1942.1 L203.9,1942.1 L204.0,1942.1 L204.1,1942.1 L204.2,1942.1 L204.3,1942.1 L204.4,1942.1 L204.5,1942.1 L204.6,1942.1 L204.7,1942.1 L204.8,1942.1 L204.9,1942.1 L205.0,1942.1 L205.1,1942.1 L205.2,1942.1 L205.3,1942.1 L205.4,1942.1 L205.5,1942.1 L205.6,1942.1 L205.7,1942.1 L205.8,1942.1 L205.9,1942.1 L206.0,1942.1 L206.1,1942.1 L206.2,1942.1 L206.3,1942.1 L206.4,1942.1 L206.5,1942.1 L206.6,1942.1 L206.7,1942.1 L206.8,1942.1 L206.9,1942.1 L207.0,1942.1 L207.1,1942.1 L207.2,1942.1 L207.3,1942.1 L207.4,1942.1 L207.5,1942.1 L207.6,1942.1 L207.7,1942.1 L207.8,1942.1 L207.9,1942.1 L208.0,1942.1 L208.1,1942.1 L208.2,1942.1 L208.3,1942.1 L208.4,1942.1 L208.5,1942.1 L208.6,1942.1 L208.7,1942.1 L208.8,1942.1 L208.9,1942.1 L209.0,1942.1 L209.1,1942.1 L209.2,1942.1 L209.3,1942.1 L209.4,1942.1 L209.5,1942.1 L209.6,1942.1 L209.7,1942.1 L209.8,1942.1 L209.9,1942.1 L210.0,1942.1 L210.1,1942.1 L210.2,1942.1 L210.3,1942.1 L210.4,1942.1 L210.5,1942.1 L210.6,1942.1 L210.7,1942.1 L210.8,1942.1 L210.9,1942.1 L211.0,1942.1 L211.1,1942.1 L211.2,1942.1 L211.3,1942.1 L211.4,1942.1 L211.5,1942.1 L211.6,1942.2 L211.7,1942.2 L211.8,1942.2 L211.9,1942.2 L212.0,1942.2 L212.1,1942.2 L212.2,1942.2 L212.3,1942.2 L212.4,1942.2 L212.5,1942.2 L212.6,1942.2 L212.7,1942.2 L212.8,1942.2 L212.9,1942.2 L213.0,1942.2 L213.1,1942.2 L213.2,1942.2 L213.3,1942.2 L213.4,1942.2 L213.5,1942.2 L213.6,1942.2 L213.7,1942.2 L213.8,1942.2 L213.9,1942.2 L214.0,1942.2 L214.1,1942.2 L214.2,1942.2 L214.3,1942.2 L214.4,1942.2 L214.5,1942.2 L214.6,1942.2 L214.7,1942.2 L214.8,1942.2 L214.9,1942.2 L215.0,1942.2 L215.1,1942.2 L215.2,1942.2 L215.3,1942.2 L215.4,1942.2 L215.5,1942.2 L215.6,1942.2 L215.7,1942.2 L215.8,1942.2 L215.9,1942.2 L216.0,1942.2 L216.1,1942.2 L216.2,1942.2 L216.3,1942.2 L216.4,1942.2 L216.5,1942.2 L216.6,1942.2 L216.7,1942.2 L216.8,1942.2 L216.9,1942.2 L217.0,1942.2 L217.1,1942.2 L217.2,1942.2 L217.3,1942.2 L217.4,1942.2 L217.5,1942.2 L217.6,1942.2 L217.7,1942.2 L217.8,1942.2 L217.9,1942.2 L218.0,1942.2 L218.1,1942.2 L218.2,1942.2 L218.3,1942.2 L218.4,1942.2 L218.5,1942.2 L218.6,1942.2 L218.7,1942.2 L218.8,1942.2 L218.9,1942.2 L219.0,1942.3 L219.1,1942.3 L219.2,1942.3 L219.3,1942.3 L219.4,1942.3 L219.5,1942.3 L219.6,1942.3 L219.7,1942.3 L219.8,1942.3 L219.9,1942.3 L220.0,1942.3 L220.1,1942.3 L220.2,1942.3 L220.3,1942.3 L220.4,1942.3 L220.5,1942.3 L220.6,1942.3 L220.7,1942.3 L220.8,1942.3 L220.9,1942.3 L221.0,1942.3 L221.1,1942.3 L221.2,1942.3 L221.3,1942.3 L221.4,1942.3 L221.5,1942.3 L221.6,1942.3 L221.7,1942.3 L221.8,1942.3 L221.9,1942.3 L222.0,1942.3 L222.1,1942.3 L222.2,1942.3 L222.3,1942.3 L222.4,1942.3 L222.5,1942.3 L222.6,1942.3 L222.7,1942.3 L222.8,1942.3 L222.9,1942.3 L223.0,1942.3 L223.1,1942.3 L223.2,1942.3 L223.3,1942.3 L223.4,1942.3 L223.5,1942.3 L223.6,1942.3 L223.7,1942.3 L223.8,1942.3 L223.9,1942.3 L224.0,1942.3 L224.1,1942.3 L224.2,1942.3 L224.3,1942.3 L224.4,1942.3 L224.5,1942.4 L224.6,1942.4 L224.7,1942.4 L224.8,1942.4 L224.9,1942.4 L225.0,1942.4 L225.1,1942.4 L225.2,1942.4 L225.3,1942.4 L225.4,1942.4 L225.5,1942.4 L225.6,1942.4 L225.7,1942.4 L225.8,1942.4 L225.9,1942.4 L226.0,1942.4 L226.1,1942.4 L226.2,1942.4 L226.3,1942.4 L226.4,1942.4 L226.5,1942.4 L226.6,1942.4 L226.7,1942.4 L226.8,1942.4 L226.9,1942.4 L227.0,1942.4 L227.1,1942.4 L227.2,1942.4 L227.3,1942.4 L227.4,1942.4 L227.5,1942.4 L227.6,1942.4 L227.7,1942.4 L227.8,1942.4 L227.9,1942.4 L228.0,1942.4 L228.1,1942.4 L228.2,1942.4 L228.4,1942.4 L228.5,1942.4 L228.6,1942.4 L228.7,1942.4 L228.8,1942.4 L228.9,1942.4 L229.0,1942.5 L229.1,1942.5 L229.2,1942.5 L229.3,1942.5 L229.4,1942.5 L229.5,1942.5 L229.6,1942.5 L229.7,1942.5 L229.9,1942.5 L230.0,1942.5 L230.1,1942.5 L230.2,1942.5 L230.3,1942.5 L230.4,1942.5 L230.5,1942.5 L230.6,1942.5 L230.7,1942.5 L230.8,1942.5 L231.0,1942.5 L231.1,1942.5 L231.2,1942.5 L231.3,1942.5 L231.4,1942.5 L231.5,1942.5 L231.6,1942.5 L231.7,1942.5 L231.9,1942.5 L232.0,1942.5 L232.1,1942.5 L232.2,1942.5 L232.3,1942.5 L232.4,1942.5 L232.5,1942.5 L232.7,1942.5 L232.8,1942.6 L232.9,1942.6 L233.0,1942.6 L233.1,1942.6 L233.2,1942.6 L233.3,1942.6 L233.5,1942.6 L233.6,1942.6 L233.7,1942.6 L233.8,1942.6 L233.9,1942.6 L234.0,1942.6 L234.2,1942.6 L234.3,1942.6 L234.4,1942.6 L234.5,1942.6 L234.6,1942.6 L234.8,1942.6 L234.9,1942.6 L235.0,1942.6 L235.1,1942.6 L235.2,1942.6 L235.3,1942.6 L235.5,1942.6 L235.6,1942.6 L235.7,1942.6 L235.8,1942.6 L235.9,1942.6 L236.1,1942.7 L236.2,1942.7 L236.3,1942.7 L236.4,1942.7 L236.5,1942.7 L236.7,1942.7 L236.8,1942.7 L236.9,1942.7 L237.0,1942.7 L237.1,1942.7 L237.3,1942.7 L237.4,1942.7 L237.5,1942.7 L237.6,1942.7 L237.8,1942.7 L237.9,1942.7 L238.0,1942.7 L238.1,1942.7 L238.2,1942.7 L238.4,1942.7 L238.5,1942.7 L238.6,1942.7 L238.7,1942.7 L238.9,1942.7 L239.0,1942.8 L239.1,1942.8 L239.2,1942.8 L239.4,1942.8 L239.5,1942.8 L239.6,1942.8 L239.7,1942.8 L239.8,1942.8 L240.0,1942.8 L240.1,1942.8 L240.2,1942.8 L240.3,1942.8 L240.5,1942.8 L240.6,1942.8 L240.7,1942.8 L240.8,1942.8 L241.0,1942.8 L241.1,1942.8 L241.2,1942.8 L241.3,1942.8 L241.5,1942.9 L241.6,1942.9 L241.7,1942.9 L241.8,1942.9 L242.0,1942.9 L242.1,1942.9 L242.2,1942.9 L242.3,1942.9 L242.5,1942.9 L242.6,1942.9 L242.7,1942.9 L242.8,1942.9 L243.0,1942.9 L243.1,1942.9 L243.2,1942.9 L243.4,1942.9 L243.5,1942.9 L243.6,1942.9 L243.7,1943.0 L243.9,1943.0 L244.0,1943.0 L244.1,1943.0 L244.2,1943.0 L244.4,1943.0 L244.5,1943.0 L244.6,1943.0 L244.7,1943.0 L244.9,1943.0 L245.0,1943.0 L245.1,1943.0 L245.2,1943.0 L245.4,1943.0 L245.5,1943.0 L245.6,1943.0 L245.7,1943.0 L245.9,1943.1 L246.0,1943.1 L246.1,1943.1 L246.3,1943.1 L246.4,1943.1 L246.5,1943.1 L246.6,1943.1 L246.8,1943.1 L246.9,1943.1 L247.0,1943.1 L247.1,1943.1 L247.3,1943.1 L247.4,1943.1 L247.5,1943.1 L247.6,1943.2 L247.8,1943.2 L247.9,1943.2 L248.0,1943.2 L248.1,1943.2 L248.3,1943.2 L248.4,1943.2 L248.5,1943.2 L248.6,1943.2 L248.8,1943.2 L248.9,1943.2 L249.0,1943.2 L249.1,1943.2 L249.3,1943.2 L249.4,1943.3 L249.5,1943.3 L249.6,1943.3 L249.8,1943.3 L249.9,1943.3 L250.0,1943.3 L250.1,1943.3 L250.3,1943.3 L250.4,1943.3 L250.5,1943.3 L250.6,1943.3 L250.8,1943.3 L250.9,1943.4 L251.0,1943.4 L251.1,1943.4 L251.2,1943.4 L251.4,1943.4 L251.5,1943.4 L251.6,1943.4 L251.7,1943.4 L251.9,1943.4 L252.0,1943.4 L252.1,1943.4 L252.2,1943.4 L252.3,1943.5 L252.5,1943.5 L252.6,1943.5 L252.7,1943.5 L252.8,1943.5 L253.0,1943.5 L253.1,1943.5 L253.2,1943.5 L253.3,1943.5 L253.4,1943.5 L253.6,1943.5 L253.7,1943.6 L253.8,1943.6 L253.9,1943.6 L254.0,1943.6 L254.2,1943.6 L254.3,1943.6 L254.4,1943.6 L254.5,1943.6 L254.6,1943.6 L254.7,1943.6 L254.9,1943.7 L255.0,1943.7 L255.1,1943.7 L255.2,1943.7 L255.3,1943.7 L255.4,1943.7 L255.6,1943.7 L255.7,1943.7 L255.8,1943.7 L255.9,1943.8 L256.0,1943.8 L256.1,1943.8 L256.3,1943.8 L256.4,1943.8 L256.5,1943.8 L256.6,1943.8 L256.7,1943.8 L256.8,1943.8 L256.9,1943.9 L257.1,1943.9 L257.2,1943.9 L257.3,1943.9 L257.4,1943.9 L257.5,1943.9 L257.6,1943.9 L257.7,1943.9 L257.8,1943.9 L258.0,1944.0 L258.1,1944.0 L258.2,1944.0 L258.3,1944.0 L258.4,1944.0 L258.5,1944.0 L258.6,1944.0 L258.7,1944.0 L258.8,1944.1 L258.9,1944.1 L259.1,1944.1 L259.2,1944.1 L259.3,1944.1 L259.4,1944.1 L259.5,1944.1 L259.6,1944.1 L259.7,1944.2 L259.8,1944.2 L259.9,1944.2 L260.0,1944.2 L260.1,1944.2 L260.2,1944.2 L260.3,1944.2 L260.4,1944.3 L260.6,1944.3 L260.7,1944.3 L260.8,1944.3 L260.9,1944.3 L261.0,1944.3 L261.1,1944.3 L261.2,1944.4 L261.3,1944.4 L261.4,1944.4 L261.5,1944.4 L261.6,1944.4 L261.7,1944.4 L261.8,1944.4 L261.9,1944.5 L262.0,1944.5 L262.1,1944.5 L262.2,1944.5 L262.3,1944.5 L262.4,1944.5 L262.5,1944.6 L262.6,1944.6 L262.7,1944.6 L262.8,1944.6 L262.9,1944.6 L263.0,1944.6 L263.1,1944.7 L263.2,1944.7 L263.3,1944.7 L263.4,1944.7 L263.5,1944.7 L263.6,1944.8 L263.7,1944.8 L263.8,1944.8 L263.9,1944.8 L264.0,1944.8 L264.1,1944.8 L264.2,1944.9 L264.3,1944.9 L264.4,1944.9 L264.5,1944.9 L264.6,1944.9 L264.7,1945.0 L264.8,1945.0 L264.9,1945.0 L265.0,1945.0 L265.1,1945.0 L265.2,1945.1 L265.3,1945.1 L265.4,1945.1 L265.5,1945.1 L265.6,1945.2 L265.7,1945.2 L265.8,1945.2 L265.9,1945.2 L266.0,1945.2 L266.1,1945.3 L266.2,1945.3 L266.3,1945.3 L266.4,1945.3 L266.5,1945.3 L266.5,1945.4 L266.6,1945.4 L266.7,1945.4 L266.8,1945.4 L266.9,1945.5 L267.0,1945.5 L267.1,1945.5 L267.2,1945.5 L267.3,1945.6 L267.4,1945.6 L267.5,1945.6 L267.6,1945.6 L267.7,1945.7 L267.8,1945.7 L267.9,1945.7 L268.0,1945.8 L268.1,1945.8 L268.2,1945.8 L268.3,1945.9 L268.4,1945.9 L268.5,1945.9 L268.5,1946.0 L268.6,1946.0 L268.7,1946.0 L268.8,1946.0 L268.9,1946.1 L269.0,1946.1 L269.1,1946.1 L269.2,1946.2 L269.3,1946.2 L269.4,1946.3 L269.5,1946.3 L269.6,1946.3 L269.6,1946.4 L269.7,1946.4 L269.8,1946.4 L269.9,1946.5 L270.0,1946.5 L270.1,1946.5 L270.2,1946.6 L270.3,1946.6 L270.3,1946.7 L270.4,1946.7 L270.5,1946.7 L270.6,1946.8 L270.7,1946.8 L270.8,1946.9 L270.9,1946.9 L271.0,1947.0 L271.1,1947.0 L271.2,1947.1 L271.3,1947.1 L271.3,1947.2 L271.4,1947.2 L271.5,1947.3 L271.6,1947.3 L271.7,1947.4 L271.8,1947.4 L271.8,1947.5 L271.9,1947.5 L272.0,1947.6 L272.1,1947.6 L272.1,1947.7 L272.2,1947.7 L272.3,1947.8 L272.4,1947.8 L272.4,1947.9 L272.5,1947.9 L272.5,1948.0 L272.6,1948.0 L272.7,1948.1 L272.8,1948.2 L272.9,1948.2 L272.9,1948.3 L273.0,1948.3 L273.0,1948.4 L273.1,1948.4 L273.1,1948.5 L273.2,1948.5 L273.2,1948.6 L273.3,1948.6 L273.3,1948.7 L273.4,1948.7 L273.4,1948.8 L273.5,1948.8 L273.5,1948.9 L273.6,1948.9 L273.6,1949.0 L273.7,1949.1 L273.8,1949.2 L273.9,1949.3 L273.9,1949.4 L274.0,1949.4 L274.0,1949.5 L274.1,1949.6 L274.1,1949.7 L274.2,1949.7 L274.2,1949.8 L274.3,1949.9 L274.3,1950.0 L274.4,1950.0 L274.4,1950.1 L274.4,1950.2 L274.5,1950.2 L274.5,1950.3 L274.6,1950.4 L274.6,1950.5 L274.6,1950.6 L274.7,1950.6 L274.7,1950.7 L274.7,1950.8 L274.8,1950.8 L274.8,1950.9 L274.8,1951.0 L274.9,1951.1 L274.9,1951.2 L275.0,1951.3 L275.0,1951.4 L275.0,1951.5 L275.1,1951.6 L275.1,1951.7 L275.1,1951.8 L275.1,1951.9 L275.2,1951.9 L275.2,1952.0 L275.2,1952.1 L275.2,1952.2 L275.3,1952.3 L275.3,1952.4 L275.3,1952.5 L275.3,1952.6 L275.4,1952.7 L275.4,1952.8 L275.4,1952.9 L275.4,1953.0 L275.4,1953.1 L275.4,1953.2 L275.5,1953.2 L275.5,1953.3 L275.5,1953.4 L275.5,1953.5 L275.5,1953.6 L275.5,1953.7 L275.5,1953.8 L275.6,1953.9 L275.6,1954.0 L275.6,1954.1 L275.6,1954.2 L275.6,1954.3 L275.6,1954.4 L275.6,1954.5 L275.6,1954.6 L275.6,1954.7 L275.7,1954.8 L275.7,1954.9 L275.7,1955.0 L275.7,1955.1 L275.7,1955.2 L275.7,1955.3 L275.7,1955.4 L275.7,1955.5 L275.7,1955.6 L275.7,1955.7 L275.7,1955.8 L275.7,1955.9 L275.7,1956.0 L275.7,1956.1 L275.7,1956.2 L275.7,1956.3 L275.7,1956.4 L275.7,1956.5 L275.7,1956.6 L275.8,1956.7 L275.8,1956.8 L275.8,1956.9 L275.8,1957.0 L275.8,1957.1 L275.8,1957.2 L275.8,1957.3 L275.8,1957.4 L275.8,1957.5 L275.8,1957.6 L275.8,1957.7 L275.8,1957.8 L275.8,1957.9 L275.8,1958.0 L275.8,1958.1 L275.8,1958.2 L275.8,1958.3 L275.8,1958.4 L275.8,1958.5 L275.8,1958.6 L275.8,1958.7 L275.8,1958.8 L275.8,1958.9 L275.8,1959.0 L275.8,1959.1 L275.8,1959.2 L275.8,1959.3 L275.8,1959.4 L275.8,1959.5 L275.8,1959.6 L275.8,1959.7 L275.8,1959.8 L275.8,1959.9 L275.8,1960.0 L275.8,1960.1 L275.8,1960.2 L275.8,1960.3 L275.8,1960.4 L275.8,1960.5 L275.8,1960.6 L275.8,1960.7 L275.8,1960.8 L275.8,1960.9 L275.8,1961.0 L275.8,1961.1 L275.8,1961.2 L275.8,1961.3 L275.8,1961.4 L275.8,1961.5 L275.8,1961.6 L275.9,1961.7 L275.9,1961.8 L275.9,1961.9 L275.9,1962.0 L275.9,1962.1 L275.9,1962.2 L275.9,1962.3 L275.9,1962.4 L275.9,1962.5 L275.9,1962.6 L275.9,1962.7 L275.9,1962.8 L275.9,1962.9 L275.9,1963.0 L275.9,1963.1 L275.9,1963.2 L275.9,1963.3 L275.9,1963.4 L276.0,1963.5 L276.0,1963.6 L276.0,1963.7 L276.0,1963.8 L276.0,1963.9 L276.0,1964.0 L276.0,1964.1 L276.0,1964.2 L276.0,1964.3 L276.0,1964.4 L276.0,1964.5 L276.1,1964.6 L276.1,1964.8 L276.1,1964.9 L276.1,1965.0 L276.1,1965.1 L276.1,1965.2 L276.1,1965.3 L276.1,1965.4 L276.2,1965.5 L276.2,1965.6 L276.2,1965.7 L276.2,1965.8 L276.2,1965.9 L276.2,1966.0 L276.2,1966.1 L276.3,1966.2 L276.3,1966.4 L276.3,1966.5 L276.3,1966.6 L276.3,1966.7 L276.3,1966.8 L276.4,1966.9 L276.4,1967.0 L276.4,1967.1 L276.4,1967.2 L276.5,1967.3 L276.5,1967.5 L276.5,1967.6 L276.5,1967.7 L276.5,1967.8 L276.6,1967.9 L276.6,1968.0 L276.6,1968.1 L276.6,1968.2 L276.7,1968.4 L276.7,1968.5 L276.7,1968.6 L276.8,1968.7 L276.8,1968.8 L276.8,1968.9 L276.8,1969.0 L276.9,1969.2 L276.9,1969.3 L276.9,1969.4 L277.0,1969.5 L277.0,1969.6 L277.0,1969.7 L277.1,1969.8 L277.1,1970.0 L277.2,1970.1 L277.2,1970.2 L277.2,1970.3 L277.3,1970.4 L277.3,1970.6 L277.4,1970.7 L277.4,1970.8 L277.4,1970.9 L277.5,1971.0 L277.5,1971.1 L277.6,1971.3 L277.6,1971.4 L277.7,1971.5 L277.7,1971.6 L277.8,1971.7 L277.8,1971.9 L277.9,1972.0 L277.9,1972.1 L278.0,1972.2 L278.0,1972.3 L278.1,1972.5 L278.1,1972.6 L278.2,1972.7 L278.2,1972.8 L278.3,1972.9 L278.4,1973.1 L278.4,1973.2 L278.5,1973.3 L278.5,1973.4 L278.6,1973.6 L278.7,1973.7 L278.7,1973.8 L278.8,1973.9 L278.9,1974.0 L278.9,1974.2 L279.0,1974.3 L279.1,1974.4 L279.1,1974.5 L279.2,1974.7 L279.3,1974.8 L279.4,1974.9 L279.4,1975.0 L279.5,1975.2 L279.6,1975.3 L279.7,1975.4 L279.8,1975.5 L279.8,1975.7 L279.9,1975.8 L280.0,1975.9 L280.1,1976.0 L280.2,1976.2 L280.3,1976.3 L280.4,1976.4 L280.5,1976.5 L280.6,1976.7 L280.7,1976.8 L280.8,1976.9 L280.9,1977.0 L281.0,1977.2 L281.1,1977.3 L281.2,1977.4 L281.3,1977.5 L281.4,1977.7 L281.5,1977.8 L281.6,1977.9 L281.7,1978.0 L281.8,1978.2 L281.9,1978.3 L282.0,1978.4 L282.1,1978.5 L282.3,1978.7 L282.4,1978.8 L282.5,1978.9 L282.6,1979.1 L282.7,1979.2 L282.9,1979.3 L283.0,1979.4 L283.1,1979.6 L283.3,1979.7 L283.4,1979.8 L283.5,1979.9 L283.7,1980.1 L283.8,1980.2 L283.9,1980.3 L284.1,1980.5 L284.2,1980.6 L284.4,1980.7 L284.5,1980.8 L284.7,1981.0 L284.8,1981.1 L285.0,1981.2 L285.1,1981.3 L285.3,1981.5 L285.4,1981.6 L285.6,1981.7 L285.8,1981.9 L285.9,1982.0 L286.1,1982.1 L286.3,1982.2 L286.4,1982.4 L286.6,1982.5 L286.8,1982.6 L287.0,1982.7 L287.1,1982.9 L287.3,1983.0 L287.5,1983.1 L287.7,1983.3 L287.9,1983.4 L288.1,1983.5 L288.3,1983.6 L288.5,1983.8 L288.7,1983.9 L288.9,1984.0 L289.1,1984.1 L289.3,1984.3 L289.5,1984.4 L289.7,1984.5 L289.9,1984.6 L290.1,1984.8 L290.3,1984.9 L290.5,1985.0 L290.8,1985.1 L291.0,1985.3 L291.2,1985.4 L291.4,1985.5 L291.7,1985.7 L291.9,1985.8 L292.1,1985.9 L292.4,1986.0 L292.6,1986.2 L292.9,1986.3 L293.1,1986.4 L293.4,1986.5 L293.6,1986.7 L293.9,1986.8 L294.1,1986.9 L294.4,1987.0 L294.6,1987.2 L294.9,1987.3 L295.2,1987.4 L295.4,1987.5 L295.7,1987.6 L296.0,1987.8 L296.3,1987.9 L296.6,1988.0 L296.8,1988.1 L297.1,1988.3 L297.4,1988.4 L297.7,1988.5 L298.0,1988.6 L298.3,1988.8 L298.6,1988.9 L298.9,1989.0 L299.2,1989.1 L299.6,1989.2 L299.9,1989.4 L300.2,1989.5 L300.5,1989.6 L300.8,1989.7 L301.2,1989.9 L301.5,1990.0 L301.8,1990.1 L302.2,1990.2 L302.5,1990.3 L302.9,1990.5 L303.2,1990.6 L303.6,1990.7 L303.9,1990.8 L304.3,1990.9 L304.6,1991.1 L305.0,1991.2 L305.4,1991.3 L305.8,1991.4 L306.1,1991.5 L306.5,1991.7 L306.9,1991.8 L307.3,1991.9 L307.7,1992.0 L308.1,1992.1 L308.5,1992.2 L308.9,1992.4 L309.3,1992.5 L309.7,1992.6 L310.1,1992.7 L310.5,1992.8 L310.9,1992.9 L311.4,1993.1 L311.8,1993.2 L312.2,1993.3 L312.7,1993.4 L313.1,1993.5 L313.6,1993.6 L314.0,1993.7 L314.5,1993.9 L314.9,1994.0 L315.4,1994.1 L315.9,1994.2 L316.3,1994.3 L316.8,1994.4 L317.3,1994.5 L317.8,1994.7 L318.3,1994.8 L318.7,1994.9 L319.2,1995.0 L319.7,1995.1 L320.2,1995.2 L320.8,1995.3 L321.3,1995.4 L321.8,1995.5 L322.3,1995.7 L322.8,1995.8 L323.4,1995.9 L323.9,1996.0 L324.5,1996.1 L325.0,1996.2 L325.6,1996.3 L326.1,1996.4 L326.7,1996.5 L327.2,1996.6 L327.8,1996.7 L328.4,1996.9 L329.0,1997.0 L329.6,1997.1 L330.1,1997.2 L330.7,1997.3 L331.3,1997.4 L331.9,1997.5 L332.6,1997.6 L333.2,1997.7 L333.8,1997.8 L334.4,1997.9 L335.0,1998.0 L335.7,1998.1 L336.3,1998.2 L337.0,1998.3 L337.6,1998.4 L338.3,1998.5 L338.9,1998.6 L339.6,1998.7 L340.3,1998.8 L341.0,1998.9 L341.7,1999.0 L342.3,1999.1 L343.0,1999.2 L343.7,1999.3 L344.5,1999.4 L345.2,1999.5 L345.9,1999.6 L346.6,1999.7 L347.3,1999.8 L348.1,1999.9 L348.8,2000.0 L349.6,2000.1 L350.3,2000.2 L351.1,2000.3 L351.9,2000.4 L352.6,2000.5 L353.4,2000.6 L354.2,2000.7 L355.0,2000.8 L355.8,2000.9 L356.6,2001.0 L357.4,2001.1 L358.2,2001.2 L359.0,2001.3 L359.9,2001.4 L360.7,2001.5 L361.6,2001.6 L362.4,2001.7 L363.3,2001.8 L364.1,2001.8 L365.0,2001.9 L365.9,2002.0 L366.8,2002.1 L367.7,2002.2 L368.6,2002.3 L369.5,2002.4 L370.4,2002.5 L371.3,2002.6 L372.2,2002.7 L373.1,2002.8 L374.1,2002.8 L375.0,2002.9 L376.0,2003.0 L376.9,2003.1 L377.9,2003.2 L378.9,2003.3 L379.9,2003.4 L380.9,2003.5 L381.9,2003.5 L382.9,2003.6 L383.9,2003.7 L384.9,2003.8 L385.9,2003.9 L387.0,2004.0 L388.0,2004.1 L389.1,2004.1 L390.1,2004.2 L391.2,2004.3 L392.3,2004.4 L393.4,2004.5 L394.5,2004.6 L395.6,2004.6 L396.7,2004.7 L397.8,2004.8 L398.9,2004.9 L400.0,2005.0 L401.2,2005.0 L402.3,2005.1 L403.5,2005.2 L404.7,2005.3 L405.8,2005.4 L407.0,2005.4 L408.2,2005.5 L409.4,2005.6 L410.6,2005.7 L411.8,2005.8 L413.1,2005.8 L414.3,2005.9 L415.6,2006.0 L416.8,2006.1 L418.1,2006.1 L419.4,2006.2 L420.6,2006.3 L421.9,2006.4 L423.2,2006.4 L424.6,2006.5 L425.9,2006.6 L427.2,2006.7 L428.5,2006.7 L429.9,2006.8 L431.3,2006.9 L432.6,2007.0 L434.0,2007.0 L435.4,2007.1 L436.8,2007.2 L438.2,2007.2 L439.6,2007.3 L441.1,2007.4 L442.5,2007.5 L443.9,2007.5 L445.4,2007.6 L446.9,2007.7 L448.4,2007.7 L449.9,2007.8 L451.4,2007.9 L452.9,2007.9 L454.4,2008.0 L455.9,2008.1 L457.5,2008.1 L459.0,2008.2 L460.6,2008.3 L462.2,2008.4 L463.8,2008.4 L465.4,2008.5 L467.0,2008.5 L468.6,2008.6 L470.3,2008.7 L471.9,2008.7 L473.6,2008.8 L475.2,2008.9 L476.9,2008.9 L478.6,2009.0 L480.3,2009.1 L482.0,2009.1 L483.8,2009.2 L485.5,2009.3 L487.3,2009.3 L489.0,2009.4 L490.8,2009.4 L492.6,2009.5 L494.4,2009.6 L496.2,2009.6 L498.1,2009.7 L499.9,2009.7 L501.7,2009.8 L503.6,2009.9 L505.5,2009.9 L507.4,2010.0 L509.3,2010.0 L511.2,2010.1 L513.2,2010.2 L515.1,2010.2 L517.1,2010.3 L519.0,2010.3 L521.0,2010.4 L523.0,2010.4 L525.0,2010.5 L527.1,2010.6 L529.1,2010.6 L531.2,2010.7 L533.2,2010.7 L535.3,2010.8 L537.4,2010.8 L539.5,2010.9 L541.7,2010.9 L543.8,2011.0 L546.0,2011.1 L548.1,2011.1 L550.3,2011.2 L552.5,2011.2 L554.8,2011.3 L557.0,2011.3 L559.2,2011.4 L561.5,2011.4 L563.8,2011.5 L566.1,2011.5 L568.4,2011.6 L570.7,2011.6 L573.1,2011.7 L575.4,2011.7 L577.8,2011.8 L580.2,2011.8 L582.6,2011.9 L585.0,2011.9 L587.4,2012.0 L589.9,2012.0 L592.4,2012.1 L594.9,2012.1 L597.4,2012.2 L599.9,2012.2 L602.4,2012.3 L605.0,2012.3 L607.6,2012.4 L610.2,2012.4 L612.8,2012.5 L615.4,2012.5 L618.0,2012.6 L620.7,2012.6 L623.4,2012.6 L626.1,2012.7 L628.8,2012.7 L631.5,2012.8 L634.3,2012.8 L637.1,2012.9 L639.9,2012.9 L642.7,2013.0 L645.5,2013.0 L648.3,2013.1 L651.2,2013.1 L654.1,2013.1 L657.0,2013.2 L659.9,2013.2 L662.9,2013.3 L665.8,2013.3 L668.8,2013.4 L671.8,2013.4 L674.9,2013.4 L677.9,2013.5 L681.0,2013.5 L684.1,2013.6 L687.2,2013.6 L690.3,2013.6 L693.4,2013.7 L696.6,2013.7 L699.8,2013.8 L703.0,2013.8 L706.3,2013.8 L709.5,2013.9 L712.8,2013.9 L716.1,2014.0 L719.4,2014.0 L722.7,2014.0 L726.1,2014.1 L729.5,2014.1 L732.9,2014.2 L736.3,2014.2 L739.8,2014.2 L743.3,2014.3 L746.8,2014.3 L750.3,2014.3 L753.9,2014.4 L757.4,2014.4 L761.0,2014.4 L764.7,2014.5 L768.3,2014.5 L772.0,2014.6 L775.7,2014.6 L779.4,2014.6 L783.1,2014.7 L786.9,2014.7 L790.7,2014.7 L794.5,2014.8 L798.4,2014.8 L802.2,2014.8 L806.1,2014.9 L810.0,2014.9 L814.0,2014.9 L818.0,2015.0 L822.0,2015.0 L826.0,2015.0 L830.0,2015.1 L834.1,2015.1 L838.2,2015.1 L842.4,2015.2 L846.5,2015.2 L850.7,2015.2 L854.9,2015.3 L859.2,2015.3 L863.4,2015.3 L867.7,2015.4 L872.1,2015.4 L876.4,2015.4 L880.8,2015.5 L885.2,2015.5 L889.7,2015.5 L894.1,2015.5 L898.7,2015.6 L903.2,2015.6 L907.8,2015.6 L912.3,2015.7 L917.0,2015.7 L921.6,2015.7 L926.3,2015.7 L931.0,2015.8 L935.8,2015.8"/>
<path clip-path="url(#cbC)" stroke="#2d3491" d="M190.5,2020.5 L190.6,2020.5 L190.7,2020.5 L190.8,2020.5 L190.9,2020.5 L191.0,2020.5 L191.1,2020.5 L191.2,2020.5 L191.3,2020.5 L191.4,2020.5 L191.5,2020.5 L191.6,2020.5 L191.7,2020.5 L191.8,2020.5 L191.9,2020.5 L192.0,2020.5 L192.1,2020.5 L192.2,2020.5 L192.3,2020.5 L192.4,2020.5 L192.5,2020.5 L192.6,2020.5 L192.7,2020.5 L192.8,2020.5 L192.9,2020.5 L193.0,2020.5 L193.1,2020.5 L193.2,2020.5 L193.3,2020.5 L193.4,2020.5 L193.5,2020.5 L193.6,2020.5 L193.7,2020.5 L193.8,2020.5 L193.9,2020.5 L194.0,2020.5 L194.1,2020.5 L194.2,2020.5 L194.3,2020.5 L194.4,2020.5 L194.5,2020.5 L194.6,2020.5 L194.7,2020.5 L194.8,2020.5 L194.9,2020.5 L195.0,2020.5 L195.1,2020.5 L195.2,2020.5 L195.3,2020.5 L195.4,2020.5 L195.5,2020.5 L195.6,2020.5 L195.7,2020.5 L195.8,2020.5 L195.9,2020.5 L196.0,2020.5 L196.1,2020.5 L196.2,2020.5 L196.3,2020.5 L196.4,2020.5 L196.5,2020.5 L196.6,2020.5 L196.7,2020.5 L196.8,2020.5 L196.9,2020.5 L197.0,2020.5 L197.1,2020.5 L197.2,2020.5 L197.3,2020.5 L197.4,2020.5 L197.5,2020.5 L197.6,2020.5 L197.7,2020.5 L197.8,2020.5 L197.9,2020.5 L198.0,2020.5 L198.1,2020.5 L198.2,2020.5 L198.3,2020.5 L198.4,2020.5 L198.5,2020.5 L198.6,2020.5 L198.7,2020.5 L198.8,2020.5 L198.9,2020.5 L199.0,2020.5 L199.1,2020.5 L199.2,2020.5 L199.3,2020.5 L199.4,2020.5 L199.5,2020.5 L199.6,2020.5 L199.7,2020.5 L199.8,2020.5 L199.9,2020.5 L200.0,2020.5 L200.1,2020.5 L200.2,2020.5 L200.3,2020.5 L200.4,2020.5 L200.5,2020.5 L200.6,2020.5 L200.7,2020.5 L200.8,2020.5 L200.9,2020.5 L201.0,2020.5 L201.1,2020.5 L201.2,2020.5 L201.3,2020.5 L201.4,2020.5 L201.5,2020.5 L201.6,2020.5 L201.7,2020.5 L201.8,2020.5 L201.9,2020.5 L202.0,2020.5 L202.1,2020.5 L202.2,2020.5 L202.3,2020.5 L202.4,2020.5 L202.5,2020.5 L202.6,2020.5 L202.7,2020.5 L202.8,2020.5 L202.9,2020.5 L203.0,2020.5 L203.1,2020.5 L203.2,2020.5 L203.3,2020.5 L203.4,2020.5 L203.5,2020.5 L203.6,2020.5 L203.7,2020.5 L203.8,2020.5 L203.9,2020.5 L204.0,2020.5 L204.1,2020.5 L204.2,2020.5 L204.3,2020.5 L204.4,2020.5 L204.5,2020.5 L204.6,2020.5 L204.7,2020.5 L204.8,2020.5 L204.9,2020.5 L205.0,2020.5 L205.1,2020.5 L205.2,2020.5 L205.3,2020.5 L205.4,2020.5 L205.5,2020.5 L205.6,2020.5 L205.7,2020.5 L205.8,2020.5 L205.9,2020.5 L206.0,2020.5 L206.1,2020.5 L206.2,2020.5 L206.3,2020.5 L206.4,2020.5 L206.5,2020.5 L206.6,2020.5 L206.7,2020.5 L206.8,2020.5 L206.9,2020.5 L207.0,2020.5 L207.1,2020.5 L207.2,2020.5 L207.3,2020.5 L207.4,2020.5 L207.5,2020.5 L207.6,2020.5 L207.7,2020.5 L207.8,2020.5 L207.9,2020.5 L208.0,2020.5 L208.1,2020.5 L208.2,2020.5 L208.3,2020.5 L208.4,2020.5 L208.5,2020.5 L208.6,2020.5 L208.7,2020.5 L208.8,2020.5 L208.9,2020.5 L209.0,2020.5 L209.1,2020.5 L209.2,2020.5 L209.3,2020.5 L209.4,2020.5 L209.5,2020.5 L209.6,2020.5 L209.7,2020.5 L209.8,2020.5 L209.9,2020.5 L210.0,2020.5 L210.1,2020.5 L210.2,2020.5 L210.3,2020.5 L210.4,2020.5 L210.5,2020.5 L210.6,2020.5 L210.7,2020.5 L210.8,2020.5 L210.9,2020.5 L211.0,2020.5 L211.1,2020.5 L211.1,2020.4 L211.2,2020.4 L211.3,2020.4 L211.4,2020.4 L211.5,2020.4 L211.6,2020.4 L211.7,2020.4 L211.8,2020.4 L211.9,2020.4 L212.0,2020.4 L212.1,2020.4 L212.2,2020.4 L212.3,2020.4 L212.4,2020.4 L212.5,2020.4 L212.6,2020.4 L212.7,2020.4 L212.8,2020.4 L212.9,2020.4 L213.0,2020.4 L213.1,2020.4 L213.2,2020.4 L213.3,2020.4 L213.4,2020.4 L213.5,2020.4 L213.6,2020.4 L213.7,2020.4 L213.8,2020.4 L213.9,2020.4 L214.0,2020.4 L214.1,2020.4 L214.2,2020.4 L214.3,2020.4 L214.4,2020.4 L214.5,2020.4 L214.6,2020.4 L214.7,2020.4 L214.8,2020.4 L214.9,2020.4 L215.0,2020.4 L215.1,2020.4 L215.2,2020.4 L215.3,2020.4 L215.4,2020.4 L215.5,2020.4 L215.6,2020.4 L215.7,2020.4 L215.8,2020.4 L215.9,2020.4 L216.0,2020.4 L216.1,2020.4 L216.2,2020.4 L216.3,2020.4 L216.4,2020.4 L216.5,2020.4 L216.6,2020.4 L216.7,2020.4 L216.8,2020.4 L216.9,2020.4 L217.0,2020.4 L217.1,2020.4 L217.2,2020.4 L217.3,2020.4 L217.4,2020.4 L217.5,2020.4 L217.6,2020.4 L217.7,2020.4 L217.8,2020.4 L217.9,2020.4 L218.0,2020.4 L218.1,2020.4 L218.2,2020.4 L218.3,2020.4 L218.4,2020.4 L218.5,2020.4 L218.6,2020.4 L218.7,2020.4 L218.8,2020.4 L218.9,2020.4 L219.0,2020.4 L219.1,2020.4 L219.2,2020.4 L219.3,2020.4 L219.4,2020.4 L219.5,2020.4 L219.6,2020.4 L219.7,2020.4 L219.8,2020.4 L219.9,2020.4 L220.0,2020.4 L220.1,2020.4 L220.2,2020.4 L220.3,2020.4 L220.4,2020.4 L220.5,2020.4 L220.6,2020.4 L220.7,2020.4 L220.8,2020.4 L220.9,2020.4 L221.0,2020.4 L221.1,2020.4 L221.2,2020.4 L221.3,2020.4 L221.4,2020.4 L221.5,2020.4 L221.6,2020.4 L221.7,2020.4 L221.8,2020.4 L221.9,2020.4 L222.0,2020.4 L222.1,2020.4 L222.2,2020.4 L222.3,2020.4 L222.4,2020.4 L222.5,2020.4 L222.6,2020.4 L222.7,2020.4 L222.8,2020.4 L222.9,2020.4 L223.0,2020.4 L223.1,2020.4 L223.2,2020.4 L223.3,2020.4 L223.4,2020.4 L223.5,2020.4 L223.6,2020.4 L223.7,2020.4 L223.8,2020.4 L223.9,2020.4 L224.0,2020.4 L224.1,2020.4 L224.2,2020.4 L224.3,2020.4 L224.4,2020.3 L224.5,2020.3 L224.6,2020.3 L224.7,2020.3 L224.8,2020.3 L224.9,2020.3 L225.0,2020.3 L225.1,2020.3 L225.2,2020.3 L225.3,2020.3 L225.4,2020.3 L225.5,2020.3 L225.6,2020.3 L225.7,2020.3 L225.8,2020.3 L225.9,2020.3 L226.0,2020.3 L226.1,2020.3 L226.2,2020.3 L226.3,2020.3 L226.4,2020.3 L226.5,2020.3 L226.6,2020.3 L226.7,2020.3 L226.8,2020.3 L226.9,2020.3 L227.0,2020.3 L227.1,2020.3 L227.2,2020.3 L227.3,2020.3 L227.4,2020.3 L227.5,2020.3 L227.6,2020.3 L227.7,2020.3 L227.8,2020.3 L227.9,2020.3 L228.0,2020.3 L228.1,2020.3 L228.2,2020.3 L228.4,2020.3 L228.5,2020.3 L228.6,2020.3 L228.7,2020.3 L228.8,2020.3 L228.9,2020.3 L229.0,2020.3 L229.1,2020.3 L229.2,2020.3 L229.3,2020.3 L229.4,2020.3 L229.5,2020.3 L229.6,2020.3 L229.7,2020.3 L229.9,2020.3 L230.0,2020.3 L230.1,2020.3 L230.2,2020.3 L230.3,2020.3 L230.4,2020.3 L230.5,2020.3 L230.6,2020.3 L230.7,2020.3 L230.8,2020.3 L231.0,2020.3 L231.1,2020.3 L231.2,2020.3 L231.3,2020.3 L231.4,2020.3 L231.5,2020.3 L231.6,2020.3 L231.7,2020.3 L231.9,2020.3 L232.0,2020.3 L232.1,2020.3 L232.2,2020.3 L232.3,2020.3 L232.4,2020.3 L232.5,2020.3 L232.7,2020.3 L232.8,2020.2 L232.9,2020.2 L233.0,2020.2 L233.1,2020.2 L233.2,2020.2 L233.3,2020.2 L233.5,2020.2 L233.6,2020.2 L233.7,2020.2 L233.8,2020.2 L233.9,2020.2 L234.0,2020.2 L234.2,2020.2 L234.3,2020.2 L234.4,2020.2 L234.5,2020.2 L234.6,2020.2 L234.8,2020.2 L234.9,2020.2 L235.0,2020.2 L235.1,2020.2 L235.2,2020.2 L235.3,2020.2 L235.5,2020.2 L235.6,2020.2 L235.7,2020.2 L235.8,2020.2 L235.9,2020.2 L236.1,2020.2 L236.2,2020.2 L236.3,2020.2 L236.4,2020.2 L236.5,2020.2 L236.7,2020.2 L236.8,2020.2 L236.9,2020.2 L237.0,2020.2 L237.1,2020.2 L237.3,2020.2 L237.4,2020.2 L237.5,2020.2 L237.6,2020.2 L237.8,2020.2 L237.9,2020.2 L238.0,2020.2 L238.1,2020.2 L238.2,2020.2 L238.4,2020.2 L238.5,2020.2 L238.6,2020.2 L238.7,2020.2 L238.9,2020.2 L239.0,2020.1 L239.1,2020.1 L239.2,2020.1 L239.4,2020.1 L239.5,2020.1 L239.6,2020.1 L239.7,2020.1 L239.8,2020.1 L240.0,2020.1 L240.1,2020.1 L240.2,2020.1 L240.3,2020.1 L240.5,2020.1 L240.6,2020.1 L240.7,2020.1 L240.8,2020.1 L241.0,2020.1 L241.1,2020.1 L241.2,2020.1 L241.3,2020.1 L241.5,2020.1 L241.6,2020.1 L241.7,2020.1 L241.8,2020.1 L242.0,2020.1 L242.1,2020.1 L242.2,2020.1 L242.3,2020.1 L242.5,2020.1 L242.6,2020.1 L242.7,2020.1 L242.8,2020.1 L243.0,2020.1 L243.1,2020.1 L243.2,2020.1 L243.4,2020.1 L243.5,2020.1 L243.6,2020.1 L243.7,2020.0 L243.9,2020.0 L244.0,2020.0 L244.1,2020.0 L244.2,2020.0 L244.4,2020.0 L244.5,2020.0 L244.6,2020.0 L244.7,2020.0 L244.9,2020.0 L245.0,2020.0 L245.1,2020.0 L245.2,2020.0 L245.4,2020.0 L245.5,2020.0 L245.6,2020.0 L245.7,2020.0 L245.9,2020.0 L246.0,2020.0 L246.1,2020.0 L246.3,2020.0 L246.4,2020.0 L246.5,2020.0 L246.6,2020.0 L246.8,2020.0 L246.9,2020.0 L247.0,2020.0 L247.1,2020.0 L247.3,2020.0 L247.4,2020.0 L247.5,2020.0 L247.6,2019.9 L247.8,2019.9 L247.9,2019.9 L248.0,2019.9 L248.1,2019.9 L248.3,2019.9 L248.4,2019.9 L248.5,2019.9 L248.6,2019.9 L248.8,2019.9 L248.9,2019.9 L249.0,2019.9 L249.1,2019.9 L249.3,2019.9 L249.4,2019.9 L249.5,2019.9 L249.6,2019.9 L249.8,2019.9 L249.9,2019.9 L250.0,2019.9 L250.1,2019.9 L250.3,2019.9 L250.4,2019.9 L250.5,2019.9 L250.6,2019.9 L250.8,2019.9 L250.9,2019.8 L251.0,2019.8 L251.1,2019.8 L251.2,2019.8 L251.4,2019.8 L251.5,2019.8 L251.6,2019.8 L251.7,2019.8 L251.9,2019.8 L252.0,2019.8 L252.1,2019.8 L252.2,2019.8 L252.3,2019.8 L252.5,2019.8 L252.6,2019.8 L252.7,2019.8 L252.8,2019.8 L253.0,2019.8 L253.1,2019.8 L253.2,2019.8 L253.3,2019.8 L253.4,2019.8 L253.6,2019.7 L253.7,2019.7 L253.8,2019.7 L253.9,2019.7 L254.0,2019.7 L254.2,2019.7 L254.3,2019.7 L254.4,2019.7 L254.5,2019.7 L254.6,2019.7 L254.7,2019.7 L254.9,2019.7 L255.0,2019.7 L255.1,2019.7 L255.2,2019.7 L255.3,2019.7 L255.4,2019.7 L255.6,2019.7 L255.7,2019.7 L255.8,2019.6 L255.9,2019.6 L256.0,2019.6 L256.1,2019.6 L256.3,2019.6 L256.4,2019.6 L256.5,2019.6 L256.6,2019.6 L256.7,2019.6 L256.8,2019.6 L256.9,2019.6 L257.1,2019.6 L257.2,2019.6 L257.3,2019.6 L257.4,2019.6 L257.5,2019.6 L257.6,2019.6 L257.7,2019.6 L257.8,2019.5 L258.0,2019.5 L258.1,2019.5 L258.2,2019.5 L258.3,2019.5 L258.4,2019.5 L258.5,2019.5 L258.6,2019.5 L258.7,2019.5 L258.8,2019.5 L258.9,2019.5 L259.1,2019.5 L259.2,2019.5 L259.3,2019.5 L259.4,2019.5 L259.5,2019.4 L259.6,2019.4 L259.7,2019.4 L259.8,2019.4 L259.9,2019.4 L260.0,2019.4 L260.1,2019.4 L260.2,2019.4 L260.3,2019.4 L260.4,2019.4 L260.6,2019.4 L260.7,2019.4 L260.8,2019.4 L260.9,2019.4 L261.0,2019.3 L261.1,2019.3 L261.2,2019.3 L261.3,2019.3 L261.4,2019.3 L261.5,2019.3 L261.6,2019.3 L261.7,2019.3 L261.8,2019.3 L261.9,2019.3 L262.0,2019.3 L262.1,2019.3 L262.2,2019.3 L262.3,2019.2 L262.4,2019.2 L262.5,2019.2 L262.6,2019.2 L262.7,2019.2 L262.8,2019.2 L262.9,2019.2 L263.0,2019.2 L263.1,2019.2 L263.2,2019.2 L263.3,2019.2 L263.4,2019.1 L263.5,2019.1 L263.6,2019.1 L263.7,2019.1 L263.8,2019.1 L263.9,2019.1 L264.0,2019.1 L264.1,2019.1 L264.2,2019.1 L264.3,2019.1 L264.4,2019.1 L264.5,2019.0 L264.6,2019.0 L264.7,2019.0 L264.8,2019.0 L264.9,2019.0 L265.0,2019.0 L265.1,2019.0 L265.2,2019.0 L265.3,2019.0 L265.4,2018.9 L265.5,2018.9 L265.6,2018.9 L265.7,2018.9 L265.8,2018.9 L265.9,2018.9 L266.0,2018.9 L266.1,2018.9 L266.2,2018.8 L266.3,2018.8 L266.4,2018.8 L266.5,2018.8 L266.6,2018.8 L266.7,2018.8 L266.8,2018.8 L266.9,2018.8 L266.9,2018.7 L267.0,2018.7 L267.1,2018.7 L267.2,2018.7 L267.3,2018.7 L267.4,2018.7 L267.5,2018.7 L267.6,2018.6 L267.7,2018.6 L267.8,2018.6 L267.9,2018.6 L268.0,2018.6 L268.1,2018.6 L268.2,2018.5 L268.3,2018.5 L268.4,2018.5 L268.5,2018.5 L268.6,2018.5 L268.7,2018.5 L268.8,2018.4 L268.9,2018.4 L269.0,2018.4 L269.1,2018.4 L269.2,2018.4 L269.2,2018.3 L269.3,2018.3 L269.4,2018.3 L269.5,2018.3 L269.6,2018.3 L269.7,2018.2 L269.8,2018.2 L269.9,2018.2 L270.0,2018.2 L270.1,2018.2 L270.2,2018.1 L270.3,2018.1 L270.4,2018.1 L270.5,2018.1 L270.6,2018.0 L270.7,2018.0 L270.8,2018.0 L270.9,2018.0 L270.9,2017.9 L271.0,2017.9 L271.1,2017.9 L271.2,2017.9 L271.3,2017.8 L271.4,2017.8 L271.5,2017.8 L271.5,2017.7 L271.6,2017.7 L271.7,2017.7 L271.8,2017.7 L271.8,2017.6 L271.9,2017.6 L272.0,2017.6 L272.1,2017.5 L272.2,2017.5 L272.3,2017.5 L272.3,2017.4 L272.4,2017.4 L272.5,2017.4 L272.6,2017.3 L272.7,2017.3 L272.8,2017.2 L272.9,2017.2 L273.0,2017.2 L273.0,2017.1 L273.1,2017.1 L273.2,2017.0 L273.3,2017.0 L273.4,2016.9 L273.5,2016.9 L273.5,2016.8 L273.6,2016.8 L273.6,2016.7 L273.7,2016.7 L273.8,2016.7 L273.8,2016.6 L273.9,2016.6 L273.9,2016.5 L274.0,2016.5 L274.0,2016.4 L274.1,2016.4 L274.2,2016.3 L274.3,2016.2 L274.4,2016.1 L274.5,2016.0 L274.6,2015.9 L274.6,2015.8 L274.7,2015.8 L274.7,2015.7 L274.8,2015.7 L274.8,2015.6 L274.8,2015.5 L274.9,2015.5 L274.9,2015.4 L275.0,2015.4 L275.0,2015.3 L275.0,2015.2 L275.1,2015.2 L275.1,2015.1 L275.1,2015.0 L275.2,2015.0 L275.2,2014.9 L275.2,2014.8 L275.3,2014.7 L275.3,2014.6 L275.3,2014.5 L275.4,2014.5 L275.4,2014.4 L275.4,2014.3 L275.4,2014.2 L275.4,2014.1 L275.5,2014.1 L275.5,2014.0 L275.5,2013.9 L275.5,2013.8 L275.5,2013.7 L275.6,2013.7 L275.6,2013.6 L275.6,2013.5 L275.6,2013.4 L275.6,2013.3 L275.6,2013.2 L275.6,2013.1 L275.7,2013.0 L275.7,2012.9 L275.7,2012.8 L275.7,2012.7 L275.7,2012.6 L275.7,2012.5 L275.7,2012.4 L275.7,2012.3 L275.7,2012.2 L275.7,2012.1 L275.7,2012.0 L275.7,2011.9 L275.7,2011.8 L275.7,2011.7 L275.8,2011.7 L275.8,2011.6 L275.8,2011.5 L275.8,2011.4 L275.8,2011.3 L275.8,2011.2 L275.8,2011.1 L275.8,2011.0 L275.8,2010.9 L275.8,2010.8 L275.8,2010.7 L275.8,2010.6 L275.8,2010.5 L275.8,2010.4 L275.8,2010.3 L275.8,2010.2 L275.8,2010.1 L275.8,2010.0 L275.8,2009.9 L275.8,2009.8 L275.8,2009.7 L275.8,2009.6 L275.8,2009.5 L275.8,2009.4 L275.8,2009.3 L275.8,2009.2 L275.8,2009.1 L275.8,2009.0 L275.8,2008.9 L275.8,2008.8 L275.8,2008.7 L275.8,2008.6 L275.8,2008.5 L275.8,2008.4 L275.8,2008.3 L275.8,2008.2 L275.8,2008.1 L275.8,2008.0 L275.8,2007.9 L275.8,2007.8 L275.8,2007.7 L275.9,2007.6 L275.9,2007.5 L275.9,2007.4 L275.9,2007.3 L275.9,2007.2 L275.9,2007.1 L275.9,2007.0 L275.9,2006.9 L275.9,2006.8 L275.9,2006.7 L275.9,2006.6 L275.9,2006.5 L275.9,2006.4 L275.9,2006.3 L275.9,2006.2 L275.9,2006.1 L276.0,2006.0 L276.0,2005.9 L276.0,2005.8 L276.0,2005.7 L276.0,2005.6 L276.0,2005.5 L276.0,2005.4 L276.0,2005.3 L276.0,2005.2 L276.0,2005.1 L276.0,2005.0 L276.1,2004.9 L276.1,2004.8 L276.1,2004.7 L276.1,2004.6 L276.1,2004.5 L276.1,2004.4 L276.1,2004.3 L276.1,2004.2 L276.2,2004.1 L276.2,2004.0 L276.2,2003.9 L276.2,2003.8 L276.2,2003.7 L276.2,2003.6 L276.2,2003.5 L276.3,2003.4 L276.3,2003.2 L276.3,2003.1 L276.3,2003.0 L276.3,2002.9 L276.3,2002.8 L276.4,2002.7 L276.4,2002.6 L276.4,2002.4 L276.4,2002.3 L276.5,2002.2 L276.5,2002.1 L276.5,2002.0 L276.5,2001.8 L276.5,2001.7 L276.6,2001.6 L276.6,2001.5 L276.6,2001.4 L276.6,2001.2 L276.7,2001.1 L276.7,2001.0 L276.7,2000.8 L276.8,2000.7 L276.8,2000.6 L276.8,2000.5 L276.8,2000.3 L276.9,2000.2 L276.9,2000.1 L276.9,1999.9 L277.0,1999.8 L277.0,1999.7 L277.0,1999.5 L277.1,1999.4 L277.1,1999.3 L277.2,1999.1 L277.2,1999.0 L277.2,1998.8 L277.3,1998.7 L277.3,1998.6 L277.4,1998.4 L277.4,1998.3 L277.4,1998.1 L277.5,1998.0 L277.5,1997.8 L277.6,1997.7 L277.6,1997.5 L277.7,1997.4 L277.7,1997.2 L277.8,1997.1 L277.8,1996.9 L277.9,1996.8 L277.9,1996.6 L278.0,1996.5 L278.0,1996.3 L278.1,1996.2 L278.1,1996.0 L278.2,1995.8 L278.2,1995.7 L278.3,1995.5 L278.4,1995.4 L278.4,1995.2 L278.5,1995.0 L278.5,1994.9 L278.6,1994.7 L278.7,1994.5 L278.7,1994.4 L278.8,1994.2 L278.9,1994.0 L278.9,1993.8 L279.0,1993.7 L279.1,1993.5 L279.1,1993.3 L279.2,1993.1 L279.3,1993.0 L279.4,1992.8 L279.4,1992.6 L279.5,1992.4 L279.6,1992.2 L279.7,1992.1 L279.8,1991.9 L279.8,1991.7 L279.9,1991.5 L280.0,1991.3 L280.1,1991.1 L280.2,1990.9 L280.3,1990.7 L280.4,1990.5 L280.5,1990.3 L280.6,1990.1 L280.7,1990.0 L280.8,1989.8 L280.9,1989.6 L281.0,1989.4 L281.1,1989.1 L281.2,1988.9 L281.3,1988.7 L281.4,1988.5 L281.5,1988.3 L281.6,1988.1 L281.7,1987.9 L281.8,1987.7 L281.9,1987.5 L282.0,1987.3 L282.1,1987.0 L282.3,1986.8 L282.4,1986.6 L282.5,1986.4 L282.6,1986.2 L282.7,1985.9 L282.9,1985.7 L283.0,1985.5 L283.1,1985.3 L283.3,1985.0 L283.4,1984.8 L283.5,1984.6 L283.7,1984.3 L283.8,1984.1 L283.9,1983.9 L284.1,1983.6 L284.2,1983.4 L284.4,1983.1 L284.5,1982.9 L284.7,1982.7 L284.8,1982.4 L285.0,1982.2 L285.1,1981.9 L285.3,1981.7 L285.4,1981.4 L285.6,1981.2 L285.8,1980.9 L285.9,1980.6 L286.1,1980.4 L286.3,1980.1 L286.4,1979.9 L286.6,1979.6 L286.8,1979.3 L287.0,1979.1 L287.1,1978.8 L287.3,1978.5 L287.5,1978.2 L287.7,1978.0 L287.9,1977.7 L288.1,1977.4 L288.3,1977.1 L288.5,1976.9 L288.7,1976.6 L288.9,1976.3 L289.1,1976.0 L289.3,1975.7 L289.5,1975.4 L289.7,1975.1 L289.9,1974.8 L290.1,1974.5 L290.3,1974.2 L290.5,1973.9 L290.8,1973.6 L291.0,1973.3 L291.2,1973.0 L291.4,1972.7 L291.7,1972.4 L291.9,1972.1 L292.1,1971.8 L292.4,1971.4 L292.6,1971.1 L292.9,1970.8 L293.1,1970.5 L293.4,1970.2 L293.6,1969.8 L293.9,1969.5 L294.1,1969.2 L294.4,1968.8 L294.6,1968.5 L294.9,1968.2 L295.2,1967.8 L295.4,1967.5 L295.7,1967.1 L296.0,1966.8 L296.3,1966.4 L296.6,1966.1 L296.8,1965.7 L297.1,1965.4 L297.4,1965.0 L297.7,1964.6 L298.0,1964.3 L298.3,1963.9 L298.6,1963.6 L298.9,1963.2 L299.2,1962.8 L299.6,1962.4 L299.9,1962.1 L300.2,1961.7 L300.5,1961.3 L300.8,1960.9 L301.2,1960.5 L301.5,1960.1 L301.8,1959.7 L302.2,1959.3 L302.5,1958.9 L302.9,1958.5 L303.2,1958.1 L303.6,1957.7 L303.9,1957.3 L304.3,1956.9 L304.6,1956.5 L305.0,1956.1 L305.4,1955.7 L305.8,1955.2 L306.1,1954.8 L306.5,1954.4 L306.9,1954.0 L307.3,1953.5 L307.7,1953.1 L308.1,1952.6 L308.5,1952.2 L308.9,1951.8 L309.3,1951.3 L309.7,1950.9 L310.1,1950.4 L310.5,1950.0 L310.9,1949.5 L311.4,1949.0 L311.8,1948.6 L312.2,1948.1 L312.7,1947.6 L313.1,1947.2 L313.6,1946.7 L314.0,1946.2 L314.5,1945.7 L314.9,1945.2 L315.4,1944.7 L315.9,1944.2 L316.3,1943.7 L316.8,1943.2 L317.3,1942.7 L317.8,1942.2 L318.3,1941.7 L318.7,1941.2 L319.2,1940.7 L319.7,1940.2 L320.2,1939.7 L320.8,1939.1 L321.3,1938.6 L321.8,1938.1 L322.3,1937.5 L322.8,1937.0 L323.4,1936.4 L323.9,1935.9 L324.5,1935.4 L325.0,1934.8 L325.6,1934.2 L326.1,1933.7 L326.7,1933.1 L327.2,1932.5 L327.8,1932.0 L328.4,1931.4 L329.0,1930.8 L329.6,1930.2 L330.1,1929.6 L330.7,1929.1 L331.3,1928.5 L331.9,1927.9 L332.6,1927.3 L333.2,1926.6 L333.8,1926.0 L334.4,1925.4 L335.0,1924.8 L335.7,1924.2 L336.3,1923.6 L337.0,1922.9 L337.6,1922.3 L338.3,1921.6 L338.9,1921.0 L339.6,1920.4 L340.3,1919.7 L341.0,1919.0 L341.7,1918.4 L342.3,1917.7 L343.0,1917.1 L343.7,1916.4 L344.5,1915.7 L345.2,1915.0 L345.9,1914.3 L346.6,1913.6 L347.3,1912.9 L348.1,1912.2 L348.8,1911.5 L349.6,1910.8 L350.3,1910.1 L351.1,1909.4 L351.9,1908.7 L352.6,1908.0 L353.4,1907.2 L354.2,1906.5 L355.0,1905.7 L355.8,1905.0 L356.6,1904.2 L357.4,1903.5 L358.2,1902.7 L359.0,1902.0 L359.9,1901.2 L360.7,1900.4 L361.6,1899.6 L362.4,1898.8 L363.3,1898.0 L364.1,1897.2 L365.0,1896.4 L365.9,1895.6 L366.8,1894.8 L367.7,1894.0 L368.6,1893.2 L369.5,1892.4 L370.4,1891.5 L371.3,1890.7 L372.2,1889.8 L373.1,1889.0 L374.1,1888.1 L375.0,1887.3 L376.0,1886.4 L376.9,1885.5 L377.9,1884.7 L378.9,1883.8 L379.9,1882.9 L380.9,1882.0 L381.9,1881.1 L382.9,1880.2 L383.9,1879.3 L384.9,1878.3 L385.9,1877.4 L387.0,1876.5 L388.0,1875.5 L389.1,1874.6 L390.1,1873.7 L391.2,1872.7 L392.3,1871.7 L393.4,1870.8 L394.5,1869.8 L395.6,1868.8 L396.7,1867.8 L397.8,1866.8 L398.9,1865.8 L400.0,1864.8 L401.2,1863.8 L402.3,1862.8 L403.5,1861.8 L404.7,1860.7 L405.8,1859.7 L407.0,1858.6 L408.2,1857.6 L409.4,1856.5 L410.6,1855.5 L411.8,1854.4 L413.1,1853.3 L414.3,1852.2 L415.6,1851.1 L416.8,1850.0 L418.1,1848.9 L419.4,1847.8 L420.6,1846.7 L421.9,1845.5 L423.2,1844.4 L424.6,1843.3 L425.9,1842.1 L427.2,1840.9 L428.5,1839.8 L429.9,1838.6 L431.3,1837.4 L432.6,1836.2 L434.0,1835.0 L435.4,1833.8 L436.8,1832.6 L438.2,1831.4 L439.6,1830.1 L441.1,1828.9 L442.5,1827.7 L443.9,1826.4 L445.4,1825.1 L446.9,1823.9 L448.4,1822.6 L449.9,1821.3 L451.4,1820.0 L452.9,1818.7 L454.4,1817.4 L455.9,1816.1 L457.5,1814.7 L459.0,1813.4 L460.6,1812.0 L462.2,1810.7 L463.8,1809.3 L465.4,1807.9 L467.0,1806.6 L468.6,1805.2 L470.3,1803.8 L471.9,1802.4 L473.6,1800.9 L475.2,1799.5 L476.9,1798.1 L478.6,1796.6 L480.3,1795.2 L482.0,1793.7 L483.8,1792.2 L485.5,1790.7 L487.3,1789.2 L489.0,1787.7 L490.8,1786.2 L492.6,1784.7 L494.4,1783.2 L496.2,1781.6 L498.1,1780.1 L499.9,1778.5 L501.7,1776.9 L503.6,1775.3 L505.5,1773.7 L507.4,1772.1 L509.3,1770.5 L511.2,1768.9 L513.2,1767.2 L515.1,1765.6 L517.1,1763.9 L519.0,1762.3 L521.0,1760.6 L523.0,1758.9 L525.0,1757.2 L527.1,1755.5 L529.1,1753.8 L531.2,1752.0 L533.2,1750.3 L535.3,1748.5 L537.4,1746.7 L539.5,1745.0 L541.7,1743.2 L543.8,1741.4 L546.0,1739.5 L548.1,1737.7 L550.3,1735.9 L552.5,1734.0 L554.8,1732.2 L557.0,1730.3 L559.2,1728.4 L561.5,1726.5 L563.8,1724.6 L566.1,1722.7 L568.4,1720.7 L570.7,1718.8 L573.1,1716.8 L575.4,1714.8 L577.8,1712.8 L580.2,1710.8 L582.6,1708.8 L585.0,1706.8 L587.4,1704.7 L589.9,1702.7 L592.4,1700.6 L594.9,1698.5 L597.4,1696.4 L599.9,1694.3 L602.4,1692.2 L605.0,1690.1 L607.6,1687.9 L610.2,1685.8 L612.8,1683.6 L615.4,1681.4 L618.0,1679.2 L620.7,1677.0 L623.4,1674.7 L626.1,1672.5 L628.8,1670.2 L631.5,1667.9 L634.3,1665.6 L637.1,1663.3 L639.9,1661.0 L642.7,1658.7 L645.5,1656.3 L648.3,1653.9 L651.2,1651.5 L654.1,1649.1 L657.0,1646.7 L659.9,1644.3 L662.9,1641.8 L665.8,1639.4 L668.8,1636.9 L671.8,1634.4 L674.9,1631.9 L677.9,1629.4 L681.0,1626.8 L684.1,1624.2 L687.2,1621.7 L690.3,1619.1 L693.4,1616.5 L696.6,1613.8 L699.8,1611.2 L703.0,1608.5 L706.3,1605.8 L709.5,1603.1 L712.8,1600.4 L716.1,1597.7 L719.4,1594.9 L722.7,1592.2 L726.1,1589.4 L729.5,1586.6 L732.9,1583.7 L736.3,1580.9 L739.8,1578.0 L743.3,1575.2 L746.8,1572.3 L750.3,1569.3 L753.9,1566.4 L757.4,1563.5 L761.0,1560.5 L764.7,1557.5 L768.3,1554.5 L772.0,1551.4 L775.7,1548.4 L779.4,1545.3 L783.1,1542.2 L786.9,1539.1 L790.7,1536.0 L794.5,1532.8 L798.4,1529.6 L802.2,1526.4 L806.1,1523.2 L810.0,1520.0 L814.0,1516.7 L818.0,1513.5 L822.0,1510.2 L826.0,1506.8 L830.0,1503.5 L834.1,1500.1 L838.2,1496.7 L842.4,1493.3 L846.5,1489.9 L850.7,1486.4 L854.9,1483.0 L859.2,1479.5 L863.4,1475.9 L867.7,1472.4 L872.1,1468.8 L876.4,1465.2 L880.8,1461.6 L885.2,1458.0 L889.7,1454.3 L894.1,1450.6 L898.7,1446.9 L903.2,1443.2 L907.8,1439.4 L912.3,1435.7 L917.0,1431.9 L921.6,1428.0 L926.3,1424.2 L931.0,1420.3 L935.8,1416.4"/>
</g>
<g font-family="'Liberation Sans', sans-serif" font-size="34.3" fill="#231f20" stroke="#231f20" stroke-width="0.3">
<text transform="translate(187.4,2033.5) scale(1,1.05774)" text-anchor="end">0</text>
<text transform="translate(190.4,2057.6) scale(1,1.05774)" text-anchor="middle">0</text>
<text transform="translate(187.4,1923.6) scale(1,1.05774)" text-anchor="end">200</text>
<text transform="translate(324.9,2057.6) scale(1,1.05774)" text-anchor="middle">200</text>
<text transform="translate(187.4,1813.8) scale(1,1.05774)" text-anchor="end">400</text>
<text transform="translate(459.3,2057.6) scale(1,1.05774)" text-anchor="middle">400</text>
<text transform="translate(187.4,1704.0) scale(1,1.05774)" text-anchor="end">600</text>
<text transform="translate(593.8,2057.6) scale(1,1.05774)" text-anchor="middle">600</text>
<text transform="translate(187.4,1594.1) scale(1,1.05774)" text-anchor="end">800</text>
<text transform="translate(728.2,2057.6) scale(1,1.05774)" text-anchor="middle">800</text>
<text transform="translate(187.4,1484.3) scale(1,1.05774)" text-anchor="end">1000</text>
<text transform="translate(862.7,2057.6) scale(1,1.05774)" text-anchor="middle">1000</text>
</g>
<g font-family="'Liberation Sans', sans-serif" font-size="40.5" fill="#231f20" stroke="#231f20" stroke-width="0.45">
    <text x="353.47" y="2111.0" font-size="40.5" textLength="82.00" lengthAdjust="spacingAndGlyphs">Total</text>
    <text x="445.79" y="2111.0" font-size="40.5" textLength="114.06" lengthAdjust="spacingAndGlyphs">[Clb5];</text>
    <text x="565.85" y="2111.0" font-size="40.5" textLength="55.42" lengthAdjust="spacingAndGlyphs">nM</text>
<g transform="translate(35.1,1428) rotate(-90)">
    <text x="-496.40" y="0.0" font-size="40.5" textLength="72.67" lengthAdjust="spacingAndGlyphs">Free</text>
    <text x="-413.44" y="0.0" font-size="40.5" textLength="86.39" lengthAdjust="spacingAndGlyphs">[Clb5</text>
    <text x="-324.00" y="0.0" font-size="40.5" textLength="12.00" lengthAdjust="spacingAndGlyphs">-</text>
    <text x="-311.00" y="0.0" font-size="40.5" textLength="97.87" lengthAdjust="spacingAndGlyphs">Cdk1]</text>
    <text x="-211.50" y="0.0" font-size="40.5" textLength="24.57" lengthAdjust="spacingAndGlyphs">&amp;</text>
</g>
<g transform="translate(84.8,1428) rotate(-90)">
    <text x="-472.65" y="0.0" font-size="40.5" textLength="83.87" lengthAdjust="spacingAndGlyphs">Total</text>
    <text x="-378.33" y="0.0" font-size="40.5" textLength="102.55" lengthAdjust="spacingAndGlyphs">[Sic1];</text>
    <text x="-267.87" y="0.0" font-size="40.5" textLength="55.87" lengthAdjust="spacingAndGlyphs">nM</text>
</g>
</g>
<text transform="translate(12.7,1448.1) scale(1.12,1)" font-family="'Liberation Sans', sans-serif" font-weight="bold" font-size="34.6" fill="#231f20">C</text>
<g font-family="'Liberation Sans', sans-serif" fill="#231f20" stroke="#231f20" stroke-width="0.3">
<text x="512.01" y="1914.6" font-size="31.5" textLength="14.05" lengthAdjust="spacingAndGlyphs">k</text>
<text x="527.11" y="1925.1" font-size="17.3" textLength="36.03" lengthAdjust="spacingAndGlyphs">Clb5</text>
<text x="563.31" y="1914.6" font-size="31" textLength="20.19" lengthAdjust="spacingAndGlyphs">=</text>
<text x="583.59" y="1914.6" font-size="30.5" textLength="70.99" lengthAdjust="spacingAndGlyphs">0.001</text>
<text x="665.31" y="1914.6" font-size="30.5" textLength="45.79" lengthAdjust="spacingAndGlyphs">nM</text>
<text x="709.76" y="1903.1" font-size="16.5" textLength="12.74" lengthAdjust="spacingAndGlyphs">-1</text>
<text x="731.6" y="1918.5" font-size="39" stroke="none">×</text>
<text x="760.01" y="1914.6" font-size="30.5" textLength="53.02" lengthAdjust="spacingAndGlyphs">min</text>
<text x="812.27" y="1903.1" font-size="16.5" textLength="14.64" lengthAdjust="spacingAndGlyphs">-1</text>
<text x="512.01" y="1954.6" font-size="31.5" textLength="14.05" lengthAdjust="spacingAndGlyphs">k</text>
<text x="527.11" y="1965.1" font-size="17.3" textLength="36.18" lengthAdjust="spacingAndGlyphs">Cln2</text>
<text x="563.31" y="1954.6" font-size="31" textLength="20.19" lengthAdjust="spacingAndGlyphs">=</text>
<text x="583.58" y="1954.6" font-size="30.5" textLength="87.94" lengthAdjust="spacingAndGlyphs">0.0003</text>
<text x="682.36" y="1954.6" font-size="30.5" textLength="45.79" lengthAdjust="spacingAndGlyphs">nM</text>
<text x="726.81" y="1943.1" font-size="16.5" textLength="12.74" lengthAdjust="spacingAndGlyphs">-1</text>
<text x="748.6" y="1958.5" font-size="39" stroke="none">×</text>
<text x="777.06" y="1954.6" font-size="30.5" textLength="53.02" lengthAdjust="spacingAndGlyphs">min</text>
<text x="829.32" y="1943.1" font-size="16.5" textLength="14.64" lengthAdjust="spacingAndGlyphs">-1</text>
</g>
</svg>
</body></html>
